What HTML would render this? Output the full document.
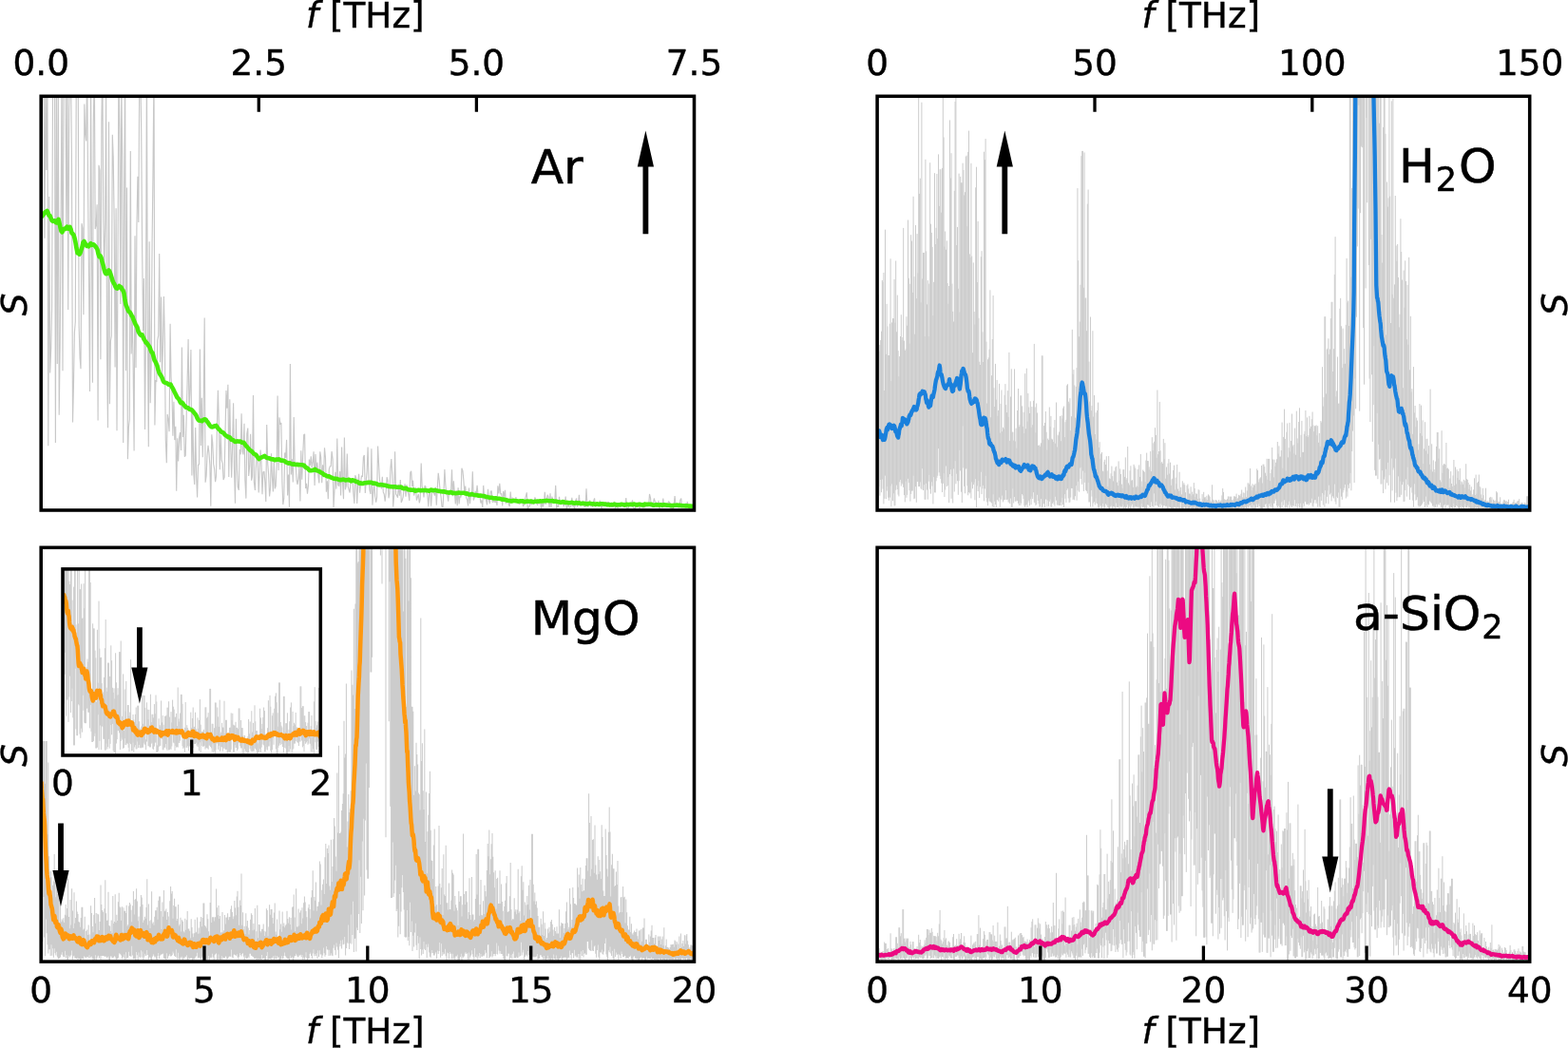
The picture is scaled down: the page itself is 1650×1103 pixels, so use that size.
<!DOCTYPE html>
<html lang="en">
<head>
<meta charset="utf-8">
<title>Spectra: Ar, H2O, MgO, a-SiO2</title>
<style>
html,body{margin:0;padding:0;background:#fff;}
body{width:1650px;height:1103px;overflow:hidden;}
svg{display:block;}
</style>
</head>
<body>
<svg width="1650" height="1103" viewBox="0 0 1650 1103">
<defs><clipPath id="c_ar"><rect x="43.2" y="101.3" width="687.3" height="435.7"/></clipPath><clipPath id="c_h2o"><rect x="923.1" y="101.3" width="686.6" height="435.7"/></clipPath><clipPath id="c_mgo"><rect x="43.2" y="576.3" width="687.3" height="435.8"/></clipPath><clipPath id="c_sio2"><rect x="923.1" y="576.3" width="686.6" height="435.8"/></clipPath><clipPath id="c_ins"><rect x="66" y="598.9" width="271.3" height="196.1"/></clipPath></defs>
<g id="ar">
<path d="M43.2,71.3 44.2,125.6 45.1,71.3 46.1,96.4 47,250.7 48,71.3 48.9,179.1 49.9,90.4 50.8,469.2 51.8,206.9 52.7,392.5 53.7,366.8 54.6,322.9 55.6,71.3 56.5,71.3 57.5,71.3 58.4,465.9 59.4,71.3 60.3,383.1 61.3,84.3 62.2,436.7 63.2,361.4 64.1,233.4 65.1,71.3 66,390.3 67,71.3 67.9,71.3 68.9,71.3 69.8,242.1 70.8,71.3 71.7,326.1 72.7,117.2 73.6,71.3 74.6,81.8 75.5,173.4 76.5,444.6 77.4,407.3 78.4,350 79.3,338.5 80.3,71.3 81.2,79.4 82.2,71.3 83.1,343 84.1,376.4 85,388.2 86,235.2 86.9,240 87.9,331.3 88.8,109.6 89.8,141.3 90.7,148.4 91.7,71.3 92.6,200.8 93.6,301.2 94.5,412.1 95.5,71.3 96.4,249.7 97.4,402.8 98.3,128.7 99.3,71.3 100.2,241 101.2,236.6 102.1,215.3 103.1,442.6 104,173.8 105,179.4 105.9,378.3 106.9,128.6 107.8,71.3 108.8,232.2 109.7,286.2 110.7,233.5 111.6,98.3 112.6,378.7 113.5,450.3 114.5,128.2 115.4,425.2 116.4,359 117.3,353.7 118.3,141.8 119.2,165.7 120.2,235 121.1,386.4 122.1,219.3 123,453.3 124,274.8 124.9,73.2 125.9,135.6 126.8,320.1 127.8,90.8 128.7,164.6 129.7,465.9 130.6,217 131.6,71.3 132.5,390.2 133.5,197.5 134.4,483.3 135.4,449.5 136.3,441.5 137.3,159.1 138.2,372.4 139.2,332.8 140.1,380.9 141.1,474.5 142,248.3 143,387.1 143.9,239.7 144.9,185.7 145.8,233.9 146.8,71.3 147.7,71.3 148.7,138.1 149.6,259.8 150.6,348.2 151.5,292.9 152.5,452 153.4,354.9 154.4,71.3 155.3,340.4 156.3,470.3 157.2,254.2 158.2,424.3 159.1,384.5 160.1,253.4 161,182.6 162,71.3 162.9,447.4 163.9,399.9 164.8,402 165.8,357.8 166.7,352.8 167.7,266.9 168.6,381.3 169.6,312.6 170.5,395.8 171.5,362.6 172.4,311.9 173.4,360.3 174.3,462.5 175.3,487.3 176.2,436 177.2,441.9 178.1,454.3 179.1,340.7 180,396.8 181,414.4 181.9,458.7 182.9,422.7 183.8,463.1 184.8,448.7 185.7,516.8 186.7,461.3 187.6,485.4 188.6,460.5 189.5,455.1 190.5,474 191.4,365.5 192.4,459.9 193.3,436.8 194.3,480.7 195.2,479.5 196.2,438.1 197.1,402.7 198.1,356.9 199,432.5 200,409.3 200.9,368 201.9,500.4 202.8,432.1 203.8,497.7 204.7,509.9 205.7,449.9 206.6,499.8 207.6,523.6 208.5,489.1 209.5,488.9 210.4,367.5 211.4,469 212.3,418.8 213.3,481.3 214.2,425.5 215.2,334.4 216.1,507.7 217.1,500.7 218,479.7 219,468.7 219.9,476.1 220.9,489.7 221.8,532.7 222.8,457.3 223.7,465.9 224.7,488.4 225.6,493.4 226.6,507.1 227.5,501.5 228.5,444.8 229.4,410.7 230.4,448.1 231.3,494.3 232.3,457.7 233.2,484.2 234.2,487.6 235.1,505 236.1,502.4 237,455.1 238,411.1 238.9,429.7 239.9,404.8 240.8,501.9 241.8,420.2 242.7,468.5 243.7,502.7 244.6,469.7 245.6,424.2 246.5,492.8 247.5,529.7 248.4,440.8 249.4,493.6 250.3,512.7 251.3,515.9 252.2,473 253.2,478.3 254.1,435.3 255.1,475 256,478.4 257,445.7 257.9,505.8 258.9,524.6 259.8,456.7 260.8,450.6 261.7,500.9 262.7,490.1 263.6,456.7 264.6,505.7 265.5,501.5 266.5,416 267.4,507.6 268.4,515.9 269.3,492.8 270.3,476.7 271.2,483.1 272.2,518.6 273.1,497.7 274.1,473.6 275,485.5 276,520.2 276.9,497 277.9,496.1 278.8,506.8 279.8,528 280.7,447 281.7,487.5 282.6,498.7 283.6,522.4 284.5,514.4 285.5,477.3 286.4,501.8 287.4,517.4 288.3,485.3 289.3,514.4 290.2,511.6 291.2,487.6 292.1,416.5 293.1,495.1 294,439.3 295,446.7 295.9,445 296.9,507.1 297.8,531.1 298.8,524.3 299.7,476.4 300.7,481.9 301.6,462.9 302.6,521.5 303.5,499.6 304.5,533.7 305.4,383 306.4,499.5 307.3,483.3 308.3,507.6 309.2,438.9 310.2,490.3 311.1,486.9 312.1,505.2 313,509.9 314,503.3 314.9,491.2 315.9,527.5 316.8,474.2 317.8,504.8 318.7,479.2 319.7,457.7 320.6,456.8 321.6,514.1 322.5,508.9 323.5,519.6 324.4,511.4 325.4,483.6 326.3,490 327.3,480.2 328.2,492.2 329.2,485.9 330.1,475.2 331.1,511 332,478.1 333,497.1 333.9,486.6 334.9,501.3 335.8,508.4 336.8,475.3 337.7,481.4 338.7,508.3 339.6,489.2 340.6,500.4 341.5,471.2 342.5,482 343.4,517.7 344.4,506.2 345.3,525.3 346.3,494 347.2,490.9 348.2,490.6 349.1,475 350.1,483.3 351,534.2 352,516 352.9,496.8 353.9,514.6 354.8,461.6 355.8,510.4 356.7,511.8 357.7,496 358.6,521.4 359.6,470.6 360.5,506.4 361.5,525.3 362.4,460.5 363.4,515.3 364.3,511.4 365.3,477.4 366.2,511.9 367.2,515.6 368.1,518.5 369.1,506.5 370,505.9 371,504.1 371.9,519.5 372.9,530 373.8,500.2 374.8,503.1 375.7,529.9 376.7,508.3 377.6,498.8 378.6,518.6 379.5,509.4 380.5,500.5 381.4,502 382.4,481.2 383.3,478.9 384.3,519 385.2,506.8 386.2,495.5 387.1,470.6 388.1,505.7 389,515.8 390,520 390.9,472.3 391.9,531.6 392.8,518.5 393.8,508.2 394.7,522.5 395.7,528.7 396.6,523.5 397.6,469.6 398.5,487.1 399.5,505 400.4,510.2 401.4,514.4 402.3,501.9 403.3,517.9 404.2,520 405.2,527.7 406.1,519.2 407.1,502.2 408,505.2 409,524.3 409.9,519.6 410.9,493.1 411.8,483 412.8,501.1 413.7,533.5 414.7,521.2 415.6,475.2 416.6,520 417.5,521.4 418.5,523.8 419.4,509.8 420.4,521.6 421.3,505.1 422.3,528.9 423.2,526.6 424.2,522.8 425.1,514.4 426.1,509.4 427,522.6 428,510.3 428.9,516.7 429.9,520.4 430.8,527 431.8,497.2 432.7,495.7 433.7,512 434.6,505.7 435.6,521.5 436.5,518.2 437.5,512.8 438.4,526.7 439.4,523.2 440.3,520 441.3,529.4 442.2,525.4 443.2,487.5 444.1,511.5 445.1,515.6 446,523.4 447,511.2 447.9,512.2 448.9,518.2 449.8,520.6 450.8,533.2 451.7,519.3 452.7,518.3 453.6,532.6 454.6,517.6 455.5,514.1 456.5,518.8 457.4,521.7 458.4,512.8 459.3,531.8 460.3,513.6 461.2,497.8 462.2,505.9 463.1,516.6 464.1,523.2 465,533.1 466,533.9 466.9,517.5 467.9,494 468.8,510 469.8,520.3 470.7,520.9 471.7,527.7 472.6,516.7 473.6,518.8 474.5,519.3 475.5,494.2 476.4,522.3 477.4,506.4 478.3,518.3 479.3,530.5 480.2,516.3 481.2,532.2 482.1,513.2 483.1,530.4 484,522.2 485,523.4 485.9,492.8 486.9,495.4 487.8,504.5 488.8,518.2 489.7,511.6 490.7,523.9 491.6,525.8 492.6,532.5 493.5,513.6 494.5,530.3 495.4,521.4 496.4,522.9 497.3,496.2 498.3,526.5 499.2,523.8 500.2,516.8 501.1,520.8 502.1,510.7 503,520.5 504,519.6 504.9,521.8 505.9,529.5 506.8,526.5 507.8,534.1 508.7,510.9 509.7,525.7 510.6,520.7 511.6,526.6 512.5,531.4 513.5,514.9 514.4,525.7 515.4,530.2 516.3,517.3 517.3,516.6 518.2,528.5 519.2,528.1 520.1,526.7 521.1,529.1 522,525.3 523,531.9 523.9,511.4 524.9,519.5 525.8,508.8 526.8,520.3 527.7,519.4 528.7,532.4 529.6,517 530.6,522.7 531.5,515.9 532.5,530.3 533.4,524.1 534.4,525.4 535.3,531.3 536.3,532.9 537.2,517.5 538.2,530 539.1,523.6 540.1,528.7 541,527 542,528.6 542.9,523 543.9,527.6 544.8,529.9 545.8,529.2 546.7,530.8 547.7,529.2 548.6,527.9 549.6,527.6 550.5,532.9 551.5,531.3 552.4,525.3 553.4,522.1 554.3,518.4 555.3,536.2 556.2,533.9 557.2,533 558.1,526.3 559.1,531.5 560,525.4 561,529.7 561.9,530.9 562.9,523.4 563.8,525.7 564.8,530.2 565.7,531.6 566.7,525.9 567.6,530.4 568.6,526.4 569.5,535.5 570.5,528.4 571.4,533.4 572.4,529.6 573.3,517.7 574.3,530.9 575.2,526.5 576.2,520.8 577.1,523.3 578.1,533.9 579,519.3 580,534.2 580.9,522.5 581.9,527.2 582.8,528.1 583.8,527.5 584.7,510.9 585.7,534.9 586.6,532 587.6,533.8 588.5,522.8 589.5,529.6 590.4,531.1 591.4,529.1 592.3,530.4 593.3,533 594.2,529.5 595.2,522.5 596.1,535.4 597.1,534 598,527.4 599,534.2 599.9,533.7 600.9,532.9 601.8,523.8 602.8,532.7 603.7,532.9 604.7,535.5 605.6,526.9 606.6,524.6 607.5,533.6 608.5,530.2 609.4,520.7 610.4,532.5 611.3,530.7 612.3,532 613.2,526.8 614.2,530.5 615.1,533.7 616.1,532.9 617,514.4 618,532.6 618.9,533.2 619.9,529.2 620.8,526.5 621.8,533.2 622.7,529.3 623.7,533.8 624.6,527.4 625.6,524.4 626.5,533 627.5,531.9 628.4,529.3 629.4,532.1 630.3,532.8 631.3,526.5 632.2,531.8 633.2,535.6 634.1,530.3 635.1,528.1 636,532.9 637,531.8 637.9,528.1 638.9,532.6 639.8,528.2 640.8,528.9 641.7,531.1 642.7,532.1 643.6,533.5 644.6,533.5 645.5,533.6 646.5,527.8 647.4,535.3 648.4,532.1 649.3,533.5 650.3,534.5 651.2,531.4 652.2,532.8 653.1,533.9 654.1,529.4 655,530.9 656,533.5 656.9,533 657.9,529.8 658.8,524.1 659.8,535.2 660.7,535.7 661.7,533 662.6,531.4 663.6,530.1 664.5,530.3 665.5,526.3 666.4,534 667.4,534.7 668.3,536.1 669.3,530.5 670.2,530.2 671.2,533 672.1,532.5 673.1,535.3 674,532.4 675,530.2 675.9,530.1 676.9,534.9 677.8,528.5 678.8,534.4 679.7,529.8 680.7,532 681.6,531.8 682.6,532.9 683.5,520 684.5,524.1 685.4,533.3 686.4,532.9 687.3,531.4 688.3,524.5 689.2,527.9 690.2,528 691.1,532.9 692.1,532.3 693,526.9 694,535.9 694.9,530.6 695.9,531.9 696.8,534.4 697.8,524.6 698.7,532.7 699.7,532.6 700.6,532.2 701.6,530 702.5,531.8 703.5,527.7 704.4,528.4 705.4,530.4 706.3,533.4 707.3,535.4 708.2,535.5 709.2,531 710.1,522 711.1,532.2 712,530.3 713,533.2 713.9,533.5 714.9,533.8 715.8,526.3 716.8,524.5 717.7,533.9 718.7,532 719.6,533.6 720.6,533.4 721.5,529.9 722.5,531.6 723.4,528 724.4,533.7 725.3,535.4 726.3,533.7 727.2,533 728.2,534.4 729.1,531.2 730.1,533.6 731,534.4" fill="none" stroke="#c8c8c8" stroke-width="1.15" stroke-linejoin="bevel" clip-path="url(#c_ar)"/>
<path d="M43.5,228.4 44.5,227.4 45.5,226.1 46.5,225 47.5,223.1 48.5,222.8 49.5,221.9 50.5,223.6 51.5,226.7 52.5,226.9 53.5,229.5 54.5,232 55.5,232.8 56.5,232.3 57.5,232.2 58.5,234 59.5,234.4 60.5,232.5 61.5,230.8 62.5,234.6 63.5,239.6 64.5,243.3 65.5,244.4 66.5,241.3 67.5,240.9 68.5,241.1 69.5,239.8 70.5,238.6 71.5,240.7 72.5,240.5 73.5,238.8 74.5,241.1 75.5,245.3 76.5,246 77.5,247.2 78.5,250.6 79.5,255.3 80.5,261.3 81.5,266.3 82.5,266.2 83.5,267.6 84.5,266.1 85.5,262.8 86.5,259.7 87.5,255.1 88.5,254 89.5,255.8 90.5,257.7 91.5,259 92.5,258.6 93.5,259.3 94.5,257.4 95.5,256.3 96.5,257.8 97.5,257.4 98.5,257.3 99.5,258.4 100.5,259.4 101.5,260.8 102.5,262.8 103.5,267.3 104.5,270.2 105.5,269.1 106.5,271.3 107.5,275.4 108.5,278.8 109.5,283.1 110.5,286.6 111.5,288.1 112.5,288.1 113.5,285.6 114.5,284.4 115.5,286.2 116.5,288.8 117.5,292.2 118.5,295.6 119.5,297.6 120.5,299.2 121.5,301.9 122.5,303.3 123.5,303.7 124.5,302.7 125.5,301 126.5,302.2 127.5,302.3 128.5,304.7 129.5,305.7 130.5,308.8 131.5,315.8 132.5,320.9 133.5,323.2 134.5,326 135.5,327.8 136.5,328.4 137.5,330 138.5,332.2 139.5,333.4 140.5,336.4 141.5,338.6 142.5,341.2 143.5,342.8 144.5,344.6 145.5,348.6 146.5,350.5 147.5,352.1 148.5,352.9 149.5,352.4 150.5,354.7 151.5,357 152.5,358.5 153.5,360.6 154.5,361 155.5,362.5 156.5,364 157.5,365.3 158.5,368.1 159.5,370.6 160.5,371.4 161.5,375.2 162.5,379 163.5,380.6 164.5,382.8 165.5,385.2 166.5,389.1 167.5,392.2 168.5,394.2 169.5,395.5 170.5,397.5 171.5,400.3 172.5,402 173.5,402.7 174.5,402.9 175.5,403.2 176.5,403.9 177.5,404.8 178.5,404.8 179.5,404.6 180.5,406.6 181.5,408.2 182.5,410.1 183.5,412.3 184.5,414.2 185.5,416.4 186.5,418.4 187.5,419.3 188.5,420.5 189.5,423 190.5,424.2 191.5,423.7 192.5,424.7 193.5,426.4 194.5,427.3 195.5,428.5 196.5,428.9 197.5,429 198.5,429.8 199.5,430.7 200.5,431 201.5,431.3 202.5,432.2 203.5,433.4 204.5,434.7 205.5,435.8 206.5,437.4 207.5,439.8 208.5,441.6 209.5,442.6 210.5,442.8 211.5,442.7 212.5,443.2 213.5,442.3 214.5,441.5 215.5,441.3 216.5,441.6 217.5,443.1 218.5,444.3 219.5,445.8 220.5,447.4 221.5,448.6 222.5,449.2 223.5,449.4 224.5,449 225.5,448.3 226.5,448.5 227.5,448 228.5,449.6 229.5,450.9 230.5,451.7 231.5,452.9 232.5,454.1 233.5,455 234.5,455.1 235.5,456 236.5,457.4 237.5,458.3 238.5,458.8 239.5,459.6 240.5,460.3 241.5,460.1 242.5,461.1 243.5,462.8 244.5,463 245.5,463.2 246.5,464.4 247.5,465 248.5,464.7 249.5,464.4 250.5,464.5 251.5,464.6 252.5,464.5 253.5,464.9 254.5,465.8 255.5,465.7 256.5,465.8 257.5,467.4 258.5,468.7 259.5,469.6 260.5,470.9 261.5,472.1 262.5,473.2 263.5,474.3 264.5,474.7 265.5,475.7 266.5,476.8 267.5,477.8 268.5,478.3 269.5,478.9 270.5,480.4 271.5,481.7 272.5,483 273.5,482.3 274.5,481.8 275.5,481.2 276.5,480.8 277.5,480.3 278.5,479.9 279.5,480.8 280.5,481.7 281.5,482.1 282.5,482.3 283.5,482.4 284.5,482.9 285.5,483.3 286.5,483.4 287.5,483.4 288.5,483.9 289.5,484.3 290.5,483.5 291.5,483.5 292.5,483.8 293.5,483.4 294.5,483.9 295.5,484.6 296.5,484.7 297.5,484.6 298.5,485.1 299.5,485.3 300.5,486.2 301.5,486.7 302.5,487 303.5,487.7 304.5,487.3 305.5,487.5 306.5,488.3 307.5,488.6 308.5,488.8 309.5,488.3 310.5,489 311.5,489 312.5,488.8 313.5,489.3 314.5,489 315.5,489.3 316.5,489.2 317.5,489.3 318.5,489.5 319.5,489.5 320.5,490.5 321.5,491.6 322.5,492.4 323.5,492.7 324.5,493.6 325.5,495 326.5,495.3 327.5,495.2 328.5,495 329.5,494.9 330.5,494.5 331.5,493.9 332.5,494.7 333.5,495.3 334.5,495.6 335.5,495.9 336.5,496.3 337.5,497.3 338.5,497.8 339.5,498.1 340.5,499.3 341.5,500 342.5,500.1 343.5,500.8 344.5,501.4 345.5,501.3 346.5,501.4 347.5,502 348.5,502.7 349.5,502.9 350.5,503.4 351.5,503.8 352.5,503.9 353.5,503.7 354.5,503.9 355.5,504.4 356.5,504.7 357.5,505 358.5,505.3 359.5,505 360.5,504.7 361.5,504.5 362.5,505 363.5,505.4 364.5,505.3 365.5,505.3 366.5,504.9 367.5,504.9 368.5,505.8 369.5,506.4 370.5,505.3 371.5,505.5 372.5,505.9 373.5,506.1 374.5,506.8 375.5,507.1 376.5,507.3 377.5,508.2 378.5,508.7 379.5,508.4 380.5,508.9 381.5,509 382.5,508.6 383.5,508.3 384.5,508.3 385.5,508.3 386.5,508 387.5,507.7 388.5,507.7 389.5,507.9 390.5,507.8 391.5,508.1 392.5,508.7 393.5,508.6 394.5,508.6 395.5,508.9 396.5,509.4 397.5,509.9 398.5,510.3 399.5,510.4 400.5,510.1 401.5,510.3 402.5,510.4 403.5,510.5 404.5,510.8 405.5,510.8 406.5,511.1 407.5,511.5 408.5,511.6 409.5,512 410.5,512.1 411.5,512.3 412.5,512.3 413.5,512.4 414.5,512.2 415.5,512.2 416.5,512.6 417.5,512.8 418.5,512.7 419.5,512.8 420.5,512.7 421.5,512.6 422.5,512.8 423.5,513.8 424.5,514.1 425.5,514.2 426.5,513.9 427.5,513.9 428.5,514.6 429.5,515.2 430.5,515.4 431.5,515.6 432.5,515.6 433.5,515.8 434.5,515.7 435.5,515.6 436.5,516.5 437.5,516.6 438.5,516.2 439.5,516.1 440.5,515.8 441.5,516 442.5,516.3 443.5,516.3 444.5,516 445.5,516 446.5,516.1 447.5,515.9 448.5,516.2 449.5,516.3 450.5,516.5 451.5,516.6 452.5,516.1 453.5,515.6 454.5,515.8 455.5,516.1 456.5,516.1 457.5,515.9 458.5,516.1 459.5,516.4 460.5,516.6 461.5,516.9 462.5,516.9 463.5,517.1 464.5,517.2 465.5,517.4 466.5,517.2 467.5,517.2 468.5,517.8 469.5,518 470.5,518.1 471.5,518.4 472.5,518.6 473.5,518.1 474.5,518 475.5,518.7 476.5,519 477.5,518.8 478.5,519 479.5,519.2 480.5,519 481.5,518.9 482.5,518.6 483.5,518.5 484.5,519 485.5,519 486.5,518.8 487.5,518.7 488.5,518.8 489.5,519.4 490.5,519.6 491.5,519.3 492.5,520 493.5,520.5 494.5,520.5 495.5,520.4 496.5,520 497.5,520.4 498.5,520.7 499.5,520.9 500.5,521.1 501.5,521 502.5,521.2 503.5,521.8 504.5,521.8 505.5,521.5 506.5,521.7 507.5,522 508.5,522.1 509.5,522 510.5,522.5 511.5,523 512.5,523 513.5,523.3 514.5,523.5 515.5,523.7 516.5,523.7 517.5,523.8 518.5,524.1 519.5,524.5 520.5,524.5 521.5,524.2 522.5,524.5 523.5,524.7 524.5,524.7 525.5,524.8 526.5,525.1 527.5,525.4 528.5,525.7 529.5,525.6 530.5,525.6 531.5,526 532.5,526.2 533.5,526.6 534.5,526.7 535.5,526.9 536.5,527.1 537.5,527.4 538.5,527.4 539.5,527.2 540.5,526.9 541.5,527 542.5,527.2 543.5,527.2 544.5,527.5 545.5,527.6 546.5,527.5 547.5,527.4 548.5,527.5 549.5,527.3 550.5,527.3 551.5,528 552.5,528.2 553.5,527.9 554.5,527.5 555.5,527.6 556.5,527.8 557.5,527.7 558.5,527.5 559.5,527.7 560.5,528.2 561.5,528.2 562.5,527.7 563.5,527.7 564.5,527.7 565.5,527.6 566.5,527.7 567.5,527.5 568.5,527.4 569.5,527.5 570.5,527.5 571.5,527.2 572.5,527.3 573.5,527.3 574.5,527 575.5,526.9 576.5,527.1 577.5,527.3 578.5,527.2 579.5,527.2 580.5,527.3 581.5,527.1 582.5,527.6 583.5,527.7 584.5,527.5 585.5,527.7 586.5,528.1 587.5,528.2 588.5,528.2 589.5,528.7 590.5,528.7 591.5,528.2 592.5,528.1 593.5,528.5 594.5,528.9 595.5,529 596.5,528.9 597.5,529 598.5,529.3 599.5,529.3 600.5,529.1 601.5,528.9 602.5,529 603.5,529.6 604.5,529.8 605.5,529.2 606.5,529.1 607.5,529.5 608.5,529.6 609.5,529.3 610.5,529.8 611.5,530.1 612.5,529.9 613.5,529.9 614.5,529.8 615.5,530 616.5,530.4 617.5,530.4 618.5,530.4 619.5,530 620.5,529.9 621.5,530.1 622.5,530.3 623.5,530.4 624.5,530.3 625.5,530.6 626.5,530.9 627.5,530.5 628.5,530.3 629.5,530.8 630.5,530.9 631.5,530.4 632.5,530.3 633.5,530.2 634.5,530.4 635.5,530.6 636.5,530.6 637.5,530.8 638.5,531.1 639.5,531.1 640.5,531 641.5,531.4 642.5,531.2 643.5,531.1 644.5,531.2 645.5,531 646.5,530.7 647.5,531 648.5,531.4 649.5,531.2 650.5,531.2 651.5,531.3 652.5,531.2 653.5,530.8 654.5,530.9 655.5,531.1 656.5,531.3 657.5,531.6 658.5,531.3 659.5,530.9 660.5,531 661.5,531.1 662.5,530.9 663.5,530.7 664.5,530.9 665.5,531.2 666.5,530.8 667.5,530.6 668.5,530.9 669.5,531.4 670.5,531.4 671.5,530.9 672.5,530.7 673.5,530.8 674.5,531.3 675.5,531.4 676.5,531.4 677.5,531.4 678.5,530.6 679.5,530.7 680.5,530.9 681.5,530.9 682.5,530.8 683.5,530.8 684.5,530.9 685.5,530.8 686.5,531.4 687.5,531.7 688.5,531.6 689.5,531.4 690.5,531.4 691.5,531.3 692.5,531.4 693.5,531.6 694.5,531.4 695.5,531.3 696.5,531.6 697.5,531.6 698.5,531.3 699.5,531.4 700.5,531.5 701.5,531.6 702.5,531.7 703.5,531.7 704.5,531.7 705.5,532.1 706.5,532 707.5,532 708.5,532.1 709.5,531.8 710.5,531.8 711.5,531.7 712.5,531.6 713.5,531.7 714.5,532 715.5,531.8 716.5,532 717.5,532.3 718.5,532.2 719.5,532.2 720.5,532.2 721.5,532.4 722.5,532.3 723.5,532.4 724.5,532.6 725.5,532.6 726.5,532.5 727.5,532.7 728.5,532.9 729.5,532.8 730.5,532.6" fill="none" stroke="#48ec0a" stroke-width="4.6" stroke-linejoin="round" stroke-linecap="butt" clip-path="url(#c_ar)"/>
<path d="M272.3,101.3v16.5M501.4,101.3v16.5" stroke="#000" stroke-width="3.3" fill="none"/>
<rect x="43.2" y="101.3" width="687.3" height="435.7" fill="none" stroke="#000" stroke-width="3.55"/>
<polygon points="676.5,246.2 682.3,246.2 682.3,175.6 688,175.6 679.4,137.5 670.8,175.6 676.5,175.6" fill="#000"/>
</g>
<g id="h2o">
<path d="M923.5,529.5V305.1M924.3,529.5V310.1M925.1,512.2V369.7M925.9,521.7V363M926.7,505V358M927.5,518.2V348.7M928.3,504.5V294.9M929.1,514.6V296.9M929.9,530.4V287M930.7,524.9V411M931.5,500.6V241.7M932.3,525.1V372.8M933.1,516.6V319.8M933.9,512V343.5M934.7,523.7V374M935.5,526.8V374M936.3,523.6V340.7M937.1,511.6V272.3M937.9,533.1V401.1M938.7,509.4V339.4M939.5,527.2V335.1M940.3,519.3V335.1M941.1,532.3V293.9M941.9,532.2V339.7M942.7,515.8V274.5M943.5,510.6V349.3M944.3,515V310.6M945.1,520.6V369.1M945.9,522.4V396.1M946.7,507.3V375.1M947.5,504.9V354M948.3,511.6V331.2M949.1,508.5V357.8M949.9,509.6V355M950.7,512.9V239.9M951.5,521.1V358.6M952.3,528.4V369M953.1,506.7V367.4M953.9,523.8V333.2M954.7,520.9V342.7M955.5,503.8V231.5M956.3,508.2V292.7M957.1,516.1V361.6M957.9,527.6V298.8M958.7,519.9V247.2M959.5,516.6V253.6M960.3,516.6V307.9M961.1,500.8V206.8M961.9,525.2V291.1M962.7,524.5V351.7M963.5,512.2V237M964.3,528.8V314.1M965.1,507V246.1M965.9,507V287.4M966.7,512.1V99.3M967.5,512.1V203.9M968.3,507.4V187.7M969.1,514.1V318.3M969.9,515.2V107.7M970.7,493.2V293.4M971.5,516V265.9M972.3,510.2V265.9M973.1,525.8V354M973.9,525.8V167.8M974.7,508.9V264.4M975.5,515.6V320.4M976.3,525.7V295.1M977.1,506.7V354.1M977.9,499.9V298.6M978.7,514.8V171.2M979.5,519.7V235.7M980.3,507.3V244.9M981.1,511.6V259.9M981.9,530.4V332.1M982.7,502.1V296.8M983.5,518.3V182.2M984.3,518.5V257M985.1,506.3V239.8M985.9,502.9V183M986.7,500.8V251.1M987.5,472.1V162.4M988.3,497.3V216.9M989.1,500.9V178.2M989.9,504.1V178.2M990.7,508.6V223.7M991.5,518.1V176.9M992.3,508.9V99.3M993.1,498.2V144.4M993.9,523V259.6M994.7,515.5V243.5M995.5,490.5V262.7M996.3,512V253.4M997.1,511.2V298M997.9,502.1V319.7M998.7,529.2V301M999.5,499.1V126.4M1000.3,494.2V187.5M1001.1,524.9V161.2M1001.9,501V298.6M1002.7,529.5V327.9M1003.5,493.4V338.5M1004.3,517.5V200.8M1005.1,485.2V106.9M1005.9,509.3V99.3M1006.7,498.7V258M1007.5,506.2V238.9M1008.3,520.8V303.8M1009.1,506.3V182.6M1009.9,473.8V328.5M1010.7,495.4V185.8M1011.5,517.7V192.3M1012.3,529V192.3M1013.1,448.5V171.7M1013.9,492.4V179M1014.7,511.9V205.4M1015.5,519.3V202.2M1016.3,493.5V164.7M1017.1,493.1V163.6M1017.9,511.4V238.1M1018.7,521.3V159.9M1019.5,518V137.6M1020.3,519.4V267.4M1021.1,518V271M1021.9,524.5V171.8M1022.7,507.4V269.6M1023.5,514.3V371.2M1024.3,510.1V276.4M1025.1,507.7V328.1M1025.9,526.3V341.5M1026.7,504.2V197.3M1027.5,534.3V175.7M1028.3,511.4V297M1029.1,517.1V232.9M1029.9,505.9V334.8M1030.7,524.1V380.7M1031.5,512.4V384M1032.3,496.7V270.2M1033.1,520.1V264.2M1033.9,514.3V349.4M1034.7,510.9V381M1035.5,527.3V159.7M1036.3,514.4V168.1M1037.1,500.9V146.1M1037.9,524V359.6M1038.7,528.5V424.5M1039.5,532.2V378.3M1040.3,524.4V376.3M1041.1,527.7V367.6M1041.9,527.7V305.3M1042.7,528.6V439.2M1043.5,529.4V395.2M1044.3,533.1V357M1045.1,520.3V311M1045.9,534.2V408.3M1046.7,527.7V428M1047.5,531V382.9M1048.3,534V420.6M1049.1,526V399.9M1049.9,526.3V437.8M1050.7,527.7V431.9M1051.5,523.6V403.8M1052.3,533.7V455.5M1053.1,525V425M1053.9,526.3V410.5M1054.7,521.6V454.2M1055.5,528.4V449.8M1056.3,526.4V451.4M1057.1,526V415.7M1057.9,526V404.1M1058.7,516V426.1M1059.5,526V434.1M1060.3,525.6V411.1M1061.1,528.6V438.8M1061.9,528.6V370.9M1062.7,530.1V464M1063.5,524.6V417.5M1064.3,533.8V388.3M1065.1,533.8V454.7M1065.9,514.3V454.7M1066.7,529.5V463.6M1067.5,523V388.4M1068.3,527.7V464.5M1069.1,527.7V450.6M1069.9,526.6V471.6M1070.7,527.2V432M1071.5,529.9V409M1072.3,532V449.1M1073.1,528.5V447.1M1073.9,532V416.3M1074.7,529.8V416.3M1075.5,520V427.4M1076.3,521.4V448.9M1077.1,525.1V433.6M1077.9,532.2V456M1078.7,533.8V393.2M1079.5,531.7V451.3M1080.3,531V387.7M1081.1,533.8V443.6M1081.9,528.8V413.9M1082.7,526.8V428.5M1083.5,532.3V434.9M1084.3,525.3V422.3M1085.1,531.2V449.9M1085.9,522.5V428.1M1086.7,525.1V447.2M1087.5,518.2V421.8M1088.3,528.8V361.9M1089.1,529.5V428.5M1089.9,532.1V455.3M1090.7,531V424.5M1091.5,520.8V434.5M1092.3,527V469M1093.1,530.3V468.6M1093.9,533.6V468.4M1094.7,533.1V470.1M1095.5,525.1V466.3M1096.3,534.8V374.3M1097.1,533.5V374.3M1097.9,530.5V462.7M1098.7,530V448.1M1099.5,534.3V445M1100.3,525.3V433M1101.1,525.9V454.7M1101.9,532.9V473.5M1102.7,526.7V461.6M1103.5,532.8V463.1M1104.3,527.8V428.5M1105.1,525.6V448.9M1105.9,533.3V437.9M1106.7,533.6V461.7M1107.5,529.8V462.5M1108.3,528.5V465.1M1109.1,530.9V450.2M1109.9,532.6V441.9M1110.7,522.8V466.7M1111.5,526.7V423.5M1112.3,531.5V470.5M1113.1,531.5V457.5M1113.9,531.8V458.6M1114.7,532V454.5M1115.5,532V438M1116.3,528.6V464.2M1117.1,532.1V437.3M1117.9,523.9V440.5M1118.7,531V429.5M1119.5,533.9V427.6M1120.3,520.2V460.1M1121.1,524.8V444.2M1121.9,528.9V441.7M1122.7,515.9V405.5M1123.5,514.3V404.3M1124.3,524.5V422.7M1125.1,529V424.4M1125.9,528.5V419.1M1126.7,523.6V453.2M1127.5,513.9V438.2M1128.3,514V346.8M1129.1,526V393.8M1129.9,524.9V389.1M1130.7,526.3V405.5M1131.5,522.2V439.6M1132.3,511.2V406.9M1133.1,526.7V387.1M1133.9,516.4V198.1M1134.7,506.8V274.1M1135.5,517.7V354.3M1136.3,492.6V338.6M1137.1,504V299.7M1137.9,491.9V164.1M1138.7,509.8V158.9M1139.5,495.6V158.9M1140.3,517V302.7M1141.1,507.9V160.4M1141.9,497.6V313.6M1142.7,515.9V313.6M1143.5,516.9V348.2M1144.3,519.4V214.6M1145.1,508V199.5M1145.9,528.5V380.6M1146.7,528.3V422.6M1147.5,533.4V333.5M1148.3,516.1V432.1M1149.1,522.6V427.1M1149.9,533.3V348.2M1150.7,529.5V438.6M1151.5,528.1V416M1152.3,531.5V457M1153.1,524.5V434.2M1153.9,529.6V462.4M1154.7,530.2V431.9M1155.5,533.7V423.6M1156.3,535.2V470.9M1157.1,531.4V465.2M1157.9,533.3V482.7M1158.7,532.3V477.6M1159.5,535V476M1160.3,529.9V495.7M1161.1,532.9V496.3M1161.9,535.5V486.1M1162.7,533.8V483.8M1163.5,530.2V489M1164.3,531.4V480.2M1165.1,532.4V495.4M1165.9,534V511.9M1166.7,534.8V480M1167.5,535.9V503.5M1168.3,533.3V503.9M1169.1,533.3V498.3M1169.9,531.8V490.6M1170.7,535.3V501.1M1171.5,533.1V506.4M1172.3,533V495.5M1173.1,534.6V496.4M1173.9,534.8V491.7M1174.7,529.6V490.7M1175.5,533.8V507.6M1176.3,534.1V511.1M1177.1,532.7V485.4M1177.9,535V505.9M1178.7,532.6V493.4M1179.5,533.4V499M1180.3,533.4V509.6M1181.1,533.4V513.7M1181.9,531V494.2M1182.7,535.1V494.2M1183.5,533.4V501.9M1184.3,535.1V481.4M1185.1,534.2V505M1185.9,533.2V503.2M1186.7,531V470M1187.5,535V508.4M1188.3,532.7V510.4M1189.1,534.8V495.3M1189.9,536.8V490.3M1190.7,532.5V505.7M1191.5,530.6V505.3M1192.3,534.7V512.8M1193.1,533.5V488.8M1193.9,534.8V490.6M1194.7,532.7V492.8M1195.5,533.5V512.7M1196.3,533V511.5M1197.1,534V493.8M1197.9,534.9V512.3M1198.7,533.3V489.4M1199.5,535.1V501.9M1200.3,536.2V477.9M1201.1,530.1V506.5M1201.9,533.3V512.3M1202.7,534.2V494.5M1203.5,533.4V495.8M1204.3,535.3V496.7M1205.1,533.8V507.1M1205.9,535.7V484.5M1206.7,535V476.6M1207.5,531.2V485.1M1208.3,531.5V485.1M1209.1,532.1V491.4M1209.9,533.5V494.3M1210.7,534V475M1211.5,528.3V496.1M1212.3,532.8V460.2M1213.1,532.8V474M1213.9,533.7V466.4M1214.7,519.4V464.7M1215.5,532.2V450.2M1216.3,527.9V457.9M1217.1,532V481.7M1217.9,531.8V410.5M1218.7,533.2V478.1M1219.5,533.7V475M1220.3,530.5V422.9M1221.1,533.9V474.3M1221.9,530V487.2M1222.7,531.7V486.2M1223.5,534.7V487.9M1224.3,532.2V461.9M1225.1,532.3V483.1M1225.9,532.1V466.2M1226.7,533.1V503.7M1227.5,532.6V491.5M1228.3,535.5V499.7M1229.1,532.7V487.6M1229.9,535.3V483.1M1230.7,533.3V498.6M1231.5,533.8V486.7M1232.3,535.1V510.8M1233.1,535.4V504.4M1233.9,534.6V503.6M1234.7,535.9V494.9M1235.5,533.5V489.7M1236.3,534.1V515.5M1237.1,535.2V502.5M1237.9,533.3V509.1M1238.7,535.4V488.9M1239.5,533.6V514.6M1240.3,535.2V516.8M1241.1,534.5V496.7M1241.9,536.3V516.4M1242.7,528.9V512.8M1243.5,535.3V520.4M1244.3,536.1V506.3M1245.1,536.1V509.9M1245.9,533.9V508.2M1246.7,533.4V510.3M1247.5,535.4V518.2M1248.3,535.5V525.2M1249.1,532.9V511M1249.9,536.1V509.5M1250.7,536.7V514.4M1251.5,535.6V519.6M1252.3,534.2V519.6M1253.1,534.7V512.3M1253.9,536.3V521.6M1254.7,534.8V517.6M1255.5,535.8V520.3M1256.3,534V508.1M1257.1,535.5V514M1257.9,535V523.1M1258.7,536.1V519.3M1259.5,535.6V519.8M1260.3,536.2V525.2M1261.1,535.8V515.2M1261.9,533.7V515.8M1262.7,535.2V524.6M1263.5,536.3V529.2M1264.3,535.4V528.7M1265.1,536.5V520.1M1265.9,536.1V524.9M1266.7,535.3V517.8M1267.5,535.2V523.5M1268.3,536.2V523.2M1269.1,536.2V525.5M1269.9,536.6V521.7M1270.7,536.5V526.2M1271.5,536.5V520.4M1272.3,535.8V521.5M1273.1,536.5V522.7M1273.9,535.9V526.8M1274.7,535.5V528.6M1275.5,536.4V510.3M1276.3,536.9V525.7M1277.1,535V527.4M1277.9,535.3V526.2M1278.7,535.4V530.5M1279.5,536V526.1M1280.3,535.4V526.7M1281.1,535.2V527.6M1281.9,535.8V529.8M1282.7,535.5V526M1283.5,535.6V528.2M1284.3,535.4V527.1M1285.1,535.4V526.3M1285.9,535.9V521.4M1286.7,535.4V514M1287.5,535.9V517.9M1288.3,535.4V525.3M1289.1,535.2V525.9M1289.9,535.9V525.9M1290.7,535.1V526.4M1291.5,535.2V525.2M1292.3,534.8V522.5M1293.1,535.5V522.5M1293.9,536.3V526.2M1294.7,536.7V522.6M1295.5,535.8V522.7M1296.3,535.8V526.2M1297.1,535.4V527.3M1297.9,536.3V525.4M1298.7,533.9V522.2M1299.5,536.1V522.5M1300.3,536V522.9M1301.1,536.6V519.6M1301.9,535.8V525.3M1302.7,535.9V524.3M1303.5,535.5V520.8M1304.3,534.9V521.5M1305.1,534.5V521.8M1305.9,535.1V519.7M1306.7,535V515.5M1307.5,534.4V523.5M1308.3,536.3V518.4M1309.1,535V523.6M1309.9,534.9V518.8M1310.7,533.5V512.5M1311.5,535.1V523.1M1312.3,532.7V516.5M1313.1,535.8V508.4M1313.9,533.9V508.4M1314.7,532.7V509.8M1315.5,531.9V493M1316.3,534.6V511.5M1317.1,534.7V516.1M1317.9,530.2V509.3M1318.7,536.5V513.1M1319.5,531.7V510.4M1320.3,536.1V510.6M1321.1,534.6V508.9M1321.9,534.1V516.6M1322.7,530.5V493.4M1323.5,533.9V495M1324.3,530.5V507.4M1325.1,533V504.5M1325.9,532.9V503.3M1326.7,535.3V502.3M1327.5,535.3V490M1328.3,535.6V508.5M1329.1,534.2V488.7M1329.9,533.4V488.7M1330.7,534.2V491.1M1331.5,530.7V497.7M1332.3,530.4V500.8M1333.1,533.2V482.8M1333.9,535.1V504.8M1334.7,536.4V482.9M1335.5,530.3V482.9M1336.3,532.9V506.1M1337.1,529.6V498M1337.9,534.1V494.2M1338.7,532.6V471M1339.5,535.6V483.5M1340.3,529.8V502.4M1341.1,529.8V483.7M1341.9,527V490.8M1342.7,525.3V486.8M1343.5,532.2V483.3M1344.3,534.5V465M1345.1,532.8V477.6M1345.9,532V469.4M1346.7,534.5V480.6M1347.5,534.9V480.6M1348.3,528.5V473.9M1349.1,534.4V444.5M1349.9,527.7V492.8M1350.7,531.7V459.9M1351.5,526.3V430.6M1352.3,534.7V461.9M1353.1,533.9V495.3M1353.9,529.6V454.7M1354.7,534.7V445.5M1355.5,531.5V481.4M1356.3,527.7V471.2M1357.1,535.6V444.9M1357.9,530.5V475.4M1358.7,532.4V464M1359.5,534.2V435.5M1360.3,532.2V469.4M1361.1,532.2V468.1M1361.9,532.9V477.4M1362.7,526.2V450.6M1363.5,532.9V478.7M1364.3,529.9V432.6M1365.1,535.1V461.4M1365.9,532.9V466.4M1366.7,530V444M1367.5,534.5V429.3M1368.3,529.7V481.2M1369.1,535.6V457.8M1369.9,535V442.9M1370.7,535.4V475.9M1371.5,529.8V475.9M1372.3,532.7V456.7M1373.1,527.8V453.8M1373.9,528.2V432M1374.7,530.6V459.2M1375.5,531V439.4M1376.3,530V459.9M1377.1,531.7V458.1M1377.9,530.8V437.8M1378.7,529.2V451M1379.5,529.2V448.8M1380.3,524.7V441.2M1381.1,532.6V433.5M1381.9,533.4V447.5M1382.7,529.5V454.2M1383.5,526.3V448.3M1384.3,526V448.3M1385.1,530V447.4M1385.9,528.1V458.2M1386.7,533.6V448.2M1387.5,522.7V465.8M1388.3,532.7V455.9M1389.1,533.9V469.8M1389.9,522.7V443M1390.7,527V444.6M1391.5,518.9V386.2M1392.3,531.6V427.6M1393.1,520.8V418.2M1393.9,533.5V333.2M1394.7,516.2V333.2M1395.5,529.8V414.4M1396.3,522.8V367.7M1397.1,516.4V366.6M1397.9,530.4V356.3M1398.7,510.7V372.9M1399.5,520.4V367.5M1400.3,518.8V335.1M1401.1,527.4V317.8M1401.9,523.4V317.8M1402.7,522V391M1403.5,524.5V367.2M1404.3,509.6V288.9M1405.1,527.9V249.1M1405.9,530.7V417.3M1406.7,522.8V411.4M1407.5,524.2V375.5M1408.3,518.5V424.8M1409.1,533.6V424.5M1409.9,533.6V324.8M1410.7,514.4V313.8M1411.5,522.7V343.3M1412.3,525.9V387.1M1413.1,518.5V345.6M1413.9,516V383M1414.7,513.5V367.1M1415.5,509.9V382.8M1416.3,524.5V341.9M1417.1,517.5V271.9M1417.9,522.7V318.4M1418.7,510.3V316.6M1419.5,513.9V343M1420.3,508.6V100M1421.1,497.9V99.3M1421.9,516.3V291.6M1422.7,475V197.9M1423.5,453.6V99.3M1424.3,437.5V99.3M1425.1,508V99.3M1425.9,398.4V99.3M1426.7,430.3V99.3M1427.5,333.7V99.3M1428.3,259.4V99.3M1429.1,219.6V99.3M1429.9,110.8V99.3M1430.7,432.7V99.3M1431.5,224.2V99.3M1432.3,153.8V99.3M1433.1,155.2V99.3M1433.9,155.2V99.3M1434.7,345.1V99.3M1435.5,404.7V99.3M1437.1,303.5V99.3M1437.9,124V99.3M1438.7,213.3V99.3M1440.3,279V99.3M1441.1,398.6V99.3M1441.9,444.1V99.3M1442.7,251.8V99.3M1443.5,394.3V99.3M1444.3,464.9V99.3M1445.1,426.1V99.3M1445.9,364.2V99.3M1446.7,494.9V99.3M1447.5,500.6V99.3M1448.3,500.6V99.3M1449.1,434.9V99.3M1449.9,504.2V99.3M1450.7,467.8V99.3M1451.5,483.6V129.7M1452.3,482.9V99.3M1453.1,509.5V99.3M1453.9,509.5V247M1454.7,495.2V276.5M1455.5,519.1V133.9M1456.3,504.5V99.3M1457.1,501.7V99.3M1457.9,514.8V140.8M1458.7,493.8V352.4M1459.5,508.3V191.5M1460.3,486.9V217.6M1461.1,510.9V208.4M1461.9,500.2V99.3M1462.7,463.6V206.6M1463.5,528.6V340M1464.3,482.5V106.3M1465.1,516.4V309.9M1465.9,494.5V104M1466.7,492.4V313.7M1467.5,528.8V299.4M1468.3,482.6V206M1469.1,518.7V258.5M1469.9,527.2V274.8M1470.7,523.4V257M1471.5,501.4V291.9M1472.3,523.2V344.4M1473.1,523.2V330.7M1473.9,506.7V230.2M1474.7,520.8V265M1475.5,510.2V294.5M1476.3,507.3V408.2M1477.1,528.1V284.5M1477.9,527.7V323.7M1478.7,516V274.3M1479.5,504.4V295.9M1480.3,522.6V357.2M1481.1,491.7V299.8M1481.9,510V362.7M1482.7,511.8V270.8M1483.5,526V389.3M1484.3,513.3V332.8M1485.1,512.5V412.5M1485.9,518.7V409.2M1486.7,526.7V456.8M1487.5,533.6V386.1M1488.3,509.3V434.4M1489.1,520.4V427M1489.9,526.7V449.4M1490.7,526V439.6M1491.5,523.3V442.6M1492.3,532V473.5M1493.1,533.4V467.4M1493.9,532V425.1M1494.7,533V456M1495.5,531.9V426.6M1496.3,530.7V458.7M1497.1,529.3V442.3M1497.9,526.2V488M1498.7,528V472.4M1499.5,534.3V444.2M1500.3,522.6V474.4M1501.1,532.1V461.8M1501.9,534.4V461.8M1502.7,530.6V477.7M1503.5,531.4V469.1M1504.3,526.9V488.7M1505.1,528V409.6M1505.9,528.9V494.3M1506.7,529.8V467.3M1507.5,532.5V496.4M1508.3,532.5V484.4M1509.1,534.7V494.1M1509.9,532.5V497.1M1510.7,534.1V485.6M1511.5,530.7V469.9M1512.3,533.6V455M1513.1,531.4V455M1513.9,530.1V482.5M1514.7,531.5V472.3M1515.5,529V505.4M1516.3,533.6V507.4M1517.1,534.7V453.2M1517.9,536.4V497.8M1518.7,536.2V489.5M1519.5,531.7V488.1M1520.3,530.9V488.5M1521.1,534.8V489.2M1521.9,531.2V466M1522.7,531.8V492.9M1523.5,531.5V492.6M1524.3,531.4V493.7M1525.1,535.6V513.1M1525.9,535V503.5M1526.7,533.4V496.1M1527.5,534V508.9M1528.3,534.9V512M1529.1,533.2V500.4M1529.9,529.9V484M1530.7,534.5V510.9M1531.5,534.2V491.5M1532.3,532V509.4M1533.1,532.5V494.2M1533.9,533V502.9M1534.7,534.5V496M1535.5,535.8V505.2M1536.3,534.2V492.9M1537.1,532.3V510.1M1537.9,534.9V506.5M1538.7,533.1V507.6M1539.5,534.1V509.8M1540.3,535.5V504.8M1541.1,533.4V513.5M1541.9,530.2V505.8M1542.7,534.3V488.2M1543.5,534.1V504.2M1544.3,532.2V504.9M1545.1,533.5V508M1545.9,534.9V514.8M1546.7,533.8V510.1M1547.5,536V516.4M1548.3,536.2V512.3M1549.1,536.2V521.4M1549.9,536.2V520.2M1550.7,536V515.3M1551.5,535.2V503.3M1552.3,534.2V521M1553.1,535.7V499.6M1553.9,535.2V519.6M1554.7,534.1V508.2M1555.5,536.5V506.8M1556.3,536.1V499.5M1557.1,535.8V512M1557.9,534.5V513.2M1558.7,535.1V520.4M1559.5,534.7V524.3M1560.3,536.5V513.8M1561.1,535.6V521.2M1561.9,535.1V526.7M1562.7,535.2V526.1M1563.5,536.3V513.7M1564.3,535.6V527.5M1565.1,534.9V527.4M1565.9,535.6V527M1566.7,535.8V528.5M1567.5,536.1V523.8M1568.3,536.1V522.9M1569.1,534.5V526.1M1569.9,535.7V523.4M1570.7,535.4V529.1M1571.5,535.5V525.8M1572.3,536.7V526.8M1573.1,535.7V529.1M1573.9,536.7V526.6M1574.7,536.1V517.1M1575.5,536.4V518.4M1576.3,536.1V527.7M1577.1,536.1V528.4M1577.9,536.2V527.9M1578.7,536.8V523.3M1579.5,536.4V531.4M1580.3,536.6V530.9M1581.1,536.2V530.1M1581.9,536V527.7M1582.7,536.3V525.9M1583.5,536.5V526.5M1584.3,536.4V527.9M1585.1,536.3V527M1585.9,536.6V528.6M1586.7,536.3V528M1587.5,536.4V525.7M1588.3,536.3V532.2M1589.1,536.3V532M1589.9,535.6V530.3M1590.7,536.5V530M1591.5,536.3V529.5M1592.3,536.6V528M1593.1,536.7V525.8M1593.9,536.2V529.6M1594.7,536.6V528.9M1595.5,536.5V529.4M1596.3,536.2V528.1M1597.1,536.4V527M1597.9,536.4V527M1598.7,536.6V525.1M1599.5,536.8V531.1M1600.3,536.8V530M1601.1,536.5V528.9M1601.9,535.9V528.9M1602.7,535.3V530.8M1603.5,536.4V531.6M1604.3,534.8V529M1605.1,536.5V531.4M1605.9,535.2V529.6M1606.7,535.7V522.3M1607.5,536.4V522.3M1608.3,536.4V531M1609.1,536.4V531.5" fill="none" stroke="#cccccc" stroke-width="1.0" clip-path="url(#c_h2o)"/>
<path d="M923.1,454.3 923.5,454.9 923.9,456.4 924.3,456 924.7,454.9 925.1,453.4 925.5,454.6 925.9,457.4 926.3,460.1 926.7,460.1 927.1,458.6 927.5,457.7 927.9,457.7 928.3,460.3 928.7,461.7 929.1,463 929.5,461.6 929.9,461.7 930.3,462.8 930.7,462.9 931.1,461.7 931.5,459.9 931.9,457.4 932.3,455.5 932.7,452.2 933.1,451 933.5,450 933.9,452.4 934.3,451.7 934.7,450.9 935.1,448 935.5,446.7 935.9,446.4 936.3,447 936.7,447.7 937.1,448.6 937.5,447.5 937.9,448 938.3,448 938.7,451 939.1,449.9 939.5,449.8 939.9,449 940.3,448.3 940.7,447.9 941.1,448.3 941.5,449.8 941.9,451.3 942.3,454.3 942.7,454.3 943.1,454.6 943.5,455.4 943.9,457.8 944.3,459.3 944.7,459 945.1,460.6 945.5,457.8 945.9,456.5 946.3,452.1 946.7,451.7 947.1,449.7 947.5,448.9 947.9,446.8 948.3,447.3 948.7,448.4 949.1,446.2 949.5,444.1 949.9,439.9 950.3,442.4 950.7,442.5 951.1,443.7 951.5,441.3 951.9,441.1 952.3,441.4 952.7,443.2 953.1,444 953.5,444.5 953.9,445.1 954.3,446.4 954.7,445.7 955.1,444.5 955.5,444.4 955.9,442.1 956.3,441 956.7,438 957.1,437.3 957.5,436.5 957.9,437.3 958.3,436.8 958.7,436 959.1,433.6 959.5,433.6 959.9,432.1 960.3,432 960.7,431.3 961.1,430 961.5,429.5 961.9,428 962.3,429.8 962.7,431.3 963.1,431.1 963.5,430.3 963.9,430.8 964.3,431.5 964.7,430.6 965.1,427.6 965.5,427.4 965.9,425.6 966.3,423.8 966.7,420.4 967.1,418.6 967.5,415.2 967.9,416 968.3,414.1 968.7,415.5 969.1,413.6 969.5,414.2 969.9,413.8 970.3,412.7 970.7,411.7 971.1,412.5 971.5,413.9 971.9,413.3 972.3,413 972.7,412.3 973.1,414.1 973.5,414.5 973.9,416.1 974.3,420.1 974.7,421.5 975.1,424 975.5,421.1 975.9,423.1 976.3,422.9 976.7,426.3 977.1,427.9 977.5,428.6 977.9,426.9 978.3,427.2 978.7,427.1 979.1,427 979.5,423.5 979.9,420.9 980.3,418.7 980.7,416.3 981.1,416.9 981.5,417.6 981.9,417.9 982.3,415.5 982.7,413.7 983.1,412.1 983.5,410.1 983.9,406.7 984.3,404 984.7,401.7 985.1,399.5 985.5,398.8 985.9,397.4 986.3,396.3 986.7,393 987.1,391.4 987.5,390.7 987.9,389.8 988.3,387 988.7,384.5 989.1,387 989.5,391.8 989.9,393.9 990.3,394.6 990.7,394.1 991.1,396 991.5,398 991.9,400.8 992.3,402.4 992.7,404.4 993.1,405.1 993.5,406.9 993.9,407.1 994.3,408.3 994.7,407.2 995.1,409.1 995.5,407.3 995.9,406.7 996.3,405.5 996.7,405.4 997.1,404.8 997.5,405.2 997.9,404.4 998.3,403.2 998.7,401.4 999.1,399.1 999.5,401.7 999.9,403.6 1000.3,404.8 1000.7,404.4 1001.1,406.4 1001.5,409 1001.9,410.9 1002.3,412 1002.7,410.1 1003.1,411.2 1003.5,406.6 1003.9,406.1 1004.3,405.2 1004.7,405.6 1005.1,405.7 1005.5,402.6 1005.9,403.7 1006.3,400.2 1006.7,400.8 1007.1,397.8 1007.5,398.7 1007.9,398.7 1008.3,399 1008.7,401.6 1009.1,403.9 1009.5,407.9 1009.9,409.5 1010.3,406.8 1010.7,404.1 1011.1,400.6 1011.5,395 1011.9,393.1 1012.3,390.1 1012.7,391.9 1013.1,390.4 1013.5,387.8 1013.9,388.6 1014.3,390.5 1014.7,391.6 1015.1,393.5 1015.5,393.6 1015.9,394.2 1016.3,395.6 1016.7,397.5 1017.1,400.5 1017.5,403.9 1017.9,408.5 1018.3,410 1018.7,411.9 1019.1,411.2 1019.5,412 1019.9,414.2 1020.3,417.8 1020.7,420.4 1021.1,421.5 1021.5,423.2 1021.9,424.1 1022.3,424.9 1022.7,423.7 1023.1,424.2 1023.5,424 1023.9,422.6 1024.3,422.7 1024.7,421.8 1025.1,422.9 1025.5,421.7 1025.9,419.5 1026.3,420.5 1026.7,419.7 1027.1,421.2 1027.5,420.6 1027.9,421.6 1028.3,423.8 1028.7,424.3 1029.1,427.3 1029.5,429.2 1029.9,431.5 1030.3,434.7 1030.7,437.3 1031.1,440 1031.5,441.4 1031.9,444.8 1032.3,446.8 1032.7,447.1 1033.1,445.7 1033.5,443.7 1033.9,446.9 1034.3,444.1 1034.7,444.4 1035.1,439.7 1035.5,441.4 1035.9,439.8 1036.3,440.3 1036.7,440.2 1037.1,441.3 1037.5,444.2 1037.9,446.3 1038.3,449.7 1038.7,451 1039.1,455.8 1039.5,458.8 1039.9,461.3 1040.3,461.8 1040.7,463 1041.1,466.8 1041.5,467.3 1041.9,467.9 1042.3,466.6 1042.7,468 1043.1,468.3 1043.5,469.2 1043.9,469.3 1044.3,469.3 1044.7,470.9 1045.1,471.5 1045.5,473.8 1045.9,474.3 1046.3,476 1046.7,476.3 1047.1,478.1 1047.5,479.9 1047.9,482.9 1048.3,483.2 1048.7,484.9 1049.1,485.9 1049.5,487.2 1049.9,485.4 1050.3,486.7 1050.7,487.3 1051.1,489.1 1051.5,486.1 1051.9,485.7 1052.3,486 1052.7,487.1 1053.1,487.2 1053.5,486.9 1053.9,485.8 1054.3,484.6 1054.7,483.6 1055.1,484.5 1055.5,485 1055.9,484.9 1056.3,484.3 1056.7,484.5 1057.1,484.4 1057.5,483.9 1057.9,483.9 1058.3,483.1 1058.7,484.2 1059.1,484.8 1059.5,486.5 1059.9,486.4 1060.3,485.2 1060.7,484.6 1061.1,484.2 1061.5,485.3 1061.9,485 1062.3,484.8 1062.7,485.9 1063.1,487 1063.5,488.4 1063.9,488.1 1064.3,488.9 1064.7,488.3 1065.1,488.7 1065.5,489.1 1065.9,490.5 1066.3,490.8 1066.7,490.6 1067.1,490 1067.5,489.7 1067.9,490.2 1068.3,492.1 1068.7,492.5 1069.1,491.2 1069.5,490.7 1069.9,490.8 1070.3,490.8 1070.7,491.7 1071.1,491.8 1071.5,492.5 1071.9,490.9 1072.3,491.6 1072.7,492.9 1073.1,494.9 1073.5,495.2 1073.9,495 1074.3,495.8 1074.7,494.3 1075.1,494.3 1075.5,493 1075.9,492.8 1076.3,492.2 1076.7,492 1077.1,490.4 1077.5,490.1 1077.9,489 1078.3,491.4 1078.7,491.2 1079.1,490.6 1079.5,489.9 1079.9,490.4 1080.3,491.5 1080.7,490.9 1081.1,490 1081.5,489.5 1081.9,491.1 1082.3,492.2 1082.7,494.6 1083.1,493.8 1083.5,494.6 1083.9,494.7 1084.3,495.2 1084.7,494 1085.1,492.7 1085.5,491.6 1085.9,491.1 1086.3,490.4 1086.7,491 1087.1,491.4 1087.5,491 1087.9,491 1088.3,491.4 1088.7,492.6 1089.1,493.6 1089.5,492.7 1089.9,494.1 1090.3,495 1090.7,497.4 1091.1,498.8 1091.5,500 1091.9,501.6 1092.3,502 1092.7,502.6 1093.1,503 1093.5,503 1093.9,503.3 1094.3,501.7 1094.7,502.3 1095.1,501.6 1095.5,502.5 1095.9,503.8 1096.3,504.1 1096.7,503.7 1097.1,502.5 1097.5,501.9 1097.9,502.2 1098.3,501.4 1098.7,501.5 1099.1,501.2 1099.5,500.3 1099.9,500.4 1100.3,499.4 1100.7,500.3 1101.1,499.1 1101.5,499.1 1101.9,497.8 1102.3,497.3 1102.7,496.9 1103.1,498.7 1103.5,499.6 1103.9,500.1 1104.3,500.7 1104.7,500.7 1105.1,501.4 1105.5,500.7 1105.9,499.9 1106.3,499.7 1106.7,499.2 1107.1,500.5 1107.5,500.2 1107.9,501.8 1108.3,500.9 1108.7,500.9 1109.1,500.9 1109.5,501.5 1109.9,502 1110.3,502.5 1110.7,502.9 1111.1,503.6 1111.5,502.7 1111.9,502.7 1112.3,502 1112.7,502.9 1113.1,504.3 1113.5,503.6 1113.9,503.1 1114.3,501.4 1114.7,501.9 1115.1,501.8 1115.5,502.1 1115.9,503.7 1116.3,503 1116.7,504.1 1117.1,503.1 1117.5,502.4 1117.9,501.3 1118.3,500.3 1118.7,501.1 1119.1,500.2 1119.5,499.9 1119.9,496.8 1120.3,495.8 1120.7,494.9 1121.1,496.2 1121.5,494.8 1121.9,494.1 1122.3,491.9 1122.7,491.2 1123.1,490.7 1123.5,490.7 1123.9,491.7 1124.3,491.7 1124.7,491.1 1125.1,489.9 1125.5,489.4 1125.9,488.6 1126.3,488.2 1126.7,488.5 1127.1,488.9 1127.5,489 1127.9,486.8 1128.3,484.3 1128.7,481.7 1129.1,481.1 1129.5,480.6 1129.9,479 1130.3,477.2 1130.7,475.1 1131.1,473.8 1131.5,470.2 1131.9,466.5 1132.3,462.4 1132.7,460.5 1133.1,457.9 1133.5,455.5 1133.9,450.9 1134.3,449.1 1134.7,443.6 1135.1,439.6 1135.5,434.7 1135.9,429.6 1136.3,423.2 1136.7,418 1137.1,414.9 1137.5,411.7 1137.9,407.7 1138.3,404.3 1138.7,402.5 1139.1,403.7 1139.5,406.1 1139.9,407.5 1140.3,410.7 1140.7,413 1141.1,414.3 1141.5,414.5 1141.9,414.5 1142.3,417.8 1142.7,421.5 1143.1,426.9 1143.5,434.1 1143.9,438.8 1144.3,442.2 1144.7,444.8 1145.1,449.2 1145.5,452.8 1145.9,456.7 1146.3,458.9 1146.7,461.4 1147.1,463.6 1147.5,467.8 1147.9,472.1 1148.3,478.4 1148.7,479.6 1149.1,482.3 1149.5,482.6 1149.9,486.4 1150.3,489.5 1150.7,492.4 1151.1,494.2 1151.5,495 1151.9,497.2 1152.3,498.3 1152.7,501.2 1153.1,500.9 1153.5,502.3 1153.9,502 1154.3,503.9 1154.7,504.7 1155.1,506.2 1155.5,506.8 1155.9,508.8 1156.3,509.7 1156.7,511.4 1157.1,511.7 1157.5,512.9 1157.9,513 1158.3,514.1 1158.7,513.5 1159.1,513.9 1159.5,513.8 1159.9,514.5 1160.3,515.5 1160.7,516.2 1161.1,516.3 1161.5,516.3 1161.9,516.8 1162.3,516.9 1162.7,517.1 1163.1,516.8 1163.5,516.9 1163.9,517.5 1164.3,517.5 1164.7,518.3 1165.1,517.7 1165.5,519.6 1165.9,520.3 1166.3,520.7 1166.7,520.4 1167.1,519.6 1167.5,519.7 1167.9,519.2 1168.3,519.7 1168.7,519.7 1169.1,518.8 1169.5,518.7 1169.9,518.9 1170.3,519.2 1170.7,519.9 1171.1,519.6 1171.5,520.7 1171.9,520.1 1172.3,521.2 1172.7,521.6 1173.1,521.7 1173.5,521.2 1173.9,521.2 1174.3,521.9 1174.7,521.5 1175.1,520.9 1175.5,521.2 1175.9,521.3 1176.3,521.3 1176.7,520.8 1177.1,521.7 1177.5,521.9 1177.9,521.7 1178.3,521.2 1178.7,521.2 1179.1,521.9 1179.5,521.7 1179.9,522.3 1180.3,522.1 1180.7,521.6 1181.1,521.3 1181.5,521.5 1181.9,522.4 1182.3,522.4 1182.7,522.2 1183.1,522.6 1183.5,523.3 1183.9,523.6 1184.3,522.9 1184.7,522.2 1185.1,521.9 1185.5,522.3 1185.9,523.2 1186.3,524 1186.7,523.6 1187.1,523.7 1187.5,524 1187.9,524.4 1188.3,524 1188.7,524 1189.1,523.3 1189.5,523.6 1189.9,523.3 1190.3,524.4 1190.7,524.7 1191.1,524.5 1191.5,524 1191.9,523.8 1192.3,523.5 1192.7,523.5 1193.1,523.6 1193.5,524.4 1193.9,524.8 1194.3,524 1194.7,523.6 1195.1,522.7 1195.5,523.1 1195.9,522.7 1196.3,523.5 1196.7,523.7 1197.1,524.2 1197.5,524.2 1197.9,523.8 1198.3,523.5 1198.7,523.3 1199.1,523.2 1199.5,523.1 1199.9,522.5 1200.3,522.5 1200.7,522.6 1201.1,523 1201.5,522.3 1201.9,522 1202.3,520.8 1202.7,520.9 1203.1,520.6 1203.5,520.9 1203.9,521.4 1204.3,521.5 1204.7,521.9 1205.1,521.4 1205.5,519.9 1205.9,519.2 1206.3,518.2 1206.7,517.3 1207.1,515.7 1207.5,515.3 1207.9,515.1 1208.3,513.8 1208.7,512.1 1209.1,510.7 1209.5,510.5 1209.9,511 1210.3,510.1 1210.7,509.7 1211.1,508.3 1211.5,508.3 1211.9,507.4 1212.3,506.7 1212.7,505.4 1213.1,505 1213.5,504.4 1213.9,504.1 1214.3,503.2 1214.7,503.6 1215.1,505 1215.5,505.8 1215.9,507.4 1216.3,507.5 1216.7,506.9 1217.1,506 1217.5,505.7 1217.9,507.2 1218.3,507.8 1218.7,508.2 1219.1,507.8 1219.5,508.2 1219.9,510.4 1220.3,511 1220.7,511.4 1221.1,510.9 1221.5,511.1 1221.9,511 1222.3,510.6 1222.7,511.4 1223.1,511.7 1223.5,512.4 1223.9,513.2 1224.3,514.7 1224.7,515.4 1225.1,516.1 1225.5,516.7 1225.9,518.1 1226.3,518.1 1226.7,518.7 1227.1,519.4 1227.5,520.5 1227.9,520.8 1228.3,521.5 1228.7,522.2 1229.1,522.5 1229.5,521.7 1229.9,521.4 1230.3,522 1230.7,522.3 1231.1,522.2 1231.5,521.7 1231.9,521.6 1232.3,521.7 1232.7,522.9 1233.1,523.4 1233.5,523.8 1233.9,523.3 1234.3,523.2 1234.7,523.4 1235.1,523.6 1235.5,523.6 1235.9,523.7 1236.3,523.7 1236.7,524.1 1237.1,524 1237.5,523.9 1237.9,524.6 1238.3,524.7 1238.7,525 1239.1,524.8 1239.5,525.5 1239.9,525.5 1240.3,525.5 1240.7,525.9 1241.1,525.8 1241.5,526 1241.9,525 1242.3,525.6 1242.7,526.1 1243.1,526.1 1243.5,525.9 1243.9,525.9 1244.3,526.4 1244.7,526.7 1245.1,526.4 1245.5,526.3 1245.9,526.2 1246.3,526.2 1246.7,526.3 1247.1,527.2 1247.5,527.7 1247.9,528.4 1248.3,527.9 1248.7,527.9 1249.1,527.9 1249.5,527.8 1249.9,528.2 1250.3,528.2 1250.7,528.7 1251.1,528.6 1251.5,528.8 1251.9,528.6 1252.3,529 1252.7,529 1253.1,529.5 1253.5,529.2 1253.9,529.7 1254.3,529.6 1254.7,529.6 1255.1,529.2 1255.5,528.6 1255.9,528.6 1256.3,529.1 1256.7,529.5 1257.1,529.4 1257.5,528.9 1257.9,529.3 1258.3,529.3 1258.7,529.4 1259.1,529.7 1259.5,530.1 1259.9,530.5 1260.3,530.5 1260.7,530.3 1261.1,530.7 1261.5,530.7 1261.9,531.2 1262.3,530.9 1262.7,530.8 1263.1,530.3 1263.5,530.5 1263.9,531.2 1264.3,531.7 1264.7,531.9 1265.1,531.4 1265.5,531.3 1265.9,531 1266.3,530.8 1266.7,531.1 1267.1,531.2 1267.5,531.5 1267.9,531.5 1268.3,531.1 1268.7,531.1 1269.1,530.8 1269.5,530.9 1269.9,531.1 1270.3,531.4 1270.7,531.6 1271.1,531.6 1271.5,531.2 1271.9,531.5 1272.3,531.6 1272.7,532.2 1273.1,532.3 1273.5,532.1 1273.9,531.9 1274.3,531.7 1274.7,532.2 1275.1,532.4 1275.5,532.6 1275.9,532.4 1276.3,532.2 1276.7,532.2 1277.1,532 1277.5,532.5 1277.9,532.5 1278.3,532.4 1278.7,532.1 1279.1,532.6 1279.5,532.8 1279.9,532.8 1280.3,532.3 1280.7,532.3 1281.1,531.8 1281.5,531.9 1281.9,531.7 1282.3,532 1282.7,532.1 1283.1,532.2 1283.5,532.1 1283.9,531.8 1284.3,531.5 1284.7,531.7 1285.1,532 1285.5,532.3 1285.9,532.6 1286.3,532.7 1286.7,532.5 1287.1,531.9 1287.5,531.7 1287.9,532 1288.3,532 1288.7,531.7 1289.1,532 1289.5,531.9 1289.9,532.3 1290.3,531.8 1290.7,531.6 1291.1,531.3 1291.5,531.2 1291.9,531.6 1292.3,531.8 1292.7,531.9 1293.1,532.1 1293.5,531.8 1293.9,531.9 1294.3,531.5 1294.7,531.5 1295.1,531 1295.5,531.1 1295.9,531.6 1296.3,531.7 1296.7,531.4 1297.1,530.9 1297.5,531.2 1297.9,531.1 1298.3,531.5 1298.7,531.6 1299.1,531.9 1299.5,531.9 1299.9,531.7 1300.3,530.8 1300.7,530.4 1301.1,530.6 1301.5,530.4 1301.9,529.9 1302.3,530.2 1302.7,530.5 1303.1,530.9 1303.5,530.9 1303.9,531.1 1304.3,530.5 1304.7,529.9 1305.1,529.5 1305.5,529.2 1305.9,529.1 1306.3,529.1 1306.7,529.5 1307.1,529.3 1307.5,528.8 1307.9,528.6 1308.3,528 1308.7,527.8 1309.1,527.6 1309.5,527.7 1309.9,528.1 1310.3,527.9 1310.7,528.2 1311.1,527.7 1311.5,528.3 1311.9,527.8 1312.3,527.8 1312.7,527.2 1313.1,526.9 1313.5,526.7 1313.9,526.4 1314.3,526.5 1314.7,526.5 1315.1,526.4 1315.5,525.8 1315.9,525.6 1316.3,525 1316.7,525.2 1317.1,524.8 1317.5,525.7 1317.9,526.2 1318.3,526.1 1318.7,525.9 1319.1,524.8 1319.5,524.7 1319.9,524.5 1320.3,524.3 1320.7,524 1321.1,524 1321.5,524 1321.9,523.7 1322.3,522.7 1322.7,522.7 1323.1,523.1 1323.5,523.5 1323.9,523.4 1324.3,522.6 1324.7,522.4 1325.1,521.8 1325.5,522 1325.9,522 1326.3,521.7 1326.7,521.4 1327.1,521.2 1327.5,521.3 1327.9,521.2 1328.3,520.8 1328.7,521.8 1329.1,521.4 1329.5,521.7 1329.9,520.7 1330.3,520.6 1330.7,520.2 1331.1,519.9 1331.5,520.5 1331.9,520.3 1332.3,520.9 1332.7,520.5 1333.1,520.4 1333.5,519.4 1333.9,518.8 1334.3,518.8 1334.7,519.3 1335.1,520.2 1335.5,519.9 1335.9,519 1336.3,518.7 1336.7,518.3 1337.1,519.2 1337.5,517.9 1337.9,517.5 1338.3,517 1338.7,517.3 1339.1,517.4 1339.5,517.6 1339.9,517.6 1340.3,517.6 1340.7,516.6 1341.1,516.5 1341.5,515.5 1341.9,515.4 1342.3,515.3 1342.7,515.6 1343.1,516 1343.5,515.9 1343.9,515.7 1344.3,515 1344.7,514.7 1345.1,514.2 1345.5,513.8 1345.9,513.6 1346.3,512.8 1346.7,511.9 1347.1,509.8 1347.5,509.6 1347.9,509.4 1348.3,509.3 1348.7,509 1349.1,509.2 1349.5,508.3 1349.9,506.5 1350.3,505.5 1350.7,505.5 1351.1,506.9 1351.5,506.6 1351.9,507.1 1352.3,506.2 1352.7,506.6 1353.1,506 1353.5,506.1 1353.9,505.4 1354.3,505.2 1354.7,503.6 1355.1,503.9 1355.5,504.2 1355.9,505.1 1356.3,505.6 1356.7,505.6 1357.1,505.8 1357.5,503.9 1357.9,504.2 1358.3,503.9 1358.7,505.2 1359.1,504.5 1359.5,504.1 1359.9,503.7 1360.3,502.5 1360.7,501.9 1361.1,501.8 1361.5,503.5 1361.9,504.6 1362.3,503.4 1362.7,501.8 1363.1,501.4 1363.5,501.3 1363.9,501.3 1364.3,501.2 1364.7,501.6 1365.1,502.2 1365.5,501.7 1365.9,502.7 1366.3,503.8 1366.7,504.5 1367.1,504.1 1367.5,504 1367.9,502.8 1368.3,501.9 1368.7,501.4 1369.1,501.5 1369.5,501.5 1369.9,501.6 1370.3,501.7 1370.7,502.3 1371.1,503.7 1371.5,503.6 1371.9,504.1 1372.3,502.9 1372.7,503.3 1373.1,502.4 1373.5,502.6 1373.9,503.1 1374.3,505.2 1374.7,504.9 1375.1,504.8 1375.5,503.4 1375.9,502.9 1376.3,500.7 1376.7,500.3 1377.1,500.8 1377.5,501.9 1377.9,502.3 1378.3,502.4 1378.7,501.7 1379.1,500.6 1379.5,500 1379.9,500.6 1380.3,501.6 1380.7,502.7 1381.1,502.8 1381.5,501.3 1381.9,501.2 1382.3,501.4 1382.7,501.3 1383.1,501 1383.5,501.1 1383.9,502.7 1384.3,501.5 1384.7,498.8 1385.1,497.3 1385.5,498.2 1385.9,498.6 1386.3,498.6 1386.7,497.7 1387.1,497.5 1387.5,496.9 1387.9,495.3 1388.3,494.1 1388.7,492 1389.1,491.7 1389.5,490.6 1389.9,490.3 1390.3,486.4 1390.7,486.4 1391.1,485.7 1391.5,487.4 1391.9,485.9 1392.3,483.1 1392.7,480.8 1393.1,480.1 1393.5,480.3 1393.9,479.5 1394.3,476.3 1394.7,475.5 1395.1,472.1 1395.5,472.4 1395.9,469.9 1396.3,468.9 1396.7,465.9 1397.1,465 1397.5,466.6 1397.9,466.5 1398.3,467 1398.7,465.8 1399.1,466.5 1399.5,466.2 1399.9,466.7 1400.3,464.7 1400.7,463.3 1401.1,463.8 1401.5,464.5 1401.9,468.1 1402.3,465.8 1402.7,466.9 1403.1,467.3 1403.5,469.1 1403.9,470.1 1404.3,469.4 1404.7,471.2 1405.1,472.4 1405.5,473.6 1405.9,473.8 1406.3,474.1 1406.7,473 1407.1,472.3 1407.5,471.7 1407.9,472.4 1408.3,472.1 1408.7,470.8 1409.1,470.6 1409.5,469.9 1409.9,469.9 1410.3,469.4 1410.7,469 1411.1,467.2 1411.5,466.2 1411.9,465.6 1412.3,466.5 1412.7,465.2 1413.1,466.1 1413.5,465.9 1413.9,464.9 1414.3,462.8 1414.7,460.9 1415.1,459.7 1415.5,459.2 1415.9,457.8 1416.3,458.4 1416.7,455.1 1417.1,452.7 1417.5,448.8 1417.9,447.9 1418.3,444.9 1418.7,443.3 1419.1,435.1 1419.5,429.8 1419.9,423 1420.3,420.7 1420.7,415.7 1421.1,407.6 1421.5,399.8 1421.9,389.4 1422.3,380 1422.7,369.4 1423.1,361.4 1423.5,351.4 1423.9,341.3 1424.3,326.5 1424.7,307 1425.1,243.7 1425.5,196.9 1425.9,160.6 1426.3,100.2 1426.7,61.3 1427.1,61.3 1427.5,61.3 1427.9,61.3 1428.3,61.3 1428.7,61.3 1429.1,61.3 1429.5,61.3 1429.9,61.3 1430.3,61.3 1430.7,61.3 1431.1,61.3 1431.5,61.3 1431.9,61.3 1432.3,61.3 1432.7,61.3 1433.1,61.3 1433.5,61.3 1433.9,61.3 1434.3,61.3 1434.7,61.3 1435.1,61.3 1435.5,61.3 1435.9,61.3 1436.3,61.3 1436.7,61.3 1437.1,61.3 1437.5,61.3 1437.9,61.3 1438.3,61.3 1438.7,61.3 1439.1,61.3 1439.5,61.3 1439.9,61.3 1440.3,61.3 1440.7,61.3 1441.1,61.3 1441.5,61.3 1441.9,61.3 1442.3,61.3 1442.7,61.3 1443.1,61.3 1443.5,61.3 1443.9,61.3 1444.3,61.3 1444.7,61.3 1445.1,61.3 1445.5,103.3 1445.9,123.4 1446.3,142.5 1446.7,163.2 1447.1,192.6 1447.5,219.8 1447.9,260.7 1448.3,300.3 1448.7,307 1449.1,313.6 1449.5,313.6 1449.9,316.8 1450.3,318 1450.7,323.2 1451.1,328.3 1451.5,332.2 1451.9,335.4 1452.3,338.4 1452.7,340.5 1453.1,346.4 1453.5,350.3 1453.9,354.6 1454.3,356.5 1454.7,359.5 1455.1,361.3 1455.5,363.8 1455.9,362.9 1456.3,364 1456.7,366.1 1457.1,371.6 1457.5,374.7 1457.9,377.2 1458.3,379.2 1458.7,385 1459.1,390.5 1459.5,391.8 1459.9,392.8 1460.3,393.9 1460.7,397.6 1461.1,401.4 1461.5,404.8 1461.9,405.1 1462.3,406.9 1462.7,401.6 1463.1,399.6 1463.5,396.7 1463.9,395.9 1464.3,395.4 1464.7,395.9 1465.1,397.6 1465.5,397.1 1465.9,396.4 1466.3,398.3 1466.7,400.7 1467.1,405 1467.5,405.8 1467.9,408.9 1468.3,412.1 1468.7,414 1469.1,416.4 1469.5,417.7 1469.9,419.4 1470.3,419.7 1470.7,423 1471.1,427.7 1471.5,429.1 1471.9,433.1 1472.3,431.7 1472.7,433.7 1473.1,431.9 1473.5,432.4 1473.9,431.6 1474.3,431.1 1474.7,429.9 1475.1,431.8 1475.5,432 1475.9,435.1 1476.3,434.9 1476.7,436.8 1477.1,438.1 1477.5,440.8 1477.9,444.2 1478.3,446.3 1478.7,447.9 1479.1,446.2 1479.5,447.8 1479.9,450.2 1480.3,453.5 1480.7,456 1481.1,456.3 1481.5,458.6 1481.9,460.9 1482.3,462.2 1482.7,463.5 1483.1,463.7 1483.5,468.2 1483.9,470.5 1484.3,471.7 1484.7,471.3 1485.1,471.4 1485.5,474.2 1485.9,475.6 1486.3,478.7 1486.7,479 1487.1,482 1487.5,482.3 1487.9,484.5 1488.3,484.9 1488.7,488.1 1489.1,489.7 1489.5,490.4 1489.9,490.3 1490.3,491 1490.7,492.2 1491.1,492.4 1491.5,492.3 1491.9,494 1492.3,495.5 1492.7,496.4 1493.1,496.6 1493.5,496.7 1493.9,496.3 1494.3,496.5 1494.7,497 1495.1,499 1495.5,499.3 1495.9,500 1496.3,499.9 1496.7,501.3 1497.1,502.3 1497.5,502.6 1497.9,503.3 1498.3,503 1498.7,502.9 1499.1,502.8 1499.5,504 1499.9,504.7 1500.3,505.1 1500.7,504.4 1501.1,506.1 1501.5,507.2 1501.9,508.3 1502.3,508.1 1502.7,507.1 1503.1,508.1 1503.5,507.9 1503.9,510 1504.3,510.4 1504.7,511.5 1505.1,511 1505.5,510.7 1505.9,510.7 1506.3,510.6 1506.7,511.5 1507.1,512.4 1507.5,513.9 1507.9,513.9 1508.3,513.7 1508.7,513.1 1509.1,512.6 1509.5,513 1509.9,513.6 1510.3,515.4 1510.7,515.5 1511.1,516.4 1511.5,515.8 1511.9,516 1512.3,516 1512.7,516.3 1513.1,516.8 1513.5,516.9 1513.9,517.3 1514.3,517 1514.7,516.2 1515.1,515.8 1515.5,516.8 1515.9,517.9 1516.3,517.9 1516.7,517 1517.1,516.2 1517.5,515.4 1517.9,516.4 1518.3,516.9 1518.7,518.1 1519.1,517.9 1519.5,517.5 1519.9,516.9 1520.3,516.6 1520.7,516.5 1521.1,516.8 1521.5,517.1 1521.9,518 1522.3,518.5 1522.7,518.7 1523.1,519 1523.5,518.5 1523.9,518.4 1524.3,518.3 1524.7,518.3 1525.1,518.6 1525.5,518 1525.9,519.1 1526.3,520 1526.7,520.4 1527.1,520.2 1527.5,519.7 1527.9,520.8 1528.3,520.6 1528.7,521 1529.1,520.7 1529.5,521.2 1529.9,521.1 1530.3,521.2 1530.7,521.8 1531.1,521.9 1531.5,522 1531.9,521.9 1532.3,522.3 1532.7,522.6 1533.1,522.6 1533.5,522.6 1533.9,523 1534.3,523.5 1534.7,523.3 1535.1,522.7 1535.5,522 1535.9,522.3 1536.3,522.8 1536.7,523.3 1537.1,523.8 1537.5,523 1537.9,522.6 1538.3,522.2 1538.7,523.3 1539.1,523.4 1539.5,523.4 1539.9,523 1540.3,523 1540.7,523.4 1541.1,522.9 1541.5,522.5 1541.9,522.2 1542.3,522.9 1542.7,523.6 1543.1,523.7 1543.5,523.8 1543.9,524.5 1544.3,525 1544.7,525.1 1545.1,524.7 1545.5,524.6 1545.9,525 1546.3,525.1 1546.7,525.1 1547.1,525.2 1547.5,525.4 1547.9,525.9 1548.3,525.1 1548.7,525.1 1549.1,525.3 1549.5,525.8 1549.9,526.2 1550.3,526.2 1550.7,526.5 1551.1,526.5 1551.5,527.1 1551.9,527.3 1552.3,527.1 1552.7,527 1553.1,527 1553.5,528.1 1553.9,528.6 1554.3,528.6 1554.7,528 1555.1,528.1 1555.5,527.9 1555.9,528.1 1556.3,528.5 1556.7,529.2 1557.1,529.3 1557.5,528.8 1557.9,528.9 1558.3,529.5 1558.7,529.7 1559.1,530.1 1559.5,530.3 1559.9,530.7 1560.3,530 1560.7,530.1 1561.1,530.2 1561.5,531.1 1561.9,531.1 1562.3,530.8 1562.7,530.9 1563.1,531 1563.5,531.8 1563.9,531.9 1564.3,531.9 1564.7,532.1 1565.1,532 1565.5,532 1565.9,531.2 1566.3,531.3 1566.7,531.3 1567.1,531.8 1567.5,531.7 1567.9,532.1 1568.3,532.3 1568.7,532.6 1569.1,532.5 1569.5,532.3 1569.9,532.6 1570.3,533.1 1570.7,533.2 1571.1,532.8 1571.5,532.4 1571.9,532.3 1572.3,532.3 1572.7,532.5 1573.1,532.7 1573.5,533.3 1573.9,532.9 1574.3,532.9 1574.7,532.9 1575.1,532.7 1575.5,532.6 1575.9,532 1576.3,532.7 1576.7,533 1577.1,533.7 1577.5,533.1 1577.9,533.1 1578.3,532.9 1578.7,532.8 1579.1,532.6 1579.5,533 1579.9,533.1 1580.3,532.8 1580.7,532.9 1581.1,532.9 1581.5,533.3 1581.9,532.6 1582.3,532.7 1582.7,532.5 1583.1,532.7 1583.5,532.8 1583.9,532.8 1584.3,533.1 1584.7,533 1585.1,533.3 1585.5,533 1585.9,533.7 1586.3,533.8 1586.7,533.7 1587.1,533.3 1587.5,533.3 1587.9,533.8 1588.3,533.9 1588.7,534 1589.1,533.4 1589.5,533 1589.9,533 1590.3,533.2 1590.7,533.4 1591.1,533.1 1591.5,533.4 1591.9,533.6 1592.3,533.7 1592.7,533.9 1593.1,534.1 1593.5,534.3 1593.9,534.2 1594.3,533.5 1594.7,532.9 1595.1,532.7 1595.5,532.7 1595.9,533.3 1596.3,533.5 1596.7,533.9 1597.1,533.7 1597.5,533.8 1597.9,534 1598.3,534.1 1598.7,534.1 1599.1,533.9 1599.5,534.1 1599.9,533.8 1600.3,533.5 1600.7,533.1 1601.1,532.9 1601.5,533.1 1601.9,533 1602.3,533.3 1602.7,533 1603.1,533.2 1603.5,533.1 1603.9,533.2 1604.3,533.5 1604.7,533.4 1605.1,533.6 1605.5,533.7 1605.9,533.9 1606.3,534.2 1606.7,534 1607.1,533.9 1607.5,533.7 1607.9,533.4 1608.3,533.3 1608.7,533.1 1609.1,533.6" fill="none" stroke="#1a80dc" stroke-width="4.3" stroke-linejoin="round" stroke-linecap="butt" clip-path="url(#c_h2o)"/>
<path d="M1152,101.3v16.5M1380.8,101.3v16.5" stroke="#000" stroke-width="3.3" fill="none"/>
<rect x="923.1" y="101.3" width="686.6" height="435.7" fill="none" stroke="#000" stroke-width="3.55"/>
<polygon points="1054.4,246.2 1060.2,246.2 1060.2,175.6 1065.9,175.6 1057.3,137.5 1048.7,175.6 1054.4,175.6" fill="#000"/>
</g>
<g id="mgo">
<path d="M43.6,975V780.1M44.4,952.7V780.1M45.2,990.9V780.1M46,944V780.1M46.8,986.6V780.1M47.6,1006.3V824.7M48.4,967.5V780.1M49.2,982.2V780.1M50,994.2V878.3M50.8,1003.6V802.6M51.6,999.3V901.2M52.4,999.2V927.2M53.2,1006.1V917M54,994.2V923.3M54.8,1005.7V945.1M55.6,998.2V931.7M56.4,1007.8V927.5M57.2,998.3V899M58,1003.3V928.2M58.8,1005.6V944.3M59.6,1001.8V921.9M60.4,1007.1V941M61.2,1009.3V935.4M62,1009.1V945.2M62.8,1008.2V983.9M63.6,1007.3V946.4M64.4,1004.7V970.3M65.2,1002.2V967.4M66,1005.4V969.4M66.8,1007.2V966.2M67.6,1007.1V971.1M68.4,1000.8V962.8M69.2,1008.1V952.1M70,1005V963.5M70.8,1009.9V955.9M71.6,1010.1V924.7M72.4,1005.7V965M73.2,1007.4V977.2M74,1006.5V947.1M74.8,1005.3V973.5M75.6,1000.5V935.2M76.4,1009.8V958.4M77.2,1006.6V976.9M78,1005.8V939.3M78.8,1008.3V971.7M79.6,1008.5V966M80.4,1009.1V948.6M81.2,1007.7V959.6M82,1010.2V962M82.8,1008.5V969.9M83.6,1009.1V970.7M84.4,1011.6V975.7M85.2,1010.3V966M86,1008.8V954.7M86.8,1008.7V954.7M87.6,1009.6V978.4M88.4,1006.3V977.6M89.2,1007.6V964.7M90,1007.5V990.6M90.8,1008.4V980M91.6,1007V978.6M92.4,1006.9V984.1M93.2,1008.6V973.4M94,1005.3V983.4M94.8,1008.3V989.7M95.6,1007.3V953.3M96.4,1006.5V960.9M97.2,1008.5V974.9M98,1010.9V981.3M98.8,1009.2V962.7M99.6,1010.2V945.1M100.4,1005.3V971.8M101.2,1010.6V961.1M102,1008.3V988.3M102.8,1006.5V961.7M103.6,1005.7V962.4M104.4,1008.4V979.1M105.2,1006.2V969.9M106,1010.1V931.6M106.8,1006.1V952M107.6,1006V958.1M108.4,1006V959.8M109.2,1006.1V986.2M110,1006.8V956.2M110.8,1006.8V926.2M111.6,1006.5V961.2M112.4,1008.1V968.9M113.2,1007.4V968.5M114,1006.6V938.7M114.8,1009.9V974.1M115.6,1010.4V974.7M116.4,1006.5V980M117.2,1006.5V968.6M118,1008V982M118.8,1008.2V943.1M119.6,1007.4V971.9M120.4,1006.1V969.9M121.2,1007V941.3M122,1009.3V971.1M122.8,1010V962.8M123.6,1009.1V969M124.4,1008.1V949.2M125.2,1003.1V939.8M126,1004.4V954.2M126.8,1003.8V955.2M127.6,1005.6V968.8M128.4,1009.2V954.3M129.2,1006.9V981.3M130,1007.8V955.2M130.8,1004.6V958.7M131.6,1010V958.7M132.4,1002.3V961M133.2,1009.5V952.8M134,1008.3V974.8M134.8,1007.7V973.3M135.6,1001.7V953.5M136.4,1006.1V950.1M137.2,1006.4V951.7M138,1006.7V957.7M138.8,995.7V970.2M139.6,1005.5V953.3M140.4,1009.3V938M141.2,1009.3V962.5M142,1008.6V947M142.8,1010.9V945.9M143.6,1002V935.2M144.4,1005.3V948.4M145.2,1010.9V969.2M146,1002.6V964.6M146.8,1007.3V977.3M147.6,1007.7V954.2M148.4,1000.2V942M149.2,1007.6V944.4M150,1001.6V951.9M150.8,1010V971.1M151.6,1007.4V968.4M152.4,1003.8V964.7M153.2,1006V966.8M154,1005.6V955M154.8,1000.1V925.2M155.6,1005V973.6M156.4,1009.7V951.4M157.2,1007.6V969.3M158,1007.6V977M158.8,1010.1V968.3M159.6,1010.7V938.3M160.4,1006.7V972.2M161.2,1004.2V970.4M162,1005.7V973.8M162.8,1007.4V964.8M163.6,1006.8V958.2M164.4,1009.4V958.2M165.2,1010.1V954.7M166,1006.1V967.8M166.8,1003.1V947.8M167.6,1009.1V943.4M168.4,1005.8V943.4M169.2,1004.6V959.1M170,1004.8V978M170.8,1003.9V949.6M171.6,1003.6V964.7M172.4,1008.2V937.1M173.2,1009.1V959.2M174,1009.1V958.6M174.8,1009.9V956.6M175.6,1003.3V968M176.4,1008.9V960M177.2,1006.4V964.4M178,1005.7V975M178.8,1004V948.2M179.6,1006.5V933M180.4,1006.3V940.5M181.2,1005.3V938.1M182,1001.4V966.8M182.8,1003.6V953M183.6,1006V945.8M184.4,1007.1V954.2M185.2,999.2V954.2M186,1007.6V969.1M186.8,1009.7V967M187.6,1002.7V952M188.4,1009.5V974.5M189.2,1009.8V972.8M190,1007.1V965.7M190.8,1008.5V980.4M191.6,1006.7V968.2M192.4,1010.3V969.7M193.2,1007.7V980.3M194,1009.2V981.6M194.8,1007.3V966.7M195.6,1006.8V978.7M196.4,1005.3V968.2M197.2,1010.2V958.9M198,1010.2V977.6M198.8,1007.8V977.6M199.6,1009.3V979.8M200.4,1008.5V987.2M201.2,1008V967.2M202,1008.7V976M202.8,1011.1V982.4M203.6,1009.2V986.2M204.4,1009.4V982.2M205.2,1008.2V967.8M206,1006.8V981.7M206.8,1006.2V980.7M207.6,1002.7V965.6M208.4,1008.3V982.7M209.2,1008.2V976.6M210,1007.6V982.5M210.8,1008.9V969.9M211.6,1009.8V964.9M212.4,1006.7V975.3M213.2,1008.3V966M214,1005.4V950.5M214.8,1007.5V950.5M215.6,1009V973.9M216.4,1009.7V975.2M217.2,1010.9V976.8M218,1009.8V962.3M218.8,1010.2V967.2M219.6,1006.1V980.3M220.4,1010.6V986.9M221.2,1007.5V950.1M222,1008.6V923M222.8,1007.5V971M223.6,1003.8V965.2M224.4,1007.5V965.2M225.2,1010.5V969.5M226,1005.3V965.2M226.8,1004V965.2M227.6,1003.2V935.5M228.4,1009.9V955.3M229.2,1010.1V963.3M230,1004.5V953.1M230.8,1009.8V966.9M231.6,1010.1V964M232.4,1010.2V981.5M233.2,1006.3V981.2M234,1009.8V960.1M234.8,1007.6V981.2M235.6,1008.2V979.2M236.4,1008.5V963M237.2,1006.5V972.6M238,1006.7V965.6M238.8,1009.5V965.6M239.6,1008.9V961.2M240.4,1007.4V968.3M241.2,1006.4V965.3M242,1006.7V964.9M242.8,1006.7V956.8M243.6,999.5V953.2M244.4,1007.6V959.9M245.2,1008.5V967.3M246,1004.8V964.4M246.8,1004.5V948M247.6,1005.2V955.6M248.4,1005.7V963.3M249.2,1004.3V943.6M250,1007.2V937.7M250.8,1009.4V954.8M251.6,1006.9V973.8M252.4,1002.9V947.5M253.2,1005V953M254,1006.4V919.5M254.8,1004V973.7M255.6,1002.9V960.2M256.4,1006.8V978.3M257.2,1010.2V974.7M258,1005.5V983.1M258.8,1008.1V961.3M259.6,1009V974.8M260.4,1008.5V968.9M261.2,1006.8V976.5M262,1007.9V983.5M262.8,1003.7V979M263.6,1003.7V967.7M264.4,1005.8V961.3M265.2,1005.9V963.1M266,1007.1V979.2M266.8,1007.2V972M267.6,1008.7V978.4M268.4,1009.1V955.9M269.2,1007.9V990.5M270,1009.8V980.2M270.8,1010.2V952.7M271.6,1008.6V987.3M272.4,1010.3V972.9M273.2,1009.1V973.2M274,1009.8V979.9M274.8,1010.3V981.6M275.6,1004.9V977.8M276.4,1009.1V977.8M277.2,1008.6V972.4M278,1008.4V979.7M278.8,1010.7V985M279.6,1010.7V980.5M280.4,1006.1V956.3M281.2,1001.9V958M282,1010.5V985.3M282.8,1009.3V975.6M283.6,1009.1V952.3M284.4,1009.1V962.8M285.2,1009.8V957.1M286,1007.7V957.1M286.8,1008.3V966M287.6,1006.3V971.9M288.4,1009.8V960.5M289.2,1005.7V950.6M290,1009V980.4M290.8,1009.2V983.7M291.6,1006V967.5M292.4,1007.8V990.3M293.2,1007.1V987.7M294,1011V958.4M294.8,1010.9V978.3M295.6,1009.4V972.4M296.4,1006.3V980.7M297.2,1009.3V959.6M298,1008.8V975.1M298.8,1005.9V971.5M299.6,1002.4V976.2M300.4,1006.3V974.3M301.2,1007.6V972.8M302,1008.5V958.8M302.8,1008.9V967.1M303.6,1008.9V971.6M304.4,1011.1V965.3M305.2,1005.8V972.9M306,1008.5V966M306.8,1008.4V978.4M307.6,1007.1V954.8M308.4,1011.9V954.3M309.2,1008V941.6M310,1006.2V965.5M310.8,1005.9V980M311.6,1003.7V935.2M312.4,1005.5V975.6M313.2,1007.2V975.4M314,1007.2V956.4M314.8,1005.6V974.6M315.6,1005.6V960.5M316.4,1004.7V958.3M317.2,1007.2V972.3M318,1004.9V955.3M318.8,1009.9V966.4M319.6,1007.4V950.3M320.4,1009.8V943.4M321.2,1007.6V949.4M322,1002.3V958.9M322.8,1008.6V965.2M323.6,1010.5V983.8M324.4,1008.8V955.6M325.2,1008.8V951.7M326,1003.9V956.9M326.8,1002.4V966.6M327.6,1006V944.5M328.4,1008.9V937M329.2,1003.5V916.2M330,999.2V958.4M330.8,1006.2V944M331.6,1003.9V947.7M332.4,1006V928.4M333.2,1003.2V958.8M334,1009V953.8M334.8,1000.2V953.8M335.6,1006.9V949.3M336.4,1000.3V906.6M337.2,1004.4V909.6M338,1004.5V952.5M338.8,1008.4V936.8M339.6,1005.4V930.7M340.4,997.4V925.4M341.2,1003.2V941.1M342,1006.7V902.2M342.8,1004.9V888M343.6,995.9V930.1M344.4,999.3V893.1M345.2,999.8V898.1M346,1006V889.5M346.8,999.7V932.4M347.6,1005.7V936.7M348.4,1003.2V883.7M349.2,1005.6V927.9M350,1006.2V912M350.8,997.8V883.3M351.6,994.5V861M352.4,1000V869.4M353.2,1005.3V901.6M354,992.6V916.7M354.8,996.5V813.6M355.6,999.7V876.4M356.4,1008.5V784.8M357.2,993.4V876.9M358,996.3V876.9M358.8,989.8V875.5M359.6,998.6V852.9M360.4,989.3V846M361.2,994.2V835.2M362,993.6V758.7M362.8,986V797.6M363.6,1005.5V793.6M364.4,997.9V719.5M365.2,991.7V891.5M366,993V864.6M366.8,973.4V836M367.6,999.1V855M368.4,992.7V851.2M369.2,962.6V832.2M370,993.5V705.5M370.8,984V720.8M371.6,948.8V731.6M372.4,1001.9V640.7M373.2,987.9V746M374,987.4V635.6M374.8,1001.5V574.3M375.6,976.4V574.3M376.4,979.1V592.5M377.2,962.1V590.9M378,905.2V574.3M378.8,981.9V574.3M379.6,922.7V574.3M380.4,972V574.3M381.2,885.5V574.3M382,958.2V574.3M382.8,861.7V574.3M383.6,942.4V574.3M384.4,863.6V574.3M385.2,803.5V574.3M386,915.5V574.3M386.8,924.7V574.3M387.6,924.7V574.3M388.4,828.9V574.3M390,707.5V574.3M390.8,707.5V574.3M391.6,691.7V574.3M400.4,584.4V574.3M402,614.5V574.3M406,881.2V574.3M409.2,759.3V574.3M410,612.3V574.3M410.8,848.8V574.3M411.6,945.1V574.3M412.4,945.1V574.3M413.2,886.4V574.3M414,944V574.3M414.8,940.2V574.3M415.6,926.4V574.3M416.4,910.7V574.3M417.2,958.9V574.3M418,956.8V574.3M418.8,986.5V574.3M419.6,974.8V574.3M420.4,941.1V574.3M421.2,983.3V574.3M422,959.4V574.3M422.8,934.2V574.3M423.6,920.9V574.3M424.4,939.1V643.6M425.2,957.5V574.3M426,986V577.9M426.8,986.8V587.8M427.6,986.2V744M428.4,957.9V574.3M429.2,990.1V574.3M430,985.9V632.6M430.8,995.2V576.6M431.6,949.7V574.3M432.4,980.9V608.3M433.2,969.5V743.8M434,1001.1V743.8M434.8,984.7V748.7M435.6,996.4V836.8M436.4,981.6V806.2M437.2,971.8V832.5M438,994.7V781.7M438.8,999.9V794M439.6,985V804.5M440.4,992.8V834.4M441.2,1009.2V835.9M442,986.5V852.4M442.8,998.9V650.5M443.6,1005.6V800.9M444.4,999.4V782.3M445.2,1004V832.3M446,991V851.9M446.8,998.7V767.5M447.6,1000.1V886M448.4,993.7V833.6M449.2,1007.9V919.2M450,996.8V875.2M450.8,993.6V857.8M451.6,1002.5V835.1M452.4,1006.8V811.7M453.2,1007.8V873.8M454,1003.3V905.6M454.8,1000.1V906.1M455.6,1002.9V925M456.4,1005.4V889.6M457.2,1005.4V872.5M458,1003.4V953.7M458.8,1002.1V932.9M459.6,1009.1V952.2M460.4,1000.5V960M461.2,1004V932.6M462,1001.1V869M462.8,992V930.1M463.6,1007.8V951.9M464.4,993.2V934.3M465.2,1006V914.1M466,1002.1V963.1M466.8,1004.5V899.3M467.6,1003.7V941.5M468.4,998.7V943.1M469.2,1006.2V889.7M470,1010.6V950.2M470.8,1002.6V950.2M471.6,1003.2V957.6M472.4,1009.6V929.5M473.2,1002.1V956.9M474,1003.9V957.2M474.8,1003.5V947.4M475.6,1009.5V915.6M476.4,1003.7V918.7M477.2,1009.4V920.6M478,1007.6V958.8M478.8,1010.1V943M479.6,1006.5V952.2M480.4,1006.5V955.6M481.2,1004.8V958.3M482,1010.8V973.9M482.8,1010.5V938.1M483.6,1010.5V949.1M484.4,1006.9V943.2M485.2,1003.7V943.2M486,1011.2V964.5M486.8,1006.4V952.2M487.6,1007.8V877.6M488.4,1006.4V941M489.2,1003.5V952.1M490,1002.1V938M490.8,1004.1V938M491.6,1003.3V949.5M492.4,1009.9V967M493.2,1002.5V960.1M494,1010.1V924.2M494.8,1007.2V963M495.6,1005.4V967.9M496.4,1000.3V922.9M497.2,1004.3V962.5M498,1006.9V962.5M498.8,1009.9V969.5M499.6,998.1V967.9M500.4,1006.9V946.1M501.2,1007.7V899.1M502,1004.5V941.4M502.8,1009.7V893.8M503.6,1006.6V893.8M504.4,1003.1V963.8M505.2,1008.5V952M506,1004V926.1M506.8,1006.7V963M507.6,1006.7V963.4M508.4,1005.6V948.2M509.2,1006.3V962M510,1004.6V931.7M510.8,999.9V938.1M511.6,1002.7V943.5M512.4,1008.4V916M513.2,994.5V888.1M514,994.1V901.2M514.8,1008.7V873.6M515.6,1007.2V920.2M516.4,1006.4V904.2M517.2,1001.2V888.2M518,1007.4V877.1M518.8,1006.2V901.7M519.6,1004.1V918.2M520.4,1004.1V934.2M521.2,1006.2V916.2M522,1004.1V956.7M522.8,992.6V925.1M523.6,1004.5V923.8M524.4,995.5V950.9M525.2,1000.4V950.9M526,1003.8V916.3M526.8,1001V951M527.6,1003.9V930.5M528.4,1003.9V948.9M529.2,1006V958.8M530,1009.1V975.4M530.8,1010.5V954.1M531.6,1010.5V947.8M532.4,995.5V929.6M533.2,1006.3V921.9M534,1006.5V959.6M534.8,1003.5V960.1M535.6,1003.7V959.1M536.4,1010.2V943.3M537.2,1007.9V908.1M538,1004.7V957.3M538.8,1009.4V968.5M539.6,1003.8V967.2M540.4,1001.5V967.6M541.2,1008.3V945.3M542,1008.3V959.5M542.8,1008.2V957.2M543.6,1006.8V962.2M544.4,1008.1V957.5M545.2,1007.7V914.8M546,1002.6V961M546.8,1006.7V959.2M547.6,1006.1V968.9M548.4,991.8V922.3M549.2,1005.4V911.2M550,1002.5V936.7M550.8,999.8V928.2M551.6,1010.1V963.4M552.4,1007.1V949.4M553.2,1005.4V971.6M554,1004.5V952.4M554.8,1006.4V942.9M555.6,1000.9V951.9M556.4,1005.1V931.8M557.2,1006.6V957.5M558,1003.8V925.7M558.8,1000.8V975.4M559.6,1010.5V877.7M560.4,1006.7V877.7M561.2,1006.7V930.7M562,1007.6V948.4M562.8,1007.2V939.4M563.6,1007.2V951.9M564.4,1006.6V948.6M565.2,1004V955.5M566,1009.8V963.9M566.8,1008.9V975.7M567.6,1008.8V975.8M568.4,1005.3V985M569.2,1004.9V966.7M570,1006.8V972.8M570.8,1007.3V983.9M571.6,1009.8V959.2M572.4,1006V985.1M573.2,1009.9V971.3M574,1009.3V977.6M574.8,1010.9V988.7M575.6,1008.9V986.9M576.4,1005.8V977.5M577.2,1010V982.2M578,1008.6V975.7M578.8,1010.7V980.5M579.6,1010.5V969.9M580.4,1008.5V968.1M581.2,1010.8V972.7M582,1009.4V978.5M582.8,1004.5V985M583.6,1009.1V976M584.4,1009.8V979.9M585.2,1005.6V982.5M586,1009.9V975.3M586.8,1008.8V982.6M587.6,1011.1V982.6M588.4,1009.3V957.3M589.2,1008.1V987.1M590,1009V974.6M590.8,1006.4V971.1M591.6,1011.1V972M592.4,1008.3V972M593.2,1007.9V982.1M594,1007V977M594.8,1008.1V972.1M595.6,1007.6V959.3M596.4,1010V949.4M597.2,1008.7V971.3M598,1007.2V978.2M598.8,1008.3V975.8M599.6,1000.4V935.1M600.4,1004.9V951.4M601.2,1009.8V975.7M602,1002.9V967.9M602.8,1003.3V934.1M603.6,1008.6V945M604.4,999.8V951M605.2,1006.5V951.1M606,1005.2V951.9M606.8,1007.4V953M607.6,1007.4V913.6M608.4,1003.9V933.7M609.2,1009.8V920.6M610,1003.9V945.8M610.8,1010.5V913M611.6,1001.3V931.1M612.4,1006V938.2M613.2,1000V924.8M614,1007.5V938M614.8,1004V936.9M615.6,1002.9V925.2M616.4,1004.7V911.1M617.2,1004.7V903.2M618,990.9V903.2M618.8,990.9V916.6M619.6,998.5V835.2M620.4,1000.1V866.1M621.2,1000.5V922.3M622,1001V858.9M622.8,989.5V914.8M623.6,1000.6V883.9M624.4,1001.1V883.2M625.2,996.2V918.7M626,995.1V868.6M626.8,1003.7V910.5M627.6,1007.7V920.4M628.4,1000V925.8M629.2,994.6V901.3M630,1007.3V920M630.8,1009.7V904.9M631.6,1002.2V917.2M632.4,1002.4V924.9M633.2,999.6V868.3M634,1003.9V880.9M634.8,1004.8V937.5M635.6,1001.5V942.9M636.4,993.1V942.9M637.2,987.6V872.6M638,1004.4V900.1M638.8,1007.2V914.6M639.6,1010.5V922.6M640.4,1000.2V875.8M641.2,1002.2V849.6M642,996.4V875.5M642.8,1003.5V943.4M643.6,1006.1V910.3M644.4,1000.7V898.8M645.2,1008.6V914.2M646,1010.6V914.2M646.8,998.7V933M647.6,1007.1V931.9M648.4,1002.4V917.4M649.2,1005V931M650,1004V906.1M650.8,1010V953.5M651.6,1004.5V961.3M652.4,1005.5V960.1M653.2,1008.8V944.5M654,1001.6V943.9M654.8,1004.1V959.9M655.6,1007.3V933M656.4,1007.1V944.6M657.2,1005.8V943.7M658,1006.2V971.4M658.8,1009.2V946.4M659.6,1008.2V960.2M660.4,1008.2V974.3M661.2,1009.1V978.4M662,1006.7V978.6M662.8,1007V964.8M663.6,1005.8V981.1M664.4,1009.6V972.3M665.2,1010.8V982.6M666,1010.9V984M666.8,1007V981.5M667.6,1006.1V979.6M668.4,1008.4V980.9M669.2,1008.7V980.9M670,1009.8V977.5M670.8,1008.7V985.2M671.6,1010.5V988.5M672.4,1010.8V979.5M673.2,1009.5V979.3M674,1007.9V993.8M674.8,1007.3V977.9M675.6,1010.4V990.8M676.4,1008.3V976.5M677.2,1008V976.5M678,1009V966.6M678.8,1011.4V996.2M679.6,1011.4V988.7M680.4,1006.8V988.7M681.2,1009.6V994M682,1009.1V997.3M682.8,1008.5V983.6M683.6,1008.9V991.6M684.4,1009.2V985.4M685.2,1007.3V979.5M686,1010.4V973.7M686.8,1009.1V987M687.6,1009.1V987M688.4,1010.1V993.3M689.2,1009.8V986.7M690,1010.2V984M690.8,1010.2V995.6M691.6,1009.4V996.3M692.4,1010.9V985.5M693.2,1008.7V989.9M694,1009.4V985.6M694.8,1009.9V985.6M695.6,1010.5V993.9M696.4,1008.6V988.4M697.2,1010.4V985.5M698,1009.7V995.3M698.8,1010V976.2M699.6,1010.8V998.5M700.4,1008.8V995.2M701.2,1011.7V988.4M702,1010.6V997.1M702.8,1009.6V996.8M703.6,1009.5V997.7M704.4,1010.6V999.1M705.2,1010.4V997M706,1009.7V994M706.8,1010.5V994.6M707.6,1010.6V993.9M708.4,1010.6V993.8M709.2,1008.1V996.7M710,1011.4V989.6M710.8,1009.7V990.6M711.6,1011.3V994.2M712.4,1008.3V991.2M713.2,1011V1000M714,1011.6V993.4M714.8,1009.6V985.5M715.6,1011.6V1000.5M716.4,1010.5V982.4M717.2,1008.7V996.9M718,1008.6V993M718.8,1009.1V990.1M719.6,1009.8V995.9M720.4,1008.9V984.2M721.2,1010.9V993.5M722,1009.2V984.5M722.8,1007.9V982.9M723.6,1011.3V990.2M724.4,1010.5V994.2M725.2,1011.5V998.6M726,1011V997.1M726.8,1008.5V994.6M727.6,1010.6V994.6M728.4,1011.1V995.2M729.2,1010.8V995.2M730,1011.3V1001.8" fill="none" stroke="#cccccc" stroke-width="1.05" clip-path="url(#c_mgo)"/>
<path d="M43.5,822.6 43.9,830.7 44.3,835.2 44.7,840.7 45.1,841.2 45.5,849.1 45.9,855.9 46.3,860.1 46.7,862.4 47.1,869 47.5,882.1 47.9,891.3 48.3,900.3 48.7,907.4 49.1,915.5 49.5,920.7 49.9,924.2 50.3,924.6 50.7,931.8 51.1,936.8 51.5,940.7 51.9,940 52.3,938.3 52.7,942.6 53.1,945.7 53.5,952.2 53.9,952.8 54.3,954.8 54.7,955.6 55.1,958.2 55.5,962.5 55.9,965.1 56.3,968.3 56.7,965.7 57.1,963.6 57.5,964.6 57.9,969 58.3,971 58.7,970.3 59.1,969.5 59.5,971.3 59.9,975.2 60.3,975.9 60.7,976.4 61.1,973.9 61.5,973.2 61.9,974.6 62.3,975.8 62.7,979.3 63.1,980.7 63.5,981.9 63.9,980.6 64.3,977.7 64.7,978.9 65.1,980.5 65.5,984.6 65.9,987 66.3,987 66.7,988.4 67.1,986.3 67.5,987.6 67.9,985.1 68.3,984.9 68.7,982.5 69.1,983 69.5,983.1 69.9,985.3 70.3,985.6 70.7,985.3 71.1,985.3 71.5,984.4 71.9,985.7 72.3,986.6 72.7,988.1 73.1,988.2 73.5,986.1 73.9,986.3 74.3,985.4 74.7,986.7 75.1,986 75.5,986.3 75.9,986.7 76.3,987.8 76.7,986 77.1,984.8 77.5,984.4 77.9,985.8 78.3,987.5 78.7,987.6 79.1,987.2 79.5,987.2 79.9,987.3 80.3,989.1 80.7,988.7 81.1,990.2 81.5,991.2 81.9,990.8 82.3,991.4 82.7,989.4 83.1,987.9 83.5,987 83.9,987.3 84.3,990.4 84.7,991.4 85.1,993.4 85.5,991.5 85.9,991.4 86.3,992.1 86.7,994.1 87.1,991.7 87.5,989.2 87.9,989.4 88.3,989.6 88.7,991.7 89.1,992.2 89.5,993.6 89.9,994.3 90.3,995.6 90.7,995.4 91.1,995.5 91.5,996.9 91.9,997.2 92.3,996 92.7,995.8 93.1,994.6 93.5,994.4 93.9,993 94.3,991.8 94.7,992.9 95.1,993.2 95.5,994 95.9,993.4 96.3,992.2 96.7,990.2 97.1,990.6 97.5,990.7 97.9,991.9 98.3,990.6 98.7,991.5 99.1,992.1 99.5,989.8 99.9,988.4 100.3,988.5 100.7,989.3 101.1,989.3 101.5,986.6 101.9,985.7 102.3,986.4 102.7,985.5 103.1,986.7 103.5,985.8 103.9,988.1 104.3,990.3 104.7,989.5 105.1,990 105.5,989 105.9,989.2 106.3,990 106.7,988.7 107.1,988.5 107.5,986.1 107.9,986.9 108.3,986.5 108.7,988.3 109.1,988.3 109.5,990.3 109.9,990 110.3,987.7 110.7,986.8 111.1,986.5 111.5,987.5 111.9,986.7 112.3,986.4 112.7,987.7 113.1,988.4 113.5,987.1 113.9,986.1 114.3,984.7 114.7,986.7 115.1,987 115.5,987.2 115.9,985.3 116.3,985.3 116.7,987.8 117.1,988.6 117.5,988.9 117.9,988.3 118.3,989.5 118.7,990.6 119.1,989.7 119.5,990.7 119.9,990.2 120.3,992 120.7,990.7 121.1,990.8 121.5,987.2 121.9,984.6 122.3,983.8 122.7,985 123.1,987.3 123.5,987.5 123.9,987.9 124.3,987.1 124.7,987.8 125.1,987.5 125.5,987.1 125.9,987.4 126.3,988.8 126.7,989.4 127.1,989.2 127.5,986.3 127.9,984 128.3,984.6 128.7,986.8 129.1,988.5 129.5,986.5 129.9,985.3 130.3,984.6 130.7,987.6 131.1,986.7 131.5,985.4 131.9,984.1 132.3,985.8 132.7,984.9 133.1,984.9 133.5,984.1 133.9,983.9 134.3,985.8 134.7,988 135.1,988.2 135.5,987 135.9,984.1 136.3,982.1 136.7,980.3 137.1,979.7 137.5,981 137.9,981.7 138.3,978.4 138.7,976.6 139.1,977.2 139.5,980.7 139.9,980.4 140.3,979.2 140.7,979.2 141.1,978.4 141.5,979.3 141.9,981.1 142.3,984.5 142.7,984.8 143.1,983.3 143.5,982.6 143.9,985.6 144.3,984 144.7,982.3 145.1,979.2 145.5,980.9 145.9,985.8 146.3,986.9 146.7,986.6 147.1,981.8 147.5,979.5 147.9,979.1 148.3,982.4 148.7,983.1 149.1,984.5 149.5,982.7 149.9,983.7 150.3,982.8 150.7,982.1 151.1,982.3 151.5,983 151.9,985.7 152.3,985.8 152.7,985.8 153.1,984.6 153.5,984 153.9,982.9 154.3,981.1 154.7,982.3 155.1,985 155.5,989.3 155.9,987.9 156.3,989 156.7,985.7 157.1,986 157.5,984.2 157.9,986.2 158.3,988.5 158.7,990.6 159.1,990.6 159.5,992 159.9,991.7 160.3,991.5 160.7,990.6 161.1,991 161.5,992.2 161.9,989.8 162.3,988.4 162.7,988.6 163.1,991.3 163.5,990.6 163.9,989.5 164.3,987 164.7,987.1 165.1,987 165.5,988.8 165.9,987.8 166.3,986 166.7,984.9 167.1,983.8 167.5,985.1 167.9,985.1 168.3,987 168.7,987.2 169.1,988.4 169.5,987.6 169.9,987.5 170.3,987.1 170.7,987.4 171.1,988.3 171.5,985.6 171.9,984.2 172.3,983.3 172.7,983.7 173.1,983.9 173.5,981.7 173.9,979.9 174.3,981.2 174.7,982 175.1,985.5 175.5,985 175.9,985.5 176.3,985 176.7,981.7 177.1,979 177.5,976.2 177.9,978.6 178.3,979 178.7,979.8 179.1,980.9 179.5,980.2 179.9,980.7 180.3,980.3 180.7,979 181.1,980.1 181.5,982.3 181.9,985.9 182.3,986.4 182.7,985.6 183.1,985 183.5,984.9 183.9,983.8 184.3,986 184.7,984.4 185.1,986.1 185.5,986.3 185.9,987.4 186.3,988.7 186.7,988.8 187.1,990 187.5,987.2 187.9,986.9 188.3,987.8 188.7,991.1 189.1,990.5 189.5,990.6 189.9,990.3 190.3,991.8 190.7,991 191.1,991.3 191.5,991.2 191.9,992.9 192.3,993.1 192.7,993.4 193.1,991.7 193.5,989.3 193.9,988.6 194.3,988.9 194.7,990.4 195.1,992.1 195.5,991.9 195.9,993.3 196.3,992.9 196.7,993.7 197.1,994.5 197.5,995.1 197.9,995.1 198.3,994 198.7,993.6 199.1,992 199.5,991.8 199.9,992.6 200.3,993.9 200.7,993.1 201.1,992.1 201.5,992.7 201.9,993.5 202.3,995.5 202.7,995.4 203.1,997 203.5,994.7 203.9,994.7 204.3,993.2 204.7,995.4 205.1,995.8 205.5,995.7 205.9,996.7 206.3,996.2 206.7,996.7 207.1,993.7 207.5,994 207.9,993.3 208.3,994.5 208.7,993.7 209.1,994.8 209.5,992.8 209.9,993.4 210.3,994.4 210.7,995.6 211.1,994.2 211.5,993.1 211.9,992.9 212.3,991.6 212.7,990.5 213.1,989.4 213.5,990.5 213.9,989 214.3,989.7 214.7,990.6 215.1,992 215.5,989.6 215.9,989.4 216.3,989.7 216.7,992 217.1,990.4 217.5,990 217.9,989.5 218.3,990.6 218.7,991.3 219.1,991.7 219.5,992.5 219.9,991.7 220.3,991.2 220.7,988.6 221.1,988.1 221.5,986.7 221.9,988.9 222.3,988.5 222.7,989.1 223.1,988 223.5,988.4 223.9,989 224.3,988 224.7,990 225.1,990.9 225.5,990.7 225.9,987.9 226.3,986.4 226.7,988.7 227.1,988.5 227.5,989 227.9,985.6 228.3,985.6 228.7,985.5 229.1,986.8 229.5,988.3 229.9,992.1 230.3,992.5 230.7,990.6 231.1,989.5 231.5,988.9 231.9,988.1 232.3,986.6 232.7,987.6 233.1,989.2 233.5,988.6 233.9,987.4 234.3,985.9 234.7,985.7 235.1,986.1 235.5,984.8 235.9,984.7 236.3,984.7 236.7,986.2 237.1,988.6 237.5,987 237.9,986.8 238.3,983.6 238.7,984.3 239.1,984 239.5,982.8 239.9,984 240.3,984.4 240.7,986 241.1,985.4 241.5,984.9 241.9,987.8 242.3,986.2 242.7,986.2 243.1,982.5 243.5,982.9 243.9,983.5 244.3,983.4 244.7,985.6 245.1,984.4 245.5,983.2 245.9,980.8 246.3,979.2 246.7,982.5 247.1,983.2 247.5,985.8 247.9,981.7 248.3,982.1 248.7,982.2 249.1,982.7 249.5,982.7 249.9,982.9 250.3,985 250.7,983.6 251.1,981.5 251.5,982.2 251.9,983.4 252.3,984.9 252.7,984.8 253.1,981.5 253.5,981.8 253.9,980.4 254.3,982.3 254.7,983.5 255.1,985.7 255.5,986.2 255.9,986.7 256.3,988.1 256.7,989.1 257.1,988.4 257.5,987.9 257.9,988.5 258.3,988.6 258.7,987.9 259.1,988.6 259.5,988.2 259.9,989.9 260.3,990.6 260.7,993 261.1,991.8 261.5,991.5 261.9,990.4 262.3,990.3 262.7,992.1 263.1,992.9 263.5,995.2 263.9,994.8 264.3,994.8 264.7,993.2 265.1,991.2 265.5,990.3 265.9,990.5 266.3,992.4 266.7,995.5 267.1,996.9 267.5,997.2 267.9,994.6 268.3,997.6 268.7,996.7 269.1,997.8 269.5,993 269.9,993.5 270.3,993.4 270.7,993.2 271.1,993.7 271.5,993.7 271.9,994.5 272.3,994.9 272.7,994.8 273.1,994.8 273.5,992.3 273.9,993.1 274.3,991.7 274.7,994.9 275.1,994.3 275.5,997.2 275.9,996.1 276.3,996 276.7,995.4 277.1,993.1 277.5,992.4 277.9,992.3 278.3,993.3 278.7,993 279.1,992.3 279.5,991.4 279.9,989.5 280.3,989.3 280.7,989.3 281.1,992.6 281.5,994.2 281.9,993.1 282.3,991.5 282.7,990.8 283.1,991.3 283.5,992.1 283.9,990.1 284.3,990.5 284.7,990.2 285.1,992.6 285.5,993.6 285.9,992.4 286.3,991.4 286.7,989.9 287.1,992 287.5,991.1 287.9,990.4 288.3,988 288.7,988.9 289.1,989.5 289.5,989 289.9,989 290.3,989.3 290.7,990.8 291.1,988.5 291.5,988.6 291.9,988.4 292.3,991.5 292.7,989.9 293.1,992.7 293.5,989.4 293.9,989.4 294.3,987.1 294.7,991.3 295.1,992.6 295.5,994.2 295.9,992.4 296.3,992.6 296.7,992.8 297.1,992.9 297.5,993.6 297.9,991.9 298.3,992.7 298.7,993.1 299.1,993.1 299.5,990.5 299.9,988.7 300.3,988.9 300.7,989.4 301.1,991.2 301.5,992.3 301.9,990.5 302.3,990.5 302.7,991.2 303.1,991.9 303.5,990.8 303.9,988.3 304.3,988.3 304.7,986.2 305.1,987.5 305.5,986.1 305.9,986.3 306.3,987.3 306.7,989.9 307.1,989.8 307.5,988.9 307.9,987 308.3,987.6 308.7,986.5 309.1,985.9 309.5,983.8 309.9,985.2 310.3,987.3 310.7,989.9 311.1,987.3 311.5,985.2 311.9,986.6 312.3,987.7 312.7,988.4 313.1,986.6 313.5,985.3 313.9,985.8 314.3,984.5 314.7,986.9 315.1,987.7 315.5,987.1 315.9,984.3 316.3,983.4 316.7,983.8 317.1,987.2 317.5,985.7 317.9,987.5 318.3,986.6 318.7,987.1 319.1,986.9 319.5,986.7 319.9,986.1 320.3,986.2 320.7,984.3 321.1,983.8 321.5,984.6 321.9,985.8 322.3,987.3 322.7,983.8 323.1,981.8 323.5,982 323.9,983.6 324.3,986.8 324.7,985.9 325.1,986 325.5,987 325.9,987.9 326.3,987.3 326.7,985 327.1,983.7 327.5,983.5 327.9,982.5 328.3,981.5 328.7,980 329.1,981.5 329.5,980.6 329.9,980.1 330.3,978.9 330.7,980.4 331.1,980.7 331.5,978.9 331.9,977.5 332.3,978.7 332.7,978.8 333.1,980.5 333.5,980.1 333.9,979.7 334.3,977.8 334.7,975 335.1,975.5 335.5,974 335.9,975.6 336.3,970.7 336.7,971.9 337.1,970.5 337.5,972.1 337.9,971.8 338.3,966.6 338.7,966.2 339.1,964.3 339.5,963.8 339.9,963.2 340.3,965.6 340.7,968.8 341.1,968.5 341.5,967.8 341.9,964 342.3,963 342.7,961.5 343.1,964.1 343.5,967.6 343.9,968.8 344.3,968.3 344.7,967.8 345.1,965.2 345.5,961.6 345.9,956.7 346.3,957.1 346.7,956.7 347.1,960.8 347.5,962.8 347.9,962.2 348.3,959.1 348.7,954.9 349.1,955.5 349.5,951.6 349.9,949.2 350.3,949.7 350.7,954.3 351.1,954.3 351.5,949.8 351.9,943.3 352.3,944.8 352.7,943.4 353.1,944 353.5,939.2 353.9,938.5 354.3,936.3 354.7,934.7 355.1,937.2 355.5,936.7 355.9,932.9 356.3,929.4 356.7,932.3 357.1,936.3 357.5,936.1 357.9,931.7 358.3,930 358.7,926.7 359.1,927.2 359.5,929.8 359.9,936.1 360.3,931.4 360.7,930 361.1,928.7 361.5,931.5 361.9,929.6 362.3,925.4 362.7,923.1 363.1,919.9 363.5,919.5 363.9,923.8 364.3,925.5 364.7,925.1 365.1,920.5 365.5,919.8 365.9,919.2 366.3,912.5 366.7,909.7 367.1,906.7 367.5,913.7 367.9,910.5 368.3,905.9 368.7,892.4 369.1,882.5 369.5,875.2 369.9,871.3 370.3,861.3 370.7,854.7 371.1,847.3 371.5,844.9 371.9,838 372.3,825.3 372.7,819 373.1,811.8 373.5,804.7 373.9,793.9 374.3,784.3 374.7,784.9 375.1,778.4 375.5,776.1 375.9,764.1 376.3,749.9 376.7,732.9 377.1,725.7 377.5,718 377.9,712.7 378.3,701.3 378.7,697 379.1,682.9 379.5,671 379.9,659.9 380.3,648.9 380.7,634.7 381.1,615.9 381.5,604.8 381.9,594.1 382.3,581.4 382.7,545.6 383.1,536.3 383.5,536.3 383.9,536.3 384.3,536.3 384.7,536.3 385.1,536.3 385.5,536.3 385.9,536.3 386.3,536.3 386.7,536.3 387.1,536.3 387.5,536.3 387.9,536.3 388.3,536.3 388.7,536.3 389.1,536.3 389.5,536.3 389.9,536.3 390.3,536.3 390.7,536.3 391.1,536.3 391.5,536.3 391.9,536.3 392.3,536.3 392.7,536.3 393.1,536.3 393.5,536.3 393.9,536.3 394.3,536.3 394.7,536.3 395.1,536.3 395.5,536.3 395.9,536.3 396.3,536.3 396.7,536.3 397.1,536.3 397.5,536.3 397.9,536.3 398.3,536.3 398.7,536.3 399.1,536.3 399.5,536.3 399.9,536.3 400.3,536.3 400.7,536.3 401.1,536.3 401.5,536.3 401.9,536.3 402.3,536.3 402.7,536.3 403.1,536.3 403.5,536.3 403.9,536.3 404.3,536.3 404.7,536.3 405.1,536.3 405.5,536.3 405.9,536.3 406.3,536.3 406.7,536.3 407.1,536.3 407.5,536.3 407.9,536.3 408.3,536.3 408.7,536.3 409.1,536.3 409.5,536.3 409.9,536.3 410.3,536.3 410.7,536.3 411.1,536.3 411.5,536.3 411.9,536.3 412.3,536.3 412.7,536.3 413.1,536.3 413.5,536.3 413.9,536.3 414.3,536.3 414.7,536.3 415.1,536.3 415.5,536.3 415.9,536.3 416.3,569.5 416.7,591.6 417.1,600.4 417.5,610.7 417.9,614.4 418.3,619.5 418.7,629.6 419.1,642.1 419.5,655.7 419.9,670.4 420.3,672.2 420.7,675.6 421.1,676 421.5,688.6 421.9,693.2 422.3,698.9 422.7,703.9 423.1,711.9 423.5,720.7 423.9,725.9 424.3,733.5 424.7,738.6 425.1,744 425.5,751.2 425.9,754.4 426.3,760.6 426.7,758 427.1,765.6 427.5,771 427.9,781.5 428.3,791.6 428.7,790.3 429.1,802.7 429.5,811.9 429.9,823.3 430.3,828.9 430.7,833.7 431.1,843 431.5,847.3 431.9,853.6 432.3,860.8 432.7,866.5 433.1,868.1 433.5,874.6 433.9,879.2 434.3,879 434.7,878.3 435.1,881.1 435.5,884.4 435.9,890.5 436.3,894.5 436.7,896.1 437.1,894.7 437.5,900.8 437.9,904.4 438.3,905.6 438.7,905.8 439.1,905.9 439.5,905.4 439.9,903.1 440.3,904.8 440.7,906.6 441.1,908.3 441.5,911.5 441.9,914.7 442.3,920.6 442.7,920 443.1,918.9 443.5,918.1 443.9,922.6 444.3,926 444.7,925.1 445.1,927.4 445.5,926.4 445.9,924.2 446.3,921.9 446.7,924.8 447.1,926.4 447.5,924 447.9,930.3 448.3,932.2 448.7,938.5 449.1,930.3 449.5,932.6 449.9,928.5 450.3,933.6 450.7,935.5 451.1,941 451.5,941.5 451.9,940.1 452.3,938.3 452.7,941.3 453.1,943 453.5,945.9 453.9,944.2 454.3,949.1 454.7,952.2 455.1,959.9 455.5,963 455.9,966.3 456.3,964.7 456.7,961.9 457.1,963 457.5,965.2 457.9,967 458.3,964.4 458.7,965.4 459.1,965 459.5,968.5 459.9,968.5 460.3,967.8 460.7,964 461.1,961.9 461.5,966.6 461.9,966.5 462.3,964.2 462.7,964 463.1,966.5 463.5,970.5 463.9,970.9 464.3,970.5 464.7,971.5 465.1,968.5 465.5,969.2 465.9,969.7 466.3,970.1 466.7,974.2 467.1,975.4 467.5,977.9 467.9,976.1 468.3,976.3 468.7,976.6 469.1,977.1 469.5,977.6 469.9,978.6 470.3,977.8 470.7,979.1 471.1,975.8 471.5,975.2 471.9,976.3 472.3,978.7 472.7,978.1 473.1,973.1 473.5,972.7 473.9,972.1 474.3,973.4 474.7,973.8 475.1,975.2 475.5,978.2 475.9,978.9 476.3,978.5 476.7,978.1 477.1,977.4 477.5,975.9 477.9,979.1 478.3,980.6 478.7,984.4 479.1,983.4 479.5,983.1 479.9,981.9 480.3,982 480.7,981.6 481.1,983.7 481.5,982.9 481.9,981.5 482.3,980.5 482.7,982.4 483.1,982.9 483.5,983.8 483.9,982.9 484.3,983.9 484.7,980 485.1,979.3 485.5,978.4 485.9,980.5 486.3,979.4 486.7,982.6 487.1,982.2 487.5,982.2 487.9,979.7 488.3,983.6 488.7,982 489.1,984 489.5,982.6 489.9,984.9 490.3,984.7 490.7,983.1 491.1,980.4 491.5,981.9 491.9,981.1 492.3,982.3 492.7,981.9 493.1,984 493.5,985.4 493.9,983.9 494.3,983.2 494.7,985.6 495.1,986.9 495.5,986.1 495.9,983.4 496.3,982.8 496.7,981.8 497.1,980.2 497.5,979.5 497.9,979.4 498.3,980.9 498.7,981.1 499.1,982.5 499.5,981.7 499.9,983.4 500.3,981.9 500.7,980.6 501.1,977.6 501.5,978.2 501.9,980.5 502.3,981.8 502.7,983.3 503.1,981.1 503.5,979.4 503.9,979.5 504.3,979.5 504.7,981.1 505.1,978.5 505.5,977.7 505.9,976.5 506.3,973.7 506.7,976.1 507.1,973.3 507.5,973 507.9,969.7 508.3,972.8 508.7,975.8 509.1,974.4 509.5,971.1 509.9,969.5 510.3,972.8 510.7,972.5 511.1,970.5 511.5,967.3 511.9,967.3 512.3,970 512.7,972.4 513.1,970.9 513.5,968.3 513.9,963 514.3,961.7 514.7,961.1 515.1,960 515.5,957.6 515.9,955 516.3,953.6 516.7,952.7 517.1,954.4 517.5,954.8 517.9,955.3 518.3,955.4 518.7,957.2 519.1,959.7 519.5,960.2 519.9,961.4 520.3,962.9 520.7,963.1 521.1,965.3 521.5,967.5 521.9,966.9 522.3,967.4 522.7,969.3 523.1,970.6 523.5,970.9 523.9,970.5 524.3,973.2 524.7,975.2 525.1,973.5 525.5,973.1 525.9,970.4 526.3,971.9 526.7,973.3 527.1,974.7 527.5,974.2 527.9,974.2 528.3,975.8 528.7,977.6 529.1,977.3 529.5,978.9 529.9,977.3 530.3,980.4 530.7,980 531.1,982.3 531.5,981.7 531.9,980.9 532.3,982.9 532.7,981.4 533.1,981.5 533.5,977.4 533.9,976.6 534.3,976.8 534.7,976.7 535.1,977.6 535.5,978.1 535.9,978.6 536.3,977.6 536.7,976.1 537.1,977.2 537.5,980.9 537.9,981.5 538.3,981.3 538.7,980.5 539.1,982.7 539.5,983 539.9,984.1 540.3,983.3 540.7,985.4 541.1,987.5 541.5,988.3 541.9,988 542.3,987.1 542.7,988.1 543.1,985.9 543.5,986.9 543.9,984.4 544.3,980.7 544.7,978.1 545.1,977.8 545.5,981.5 545.9,980.5 546.3,981.5 546.7,979.3 547.1,979.8 547.5,981.2 547.9,980.8 548.3,979.1 548.7,974.5 549.1,974.1 549.5,977 549.9,980 550.3,977.3 550.7,974.9 551.1,973.2 551.5,975.8 551.9,976.3 552.3,979.9 552.7,979.6 553.1,977.7 553.5,975.1 553.9,974.3 554.3,972.6 554.7,970.9 555.1,971.1 555.5,970.8 555.9,969.2 556.3,969 556.7,972 557.1,974.6 557.5,974.6 557.9,971.9 558.3,969.8 558.7,968.4 559.1,972.9 559.5,974.9 559.9,975.3 560.3,974.9 560.7,974.8 561.1,977.9 561.5,980.1 561.9,981.1 562.3,981.6 562.7,983.1 563.1,987.5 563.5,987.8 563.9,987.5 564.3,985.4 564.7,986.3 565.1,987 565.5,988.6 565.9,990.6 566.3,989.5 566.7,989 567.1,986.4 567.5,986.9 567.9,987.3 568.3,990.1 568.7,989.7 569.1,992.2 569.5,992.4 569.9,993.2 570.3,992.5 570.7,992.2 571.1,992.3 571.5,992.8 571.9,993.5 572.3,994.4 572.7,993.6 573.1,994.3 573.5,993.8 573.9,994.3 574.3,994.5 574.7,997 575.1,997.9 575.5,997 575.9,994.5 576.3,995.8 576.7,995.9 577.1,997.4 577.5,996.9 577.9,996.7 578.3,995.4 578.7,995.1 579.1,996 579.5,996 579.9,995.2 580.3,994.4 580.7,993.9 581.1,992.8 581.5,994.8 581.9,995.1 582.3,996.3 582.7,993.2 583.1,993.8 583.5,992.2 583.9,992.5 584.3,991.4 584.7,993.4 585.1,994.8 585.5,994 585.9,993.6 586.3,992.4 586.7,994.8 587.1,996.2 587.5,996.4 587.9,996.3 588.3,994.1 588.7,994.5 589.1,993.5 589.5,994.6 589.9,994.2 590.3,995.8 590.7,996.9 591.1,996.5 591.5,994.9 591.9,992 592.3,991.7 592.7,991.8 593.1,992.9 593.5,993.4 593.9,993.1 594.3,992.1 594.7,990.5 595.1,989.2 595.5,987 595.9,986 596.3,984.8 596.7,984.1 597.1,983.3 597.5,982.8 597.9,984 598.3,987.5 598.7,985.1 599.1,984.4 599.5,985.1 599.9,987.8 600.3,987.5 600.7,986 601.1,984.8 601.5,983.3 601.9,982.6 602.3,981.6 602.7,979.8 603.1,979 603.5,979.2 603.9,981 604.3,980.9 604.7,980.9 605.1,979.5 605.5,979.6 605.9,977.7 606.3,976.3 606.7,974.7 607.1,973.7 607.5,972.4 607.9,968.6 608.3,967.2 608.7,967.1 609.1,969 609.5,967.6 609.9,964.6 610.3,964.4 610.7,966.6 611.1,968.5 611.5,965.5 611.9,966 612.3,965.7 612.7,967.6 613.1,964.2 613.5,963.9 613.9,963.5 614.3,965.1 614.7,964.3 615.1,961.3 615.5,956 615.9,954.7 616.3,955.6 616.7,959 617.1,958.3 617.5,958.6 617.9,958.1 618.3,952.2 618.7,949.8 619.1,947 619.5,950.5 619.9,950.9 620.3,948.1 620.7,949.2 621.1,949.2 621.5,954.2 621.9,950.6 622.3,951.7 622.7,948.8 623.1,950.1 623.5,946.7 623.9,948.7 624.3,954.6 624.7,958.3 625.1,957.9 625.5,954.5 625.9,953.2 626.3,955.7 626.7,957.5 627.1,958.3 627.5,961.5 627.9,959 628.3,961.2 628.7,957.9 629.1,963.4 629.5,962.6 629.9,964 630.3,959.4 630.7,959.5 631.1,960.3 631.5,962.7 631.9,964 632.3,961.9 632.7,958.4 633.1,956.5 633.5,957.9 633.9,957.5 634.3,955.8 634.7,957.5 635.1,962 635.5,963.3 635.9,960 636.3,958.1 636.7,958.6 637.1,959.4 637.5,957.7 637.9,955.9 638.3,954.6 638.7,957.7 639.1,958 639.5,956 639.9,954.4 640.3,954.9 640.7,954.7 641.1,953.1 641.5,951.4 641.9,954.6 642.3,960.8 642.7,965 643.1,965.5 643.5,964.5 643.9,961.1 644.3,960.8 644.7,961.5 645.1,963.4 645.5,961 645.9,963 646.3,964.3 646.7,968.1 647.1,970.7 647.5,970.2 647.9,973.1 648.3,975.2 648.7,976.1 649.1,974.8 649.5,973.7 649.9,974.2 650.3,974.3 650.7,972.1 651.1,973.4 651.5,975.7 651.9,977 652.3,978.7 652.7,979 653.1,980.1 653.5,979.9 653.9,978.9 654.3,980 654.7,978.9 655.1,981.4 655.5,982.5 655.9,984.7 656.3,985.5 656.7,985.4 657.1,985.2 657.5,983.8 657.9,983.4 658.3,985.7 658.7,986.4 659.1,989.1 659.5,988.5 659.9,985.7 660.3,987 660.7,986.8 661.1,991.2 661.5,989.9 661.9,991 662.3,990 662.7,990.4 663.1,990.3 663.5,993.2 663.9,993.3 664.3,993.7 664.7,992.6 665.1,994.5 665.5,995.3 665.9,994.4 666.3,993.3 666.7,993.9 667.1,995.9 667.5,996.4 667.9,996.5 668.3,996 668.7,995.8 669.1,995 669.5,993.3 669.9,993.6 670.3,993.6 670.7,996 671.1,996.3 671.5,997.2 671.9,998.4 672.3,997.8 672.7,997.6 673.1,996.8 673.5,997.3 673.9,998.2 674.3,997.3 674.7,999.1 675.1,999.2 675.5,1000.1 675.9,1000 676.3,999.8 676.7,999.6 677.1,998.6 677.5,998.5 677.9,998.7 678.3,998.7 678.7,998.1 679.1,997.3 679.5,996.6 679.9,996.4 680.3,995.9 680.7,996.6 681.1,997 681.5,997.6 681.9,997 682.3,997.6 682.7,997.7 683.1,997.8 683.5,998.1 683.9,999.6 684.3,1000.2 684.7,999.8 685.1,998.2 685.5,998.7 685.9,997.3 686.3,998.2 686.7,997.1 687.1,998.4 687.5,999.8 687.9,999 688.3,999 688.7,996.9 689.1,998.2 689.5,999.1 689.9,999.4 690.3,999.3 690.7,997.9 691.1,999.8 691.5,1000.9 691.9,1002.2 692.3,1001.6 692.7,1001.3 693.1,1000.8 693.5,1000 693.9,999.5 694.3,999.6 694.7,1002.3 695.1,1001.6 695.5,1001.9 695.9,999.9 696.3,1001.2 696.7,1001.6 697.1,1001.4 697.5,1001.1 697.9,1001.8 698.3,1002.1 698.7,1002.6 699.1,1002.1 699.5,1001.5 699.9,1001.3 700.3,1001.5 700.7,1001.8 701.1,1001.8 701.5,1001.6 701.9,1001.5 702.3,1002 702.7,1002.3 703.1,1002.4 703.5,1002.2 703.9,1001.8 704.3,1002.9 704.7,1002.7 705.1,1003.3 705.5,1003.2 705.9,1003.4 706.3,1003.4 706.7,1003.2 707.1,1004 707.5,1003.7 707.9,1004.6 708.3,1004.8 708.7,1004.3 709.1,1003.2 709.5,1003 709.9,1003.8 710.3,1004.1 710.7,1003.8 711.1,1003.8 711.5,1003.6 711.9,1002.9 712.3,1003.7 712.7,1002.9 713.1,1003.6 713.5,1002.6 713.9,1003.6 714.3,1002.3 714.7,1001.6 715.1,1001.6 715.5,1001.7 715.9,1001.6 716.3,1000.3 716.7,1001 717.1,1001.7 717.5,1003.2 717.9,1002.1 718.3,1002.4 718.7,1001.6 719.1,1002.2 719.5,1001.5 719.9,1002.2 720.3,1002.9 720.7,1003.7 721.1,1003.8 721.5,1003.5 721.9,1003.2 722.3,1002.3 722.7,1002 723.1,1002.1 723.5,1002.3 723.9,1002.3 724.3,1001.1 724.7,1001.1 725.1,1001.4 725.5,1002.5 725.9,1002.8 726.3,1003.3 726.7,1003.4 727.1,1004 727.5,1003.6 727.9,1003.2 728.3,1003 728.7,1003.8 729.1,1004.4 729.5,1003.8 729.9,1002.7 730.3,1002.8" fill="none" stroke="#ff980e" stroke-width="4.5" stroke-linejoin="round" stroke-linecap="butt" clip-path="url(#c_mgo)"/>
<path d="M215,1012.1v-16.5M386.8,1012.1v-16.5M558.7,1012.1v-16.5" stroke="#000" stroke-width="3.3" fill="none"/>
<rect x="43.2" y="576.3" width="687.3" height="435.8" fill="none" stroke="#000" stroke-width="3.55"/>
<polygon points="61.1,866.6 66.9,866.6 66.9,916 72.6,916 64,954.1 55.4,916 61.1,916" fill="#000"/>
<rect x="66" y="598.9" width="271.3" height="196.1" fill="#fff"/>
<path d="M66.4,747.2V596.9M67.2,740.6V596.9M68,709.8V596.9M68.8,686.8V596.9M69.6,753.6V596.9M70.4,736.5V596.9M71.2,736.5V596.9M72,759.9V596.9M72.8,733.4V611.7M73.6,711.6V615M74.4,750.1V596.9M75.2,738.1V596.9M76,724.8V631.7M76.8,755.4V656.7M77.6,784.4V617.6M78.4,784.4V596.9M79.2,703.8V596.9M80,767.4V657.4M80.8,774.2V691.1M81.6,774.2V596.9M82.4,741.2V656.3M83.2,742.4V596.9M84,772.6V620.2M84.8,776.8V620.2M85.6,766.6V614.5M86.4,770.7V650.9M87.2,731.8V650.4M88,747.8V614.2M88.8,760.7V640.2M89.6,761.2V596.9M90.4,761.2V716.9M91.2,745.6V701.9M92,745.6V693.5M92.8,749.8V696.6M93.6,749.8V596.9M94.4,766.4V596.9M95.2,742V613M96,769.9V728.8M96.8,781V725.8M97.6,781V656.3M98.4,779.9V661.4M99.2,774.8V661.4M100,771.8V684.7M100.8,787.5V692.4M101.6,787.5V738.7M102.4,786.7V662.8M103.2,752.2V718.6M104,789.2V632.6M104.8,779.8V682.6M105.6,763.5V692.2M106.4,789.2V691.8M107.2,764V719.1M108,765.2V731.2M108.8,777.8V728.5M109.6,777.8V712.9M110.4,789.5V682.2M111.2,789.5V652M112,782.7V723.7M112.8,788.5V727.7M113.6,786.1V697.6M114.4,777.9V697.6M115.2,787.7V711.9M116,782.9V711.9M116.8,763V679.3M117.6,773.3V695.1M118.4,761.9V723.8M119.2,790V728.9M120,791.8V724.4M120.8,791.8V735.4M121.6,793.4V687.3M122.4,782.5V718.3M123.2,778.2V731.6M124,769.1V724.2M124.8,769V731.2M125.6,771.4V686.1M126.4,789.1V686.1M127.2,780V674.5M128,776.4V759.8M128.8,778.6V753.8M129.6,787.9V709.4M130.4,787V769.1M131.2,777.2V725.4M132,784.1V748.5M132.8,784.1V716.9M133.6,782.4V764.3M134.4,782.7V742.1M135.2,786.9V742.1M136,790.9V753.5M136.8,781.8V749.6M137.6,783.2V694.1M138.4,790.3V769.3M139.2,790.1V771.5M140,781.7V752M140.8,791.7V757.4M141.6,786.4V759.9M142.4,784.2V751.8M143.2,788.4V744.5M144,788.4V762.1M144.8,780.5V742.7M145.6,787.1V742.7M146.4,783.9V759.2M147.2,787.2V766.7M148,787.2V768.1M148.8,787.3V764.5M149.6,786.7V731.5M150.4,786.7V761.8M151.2,781.7V732M152,783.5V732M152.8,783.7V744.9M153.6,789.2V778.3M154.4,780.5V739.3M155.2,773.3V746.7M156,785.3V757.1M156.8,785.3V746.9M157.6,786.4V763.4M158.4,786.4V730.7M159.2,782.7V760.1M160,781.8V751.8M160.8,788.3V751.8M161.6,788.9V755.4M162.4,785.6V741.1M163.2,781.5V751.2M164,781.5V731.5M164.8,791.9V738.4M165.6,791.9V784.4M166.4,790.5V769.9M167.2,786.2V756.3M168,784.9V763M168.8,784.9V764.3M169.6,775V737.4M170.4,777.8V760.4M171.2,789.3V753M172,789.3V762.8M172.8,787.2V769.2M173.6,786.6V753.7M174.4,783V753.7M175.2,788.4V752.7M176,789.8V744.7M176.8,773V744.7M177.6,789.4V738.2M178.4,789.2V754.6M179.2,787.9V770.7M180,788.9V749.1M180.8,785.5V760.4M181.6,767.5V736.6M182.4,781.5V743.7M183.2,782.3V746.6M184,789.9V754.8M184.8,784.8V754.6M185.6,786.6V750.9M186.4,786.1V764.2M187.2,786.6V723.5M188,781.8V756.5M188.8,782.1V759.5M189.6,779.6V750.5M190.4,768.7V730.9M191.2,775.7V730.9M192,785.3V740.8M192.8,787.9V779.1M193.6,786.7V772.3M194.4,791.9V765.8M195.2,777.9V739M196,786.8V765.8M196.8,786.9V763.2M197.6,785.2V766.1M198.4,790.2V774.5M199.2,785.4V775.3M200,785.4V782.1M200.8,783.5V749.6M201.6,785.6V765.9M202.4,787.2V756M203.2,787.2V744.5M204,783V764.9M204.8,783V764.9M205.6,783V749.7M206.4,781.7V767.4M207.2,784.8V772.8M208,786.1V755.4M208.8,783.6V766.8M209.6,790.2V757.9M210.4,781.3V736M211.2,792.4V762.6M212,785.1V770.2M212.8,780.3V769.8M213.6,785.9V769.8M214.4,785.4V767.8M215.2,784.8V772.5M216,788.7V744.4M216.8,787.2V744.4M217.6,787.2V755.7M218.4,787.6V754.6M219.2,788.8V750.2M220,784.6V775.1M220.8,784.6V724.9M221.6,786V724.9M222.4,787.4V770.2M223.2,791.4V761.8M224,783.2V761.8M224.8,792.4V773.7M225.6,790.3V766.2M226.4,793.1V739.5M227.2,789.4V739.5M228,782.4V764.6M228.8,782.4V744.5M229.6,788.9V754.4M230.4,784.8V764.9M231.2,790.5V736.6M232,790.5V772.3M232.8,785.9V770.6M233.6,786.3V760.8M234.4,790.7V765.6M235.2,787.8V765.6M236,786.7V737.7M236.8,788.2V772.2M237.6,789V757.8M238.4,788.8V757.8M239.2,792.4V779.7M240,792.4V772.4M240.8,790.7V774.1M241.6,791.6V765.9M242.4,791.6V765.6M243.2,788.9V750.4M244,775.3V757.9M244.8,775.2V750.8M245.6,791.7V762.7M246.4,791.7V763.5M247.2,784.2V763.5M248,787V759.8M248.8,787V765.9M249.6,790.2V765.9M250.4,788.6V767.3M251.2,782.1V745.5M252,780.6V745.5M252.8,785.3V777.7M253.6,787.4V758M254.4,787.4V766.1M255.2,793.1V766.1M256,782.7V774.2M256.8,793.2V781.1M257.6,788.2V774M258.4,790.6V779.3M259.2,791.4V777.4M260,792.5V778.4M260.8,792.5V775.2M261.6,792.3V757M262.4,784.5V772.3M263.2,788V759.5M264,790.2V778.7M264.8,790.9V748.2M265.6,790.9V770.5M266.4,790.5V760.9M267.2,790.6V780.5M268,787.5V742.3M268.8,787.8V759.2M269.6,789.3V769.1M270.4,792.9V769.1M271.2,792.9V782.4M272,791.7V773.1M272.8,791.7V778.9M273.6,788.2V745.7M274.4,791.9V755.4M275.2,786.6V767M276,783.5V761.9M276.8,778.6V755.1M277.6,784.4V744.5M278.4,791.2V748.1M279.2,791.2V777.2M280,789.1V772.3M280.8,786.5V775M281.6,789.6V766.2M282.4,785.4V737.2M283.2,785.4V774.1M284,780.5V731.9M284.8,790V743.7M285.6,792.7V769.1M286.4,789.3V753.2M287.2,776.9V750.4M288,783.8V769M288.8,774.7V745.7M289.6,775.1V732.7M290.4,788.4V729.4M291.2,794.2V739.2M292,794.2V750.3M292.8,786.8V764.7M293.6,784.8V718.4M294.4,782.3V718.4M295.2,784.1V760M296,777.5V763.7M296.8,783.2V765.5M297.6,786V776.9M298.4,792.5V732.9M299.2,786.9V732.9M300,781.5V770.3M300.8,787.7V761.2M301.6,794.2V761.2M302.4,794.2V750.3M303.2,791.3V779.9M304,785.2V767.9M304.8,791.3V759.2M305.6,788.4V744.5M306.4,775.1V739.4M307.2,792.7V769.8M308,789.3V748.8M308.8,787.8V764.1M309.6,782.6V760.8M310.4,782.6V762.5M311.2,780V750M312,772.9V765.5M312.8,781.3V765.5M313.6,781.6V769M314.4,785V772.9M315.2,780.5V768.1M316,780.5V722.4M316.8,768.6V722.4M317.6,779.5V745M318.4,786.4V743.2M319.2,785V743.2M320,791V753.3M320.8,780.1V753.3M321.6,782.8V760.1M322.4,781.4V764M323.2,780V769.8M324,783.8V760.7M324.8,782.6V749.1M325.6,777.3V749.1M326.4,782.8V774.8M327.2,791.3V764.2M328,784.8V753M328.8,791.7V774.8M329.6,788.4V770.9M330.4,793V738.4M331.2,773V723.2M332,781.3V758.9M332.8,788.9V766.1M333.6,788.9V763.3M334.4,780.6V759.5M335.2,785.9V723.9M336,779.4V723.9M336.8,785V764.2" fill="none" stroke="#cccccc" stroke-width="1.0" clip-path="url(#c_ins)"/>
<path d="M65.8,633.2 66.2,633.7 66.6,630.4 67,629.5 67.4,626.3 67.8,629.3 68.2,628.5 68.6,631.6 69,633 69.4,632.6 69.8,634.8 70.2,640 70.6,644.3 71,645.4 71.4,643.2 71.8,642.7 72.2,647.2 72.6,648.5 73,654.4 73.4,658.1 73.8,660.2 74.2,661.1 74.6,661.3 75,661.8 75.4,662.5 75.8,659.7 76.2,662 76.6,661.2 77,664.2 77.4,663.1 77.8,666.2 78.2,666.4 78.6,669.6 79,670.6 79.4,672.2 79.8,672.2 80.2,674.9 80.6,677 81,679.1 81.4,679.5 81.8,684.4 82.2,691.6 82.6,697.9 83,700.9 83.4,699 83.8,697.7 84.2,698.2 84.6,699.5 85,701.7 85.4,700.1 85.8,703.9 86.2,704.7 86.6,708 87,706 87.4,704.5 87.8,703.6 88.2,703.9 88.6,707.5 89,707 89.4,711.1 89.8,710.6 90.2,714.4 90.6,709.5 91,707.8 91.4,706.5 91.8,707.9 92.2,710.5 92.6,715.4 93,717.5 93.4,719.9 93.8,724.1 94.2,726.4 94.6,727.6 95,727.2 95.4,727.4 95.8,727 96.2,728.3 96.6,732.1 97,734.6 97.4,736.3 97.8,737.5 98.2,733.5 98.6,731.6 99,730.3 99.4,733.1 99.8,731.5 100.2,733.2 100.6,734.2 101,734.6 101.4,731.9 101.8,728.3 102.2,726.8 102.6,728.4 103,729.8 103.4,731.3 103.8,728.9 104.2,727.9 104.6,727.7 105,726.9 105.4,731.5 105.8,731.3 106.2,735.3 106.6,735.9 107,736.2 107.4,740 107.8,740.8 108.2,743.3 108.6,742.5 109,742.2 109.4,743.3 109.8,742.9 110.2,743.8 110.6,743.6 111,746.1 111.4,747.2 111.8,749.8 112.2,750.4 112.6,751.3 113,750 113.4,750.4 113.8,750.5 114.2,752.4 114.6,751.8 115,753.1 115.4,753.9 115.8,753.8 116.2,754.4 116.6,753 117,752.7 117.4,751.3 117.8,751.3 118.2,750.4 118.6,750.4 119,748.9 119.4,749.3 119.8,748.7 120.2,750 120.6,752.1 121,752.8 121.4,754.2 121.8,753.9 122.2,754.8 122.6,754.3 123,753.8 123.4,755 123.8,756.8 124.2,760.1 124.6,760.8 125,760.9 125.4,760.4 125.8,760 126.2,762.3 126.6,762.7 127,762.5 127.4,761.6 127.8,761.2 128.2,764.4 128.6,766.2 129,766.1 129.4,764.2 129.8,764.6 130.2,762.8 130.6,763.1 131,760 131.4,761.7 131.8,760.7 132.2,762.2 132.6,760.9 133,760.8 133.4,758.8 133.8,760.8 134.2,762.9 134.6,762.3 135,761.1 135.4,758.5 135.8,759.2 136.2,759.9 136.6,761.8 137,762 137.4,762.5 137.8,762.1 138.2,761.6 138.6,760.4 139,760.8 139.4,763.3 139.8,766.3 140.2,768.6 140.6,766.3 141,766.4 141.4,765.8 141.8,769.2 142.2,770 142.6,770.7 143,768.9 143.4,768.4 143.8,769.9 144.2,772.8 144.6,773.3 145,773.7 145.4,772.1 145.8,772.5 146.2,771.7 146.6,771.3 147,770.7 147.4,771 147.8,771.5 148.2,772.4 148.6,774.1 149,774.1 149.4,772.4 149.8,770.1 150.2,770.4 150.6,771.9 151,770.4 151.4,770.1 151.8,767.3 152.2,768.4 152.6,766.8 153,767.6 153.4,767.5 153.8,769.2 154.2,770.2 154.6,769.1 155,768.8 155.4,768.4 155.8,771.1 156.2,769.8 156.6,770.1 157,768.3 157.4,769 157.8,769.8 158.2,767.7 158.6,769.1 159,765.9 159.4,766.7 159.8,765.5 160.2,766.4 160.6,767.9 161,768 161.4,769.1 161.8,769.8 162.2,770.6 162.6,770 163,768 163.4,768.5 163.8,770.1 164.2,770.5 164.6,769.7 165,768.8 165.4,770 165.8,770 166.2,770.5 166.6,770.2 167,770.9 167.4,771.2 167.8,770.8 168.2,770.4 168.6,773.2 169,773.5 169.4,774.4 169.8,771.5 170.2,771.7 170.6,771.1 171,773 171.4,772.1 171.8,772.5 172.2,771.4 172.6,772.3 173,771 173.4,771.6 173.8,771.4 174.2,772.4 174.6,770.4 175,769.4 175.4,769.3 175.8,771.5 176.2,773.2 176.6,773.5 177,771.6 177.4,770.2 177.8,769.3 178.2,769.4 178.6,769.9 179,770.5 179.4,770.8 179.8,770.5 180.2,769.9 180.6,770.4 181,770.7 181.4,770.9 181.8,769.1 182.2,769.7 182.6,770.4 183,770.6 183.4,771 183.8,770.4 184.2,770.2 184.6,770.6 185,770.6 185.4,771.5 185.8,769.1 186.2,769.2 186.6,769.6 187,771.2 187.4,770.8 187.8,770.7 188.2,769.6 188.6,769.4 189,769.8 189.4,770.7 189.8,770.3 190.2,770.5 190.6,771.1 191,769.7 191.4,769.4 191.8,770.4 192.2,771.5 192.6,772.4 193,772.4 193.4,774.6 193.8,775.3 194.2,775.4 194.6,775.2 195,774 195.4,775.1 195.8,775.4 196.2,775.2 196.6,773.4 197,772 197.4,772.5 197.8,771.3 198.2,771 198.6,771.8 199,772.9 199.4,773.7 199.8,772.3 200.2,772.6 200.6,773.9 201,774 201.4,773.3 201.8,771.4 202.2,772 202.6,769.9 203,770.1 203.4,769.8 203.8,774.3 204.2,775 204.6,774.9 205,774.3 205.4,772.7 205.8,772.1 206.2,772 206.6,772.9 207,774.7 207.4,773.4 207.8,772.5 208.2,773.2 208.6,774.3 209,775.9 209.4,775.6 209.8,776.3 210.2,775.8 210.6,775.3 211,775.1 211.4,774.2 211.8,773.9 212.2,774 212.6,775.4 213,775.1 213.4,774.5 213.8,773.7 214.2,774.2 214.6,775.1 215,775.8 215.4,775.4 215.8,775.5 216.2,774.6 216.6,776.6 217,776.3 217.4,777.2 217.8,775 218.2,773.8 218.6,772.9 219,773.1 219.4,774 219.8,774.1 220.2,774.7 220.6,774.9 221,773.3 221.4,773.1 221.8,774 222.2,775.5 222.6,776.7 223,777.1 223.4,778.1 223.8,777.9 224.2,777.2 224.6,777.5 225,777.7 225.4,779.6 225.8,778.7 226.2,778.2 226.6,777.7 227,777.8 227.4,779.1 227.8,778.6 228.2,778 228.6,776.6 229,777.3 229.4,778.3 229.8,778.8 230.2,778.2 230.6,778.5 231,778.7 231.4,778.5 231.8,778.5 232.2,778.7 232.6,778.1 233,777.7 233.4,776.5 233.8,777.5 234.2,777.5 234.6,778.7 235,778.1 235.4,778.8 235.8,778.1 236.2,778.4 236.6,776.2 237,778.1 237.4,777.3 237.8,779.1 238.2,777.3 238.6,777.5 239,776.4 239.4,775.2 239.8,773.7 240.2,773.5 240.6,773.8 241,776.4 241.4,777.6 241.8,777.2 242.2,776.9 242.6,776.7 243,776.5 243.4,774.6 243.8,774.2 244.2,775.2 244.6,775.8 245,776.2 245.4,774.4 245.8,774.9 246.2,775.7 246.6,777.3 247,778.6 247.4,777.1 247.8,777 248.2,775.4 248.6,776.3 249,776.7 249.4,777.5 249.8,776 250.2,776.2 250.6,776.1 251,777.8 251.4,777.6 251.8,778.3 252.2,778.3 252.6,779 253,778.7 253.4,779 253.8,779.5 254.2,778.5 254.6,778.8 255,777.8 255.4,778.5 255.8,778.6 256.2,779.8 256.6,779.3 257,779.5 257.4,779 257.8,779.9 258.2,779.6 258.6,779.4 259,779.5 259.4,779.6 259.8,779.4 260.2,780.4 260.6,781 261,781 261.4,780.9 261.8,779.9 262.2,781.4 262.6,781.1 263,781.9 263.4,780.7 263.8,782.1 264.2,781.9 264.6,782.3 265,779.6 265.4,779.3 265.8,778.6 266.2,779.2 266.6,779.1 267,778.8 267.4,780 267.8,779.4 268.2,778.6 268.6,777.8 269,776.7 269.4,775.8 269.8,775.4 270.2,776.6 270.6,776.1 271,775.8 271.4,775.8 271.8,776.5 272.2,776.7 272.6,776.4 273,776.7 273.4,775.5 273.8,775.2 274.2,774.8 274.6,774.8 275,774.4 275.4,775 275.8,776.2 276.2,775.5 276.6,776 277,775.9 277.4,776.4 277.8,775.8 278.2,776.3 278.6,776.4 279,777 279.4,775.7 279.8,776.3 280.2,775.5 280.6,776.6 281,775.9 281.4,775.7 281.8,774.1 282.2,774.6 282.6,773.5 283,773 283.4,773.5 283.8,774.7 284.2,774.7 284.6,773.6 285,772.2 285.4,773.3 285.8,772.8 286.2,773.2 286.6,773.4 287,773.3 287.4,772.9 287.8,772 288.2,771.1 288.6,771.9 289,771.3 289.4,771.7 289.8,771.3 290.2,771.7 290.6,773 291,773 291.4,773.3 291.8,772.3 292.2,773.5 292.6,773.6 293,773.8 293.4,773.9 293.8,773.9 294.2,774 294.6,773.7 295,773.6 295.4,773.3 295.8,773.1 296.2,773.9 296.6,774.1 297,774 297.4,774 297.8,775 298.2,774.9 298.6,775.3 299,775.4 299.4,776.8 299.8,777.1 300.2,776.1 300.6,775.1 301,774.1 301.4,776.5 301.8,776.8 302.2,777.3 302.6,775.3 303,775.9 303.4,775.4 303.8,775.8 304.2,774.1 304.6,774.8 305,775.4 305.4,777.2 305.8,776.6 306.2,775.6 306.6,773.9 307,774 307.4,773.9 307.8,773.4 308.2,773.7 308.6,772.8 309,772 309.4,772.4 309.8,773.1 310.2,773.5 310.6,771 311,770.9 311.4,772.7 311.8,773.2 312.2,773.6 312.6,772 313,772.2 313.4,772.2 313.8,772 314.2,770.3 314.6,768.3 315,770.4 315.4,772.7 315.8,772.5 316.2,770 316.6,770 317,771.1 317.4,771.4 317.8,770.6 318.2,769.9 318.6,770.3 319,768.9 319.4,769 319.8,769.2 320.2,770.8 320.6,772.2 321,772.1 321.4,772.7 321.8,774.1 322.2,773.7 322.6,772.6 323,770.2 323.4,770.5 323.8,771.5 324.2,771.4 324.6,770.3 325,771.2 325.4,772.2 325.8,772.9 326.2,770.1 326.6,770.1 327,770.1 327.4,771.6 327.8,772.8 328.2,772.1 328.6,772.4 329,772.6 329.4,772.2 329.8,771.8 330.2,770.2 330.6,771.6 331,772 331.4,773.2 331.8,771.8 332.2,772.3 332.6,772.3 333,773.2 333.4,772.2 333.8,772.2 334.2,771.4 334.6,773 335,772.2 335.4,771.5 335.8,770.6 336.2,772.9 336.6,775 337,775.7 337.4,773.9" fill="none" stroke="#ff980e" stroke-width="4.5" stroke-linejoin="round" stroke-linecap="butt" clip-path="url(#c_ins)"/>
<path d="M201.7,795v-16.5" stroke="#000" stroke-width="3.3" fill="none"/>
<rect x="66" y="598.9" width="271.3" height="196.1" fill="none" stroke="#000" stroke-width="3.55"/>
<polygon points="144,660.3 149.8,660.3 149.8,702.5 155.5,702.5 146.9,740.6 138.3,702.5 144,702.5" fill="#000"/>
</g>
<g id="sio2">
<path d="M923.5,1007.9V998.1M924.3,1009.1V1002.3M925.1,1011V998.1M925.9,1007.6V1001.7M926.7,1010V1003.5M927.5,1011.5V1002.5M928.3,1011.7V1001.9M929.1,1010.7V1001M929.9,1009.9V1003.5M930.7,1009.8V991.5M931.5,1011.3V992.9M932.3,1007.9V992.9M933.1,1010.6V999M933.9,1007.1V998.8M934.7,1009.2V998M935.5,1010.5V1001.7M936.3,1007.9V1003.3M937.1,1007.7V982.3M937.9,1011.8V998.1M938.7,1011.8V998.8M939.5,1010.4V1000.9M940.3,1011.4V998.2M941.1,1007.7V1001.1M941.9,1010.5V998.2M942.7,1008.4V986.3M943.5,1009.1V986.3M944.3,1009.1V992.8M945.1,1010.1V998.6M945.9,1011.5V976.2M946.7,1006.9V976.2M947.5,1009.4V985.3M948.3,1008.1V982.2M949.1,1010.6V993.3M949.9,1005.5V957.1M950.7,1008.1V957.1M951.5,1008.8V987.7M952.3,1010.6V991.5M953.1,1010.6V987.5M953.9,1008.3V989.5M954.7,1008V987.7M955.5,1005.3V987.7M956.3,1011.7V996.7M957.1,1005.1V997.7M957.9,1009.6V990.8M958.7,1008.3V994.2M959.5,1010.1V1006.2M960.3,1007.1V991.1M961.1,1008V991.1M961.9,1009.9V998.2M962.7,1007.1V998.2M963.5,1009.3V1001.6M964.3,1008.7V998M965.1,1008.6V996M965.9,1009.3V1001.6M966.7,1009.3V983.8M967.5,1007V992.2M968.3,1008.2V989M969.1,1007.3V995.2M969.9,1008V997.3M970.7,1009.1V996.2M971.5,1009.2V996.3M972.3,1008.5V994.6M973.1,1005.6V989.3M973.9,1006.1V992.4M974.7,1004.5V986.8M975.5,1009.5V977.9M976.3,1008.5V978.1M977.1,1005.9V984.1M977.9,998.8V978.6M978.7,1006.1V981.8M979.5,1009V981.8M980.3,1008V976.9M981.1,1001.5V980.8M981.9,1008.2V994.8M982.7,1008.6V984.9M983.5,1005.4V985.2M984.3,1006.7V985.2M985.1,1009.4V985.8M985.9,1006.4V990.3M986.7,1008.8V981.8M987.5,1009V985.3M988.3,1007.5V972.5M989.1,1007.5V957.9M989.9,1006.4V988.5M990.7,1011.2V989.7M991.5,1007V993.4M992.3,1007V991.2M993.1,1009.5V987.2M993.9,1003.2V979M994.7,1010.3V989.1M995.5,1008.6V987.4M996.3,1008.6V994.7M997.1,1010.4V995.9M997.9,1008V990.6M998.7,1005.7V990.6M999.5,1006.5V992M1000.3,1008.4V996.8M1001.1,1008.4V997.6M1001.9,1008.7V996.4M1002.7,1004.1V986.2M1003.5,1009.6V983M1004.3,1010.4V996.1M1005.1,1007V994.8M1005.9,1006.8V994.8M1006.7,1006.8V988.1M1007.5,1005.4V995M1008.3,1005.7V995M1009.1,1008V982.8M1009.9,1009.8V991.2M1010.7,1009.8V988.3M1011.5,1006.6V982M1012.3,1009.6V997.2M1013.1,1008.9V997.8M1013.9,1006.9V991.7M1014.7,1006.6V985.3M1015.5,1011.2V992.1M1016.3,1009.6V1005.5M1017.1,1010.1V995.6M1017.9,1010.1V996.9M1018.7,1009.3V1002.9M1019.5,1009.3V996.8M1020.3,1010.6V996.8M1021.1,1010V1001M1021.9,1010V984.6M1022.7,1010.7V999.3M1023.5,1007.5V994.5M1024.3,1007.5V993.1M1025.1,1006.5V991.6M1025.9,1010.8V993.6M1026.7,1008.1V990.8M1027.5,1011.5V997.8M1028.3,1007.2V983.1M1029.1,1007.1V983.1M1029.9,1007.1V963.2M1030.7,1010.8V994.4M1031.5,1008.8V976.6M1032.3,1009.7V1002.6M1033.1,1010.2V1000.4M1033.9,1010.2V996.2M1034.7,1008.1V988.1M1035.5,1008.1V980.1M1036.3,1007.2V983.7M1037.1,1010.4V1000.2M1037.9,1007.4V990.5M1038.7,1002.3V988.9M1039.5,1004.3V988.9M1040.3,1005.4V995.6M1041.1,1009.8V981.1M1041.9,1009.5V981.1M1042.7,1007.4V983.2M1043.5,1010.2V983.4M1044.3,1009.6V989.5M1045.1,1006.3V974M1045.9,1007.4V991M1046.7,1007.3V984.7M1047.5,1004.6V990.9M1048.3,1009V990.9M1049.1,1009.7V991.2M1049.9,1010.8V970.7M1050.7,1008.6V1001.6M1051.5,1010.2V995.7M1052.3,1006.7V983.5M1053.1,1007.9V990M1053.9,1011.3V994.5M1054.7,1008.3V994.5M1055.5,1008.3V999.3M1056.3,1010.8V999.3M1057.1,1007.3V975.5M1057.9,1010.2V975.5M1058.7,1010.2V987.5M1059.5,1005.2V987.5M1060.3,1005.2V953.8M1061.1,1008.4V1002.5M1061.9,1007.9V991.6M1062.7,1006.9V991.6M1063.5,1009.3V994.5M1064.3,1009.3V980.7M1065.1,1004.7V989M1065.9,1010.6V990.2M1066.7,1010.6V988.6M1067.5,1010.8V988.1M1068.3,998.6V986.7M1069.1,1004.7V996.5M1069.9,1008.9V996.5M1070.7,1010.8V1001.7M1071.5,1008V984.5M1072.3,1008V994M1073.1,1006.2V982.8M1073.9,1006.2V982M1074.7,1001.7V982M1075.5,1002V984.1M1076.3,1004.8V986.9M1077.1,1006.4V985.9M1077.9,1005.2V990.8M1078.7,1005.9V990.8M1079.5,1010.2V991.1M1080.3,1010.6V991.8M1081.1,1010.2V988.4M1081.9,1009.2V993.3M1082.7,1010.3V991.7M1083.5,1010.3V989.2M1084.3,1006V996.5M1085.1,1007.8V976.2M1085.9,1003.2V969.9M1086.7,1003.2V967.3M1087.5,1007.4V989.5M1088.3,1004.2V996.5M1089.1,1008V973.4M1089.9,1004.2V973.4M1090.7,1007.7V991.9M1091.5,1004.1V976.7M1092.3,1007V966.4M1093.1,1007V971.3M1093.9,1005.7V977.3M1094.7,1005.7V972.4M1095.5,1006.1V983.6M1096.3,1005.5V991.7M1097.1,1006.9V988M1097.9,1010.8V998M1098.7,1010.9V992.8M1099.5,1010.9V986.1M1100.3,1007.8V970M1101.1,998.9V973.4M1101.9,998.4V973.4M1102.7,1002.5V977.2M1103.5,1007.8V973.1M1104.3,1007.8V977.1M1105.1,999.5V987.5M1105.9,1006.9V981.5M1106.7,1006.9V975.1M1107.5,1003.5V981.2M1108.3,1006.4V950M1109.1,1006.4V974.1M1109.9,1005.2V974.1M1110.7,1007.7V992.9M1111.5,1007.3V918.8M1112.3,1004.9V993.2M1113.1,1009.4V989.7M1113.9,1006.1V977.3M1114.7,1011.4V967.4M1115.5,1011.4V986.8M1116.3,1007.3V986.8M1117.1,1003.6V958.7M1117.9,1005.4V972.4M1118.7,1005.4V958.5M1119.5,1003.5V959.9M1120.3,1003.7V995.1M1121.1,1003.7V944.5M1121.9,1007.8V987.9M1122.7,1002.5V992.9M1123.5,1004.7V990.7M1124.3,1007.4V990.7M1125.1,999.7V973.7M1125.9,1007.5V973.7M1126.7,1007.5V992.3M1127.5,1001.3V979.5M1128.3,1003.4V965.7M1129.1,1005.5V973.7M1129.9,1008.3V965.1M1130.7,1008.4V973M1131.5,1010.3V979.7M1132.3,1005.8V975.6M1133.1,1002.8V971.7M1133.9,1009.9V993.8M1134.7,1007.3V966.9M1135.5,1007.3V988.1M1136.3,1007.4V957.4M1137.1,1007.4V970.6M1137.9,1007.6V975.1M1138.7,998.8V965.6M1139.5,1005.9V950M1140.3,994.3V948.7M1141.1,993.1V949.5M1141.9,1003.4V958.2M1142.7,999.7V958.2M1143.5,997.2V878.8M1144.3,981.9V921.4M1145.1,1003.8V921.4M1145.9,1003.8V957.9M1146.7,1007.2V987M1147.5,1008.5V980.6M1148.3,1003.2V958.4M1149.1,1007.6V958.4M1149.9,1007.6V960.7M1150.7,1006V958.7M1151.5,1008.1V981.1M1152.3,1008.1V982.3M1153.1,1003V971.9M1153.9,1003V975.2M1154.7,998.6V930.8M1155.5,1008.6V931.7M1156.3,1008.6V972.2M1157.1,1002.8V920.3M1157.9,993.4V873.2M1158.7,995.1V892.8M1159.5,1008V965.8M1160.3,987.2V955M1161.1,996.5V949.9M1161.9,1009.2V920M1162.7,995.2V920M1163.5,981.7V957.3M1164.3,989.4V957.3M1165.1,1008.3V898.6M1165.9,1005.1V945.6M1166.7,989.9V927.8M1167.5,993V941M1168.3,993V926.2M1169.1,1001.2V906.1M1169.9,1000.7V841.3M1170.7,994.6V907.7M1171.5,978V874.3M1172.3,995.3V953.9M1173.1,986.2V935.5M1173.9,1002V962M1174.7,994.5V950.3M1175.5,999.3V946.7M1176.3,1001.8V891.3M1177.1,997.6V951.3M1177.9,993V799.2M1178.7,969V799.2M1179.5,989.2V918.2M1180.3,993.9V898.5M1181.1,993.9V727.9M1181.9,1008.2V903.4M1182.7,978.1V893.9M1183.5,992.9V885.8M1184.3,999.8V902.4M1185.1,1005.7V889.4M1185.9,1002.3V884.1M1186.7,990.8V884.1M1187.5,971.3V909.3M1188.3,990.6V717.3M1189.1,1004.6V837.3M1189.9,1005.7V894M1190.7,959.2V916.4M1191.5,1008.7V824.6M1192.3,1002.2V848.4M1193.1,1005V815.3M1193.9,1008.9V880.3M1194.7,975V843.2M1195.5,981.9V843.2M1196.3,999.2V859.6M1197.1,960.7V826.6M1197.9,973.4V794.4M1198.7,979.2V794.4M1199.5,985.9V866M1200.3,985.9V775.3M1201.1,939.3V742.6M1201.9,1001.9V812.4M1202.7,990.8V766.1M1203.5,1006.7V791.1M1204.3,1006.7V894M1205.1,1008.4V739.5M1205.9,993.1V739.5M1206.7,993.1V734.4M1207.5,935.5V666.6M1208.3,984.1V761.8M1209.1,978.8V761.8M1209.9,919.5V606.3M1210.7,991.4V675.2M1211.5,963V675.2M1212.3,1000.3V574.3M1213.1,865.1V666.4M1213.9,993.7V680.9M1214.7,993.7V805.7M1215.5,968.2V784.2M1216.3,989.6V876.6M1217.1,969.3V715.3M1217.9,989.3V574.3M1218.7,888.7V574.3M1219.5,935.1V719M1220.3,909.4V574.3M1221.1,909.4V728.1M1221.9,895.8V574.3M1222.7,895.8V574.3M1223.5,911.7V574.3M1224.3,967V742.3M1225.1,963.7V737.9M1225.9,877.2V692.8M1226.7,927.3V588.7M1227.5,979.8V724.8M1228.3,979.8V574.3M1229.1,963.9V574.3M1229.9,856.5V589.7M1230.7,801.4V640.4M1231.5,962.5V731.8M1232.3,962.5V642.4M1233.1,991.5V574.3M1233.9,926.3V574.3M1234.7,951.1V574.3M1235.5,973.5V574.3M1236.3,882.2V574.3M1237.1,896.5V574.3M1237.9,989.7V574.3M1238.7,881.7V574.3M1239.5,880.4V574.3M1240.3,953.6V574.3M1241.1,960.8V574.3M1241.9,898.6V773M1242.7,958.7V574.3M1243.5,943.2V574.3M1244.3,943.2V574.3M1245.1,858.4V574.3M1245.9,882.1V660.8M1246.7,899.2V638.7M1247.5,835V574.3M1248.3,917.9V574.3M1249.1,813.6V574.3M1249.9,747.4V574.3M1250.7,840.8V574.3M1251.5,864.4V574.3M1252.3,853.6V574.3M1253.1,954V574.3M1253.9,883.6V574.3M1254.7,786.1V574.3M1255.5,781.9V574.3M1256.3,910.6V574.3M1257.1,910.6V574.3M1257.9,855V574.3M1258.7,985.3V574.3M1259.5,872.2V574.3M1260.3,930.9V574.3M1261.1,732.5V574.3M1261.9,918.9V574.3M1262.7,918.9V574.3M1263.5,815.8V574.3M1264.3,902.7V574.3M1265.1,937.4V574.3M1265.9,954.7V574.3M1266.7,986.8V574.3M1267.5,986.8V574.3M1268.3,905.9V574.3M1269.1,986.4V574.3M1269.9,994.1V574.3M1270.7,838.6V574.3M1271.5,895V574.3M1272.3,868.3V574.3M1273.1,923.9V672.9M1273.9,921.6V790.6M1274.7,971.7V783.5M1275.5,971.7V574.3M1276.3,985.3V619M1277.1,920.3V619M1277.9,877.4V574.3M1278.7,877.4V692M1279.5,961.7V750.4M1280.3,936.7V683.9M1281.1,941.9V671.5M1281.9,988.5V706.9M1282.7,955V659.7M1283.5,982.7V826.2M1284.3,925V683.6M1285.1,976.8V574.3M1285.9,925V613M1286.7,947.5V628.1M1287.5,944.9V574.3M1288.3,964.3V574.3M1289.1,989.5V574.3M1289.9,915.9V574.3M1290.7,959.1V574.3M1291.5,1000.4V574.3M1292.3,965.8V697.1M1293.1,970V574.3M1293.9,848.8V574.3M1294.7,828.4V574.3M1295.5,905.7V574.3M1296.3,936.2V574.3M1297.1,960.9V574.3M1297.9,946.5V574.3M1298.7,882.2V574.3M1299.5,882.2V574.3M1300.3,835.4V574.3M1301.1,885.7V603.2M1301.9,911V574.3M1302.7,978V647.6M1303.5,967.3V647.6M1304.3,929.9V574.3M1305.1,823.9V574.3M1305.9,987V574.3M1306.7,964.9V575.6M1307.5,973.7V574.3M1308.3,973.7V574.3M1309.1,937.2V738.9M1309.9,931.6V574.3M1310.7,990.7V679.2M1311.5,957.3V664.9M1312.3,834.8V762.8M1313.1,986.2V574.3M1313.9,934V845.9M1314.7,904.7V574.3M1315.5,972.4V574.3M1316.3,965.7V633M1317.1,981.6V574.3M1317.9,978.6V574.3M1318.7,977.1V574.3M1319.5,940.9V574.3M1320.3,967V825.8M1321.1,973.2V773.6M1321.9,963.2V714.2M1322.7,953.5V773.4M1323.5,909.1V834M1324.3,967.3V822.4M1325.1,1002.6V843.8M1325.9,1002.6V821.1M1326.7,970.8V797.6M1327.5,970.8V670.9M1328.3,1001.9V841.6M1329.1,960.8V822.3M1329.9,983.7V678.4M1330.7,986.6V753.5M1331.5,986.6V828.8M1332.3,916.2V790.9M1333.1,1002.8V790.9M1333.9,1002.8V723.1M1334.7,987.6V899.3M1335.5,987.6V783.7M1336.3,910.5V794.3M1337.1,1007.3V815.7M1337.9,958.6V761.8M1338.7,984.7V646.2M1339.5,1001.8V872M1340.3,1001.8V852M1341.1,988.7V848.6M1341.9,973.7V872.2M1342.7,997.9V886.2M1343.5,945.6V874.7M1344.3,997.6V897M1345.1,985.7V857.4M1345.9,988.1V919.8M1346.7,967V915.1M1347.5,993.6V940M1348.3,993.6V888.5M1349.1,995.6V913.2M1349.9,971.8V874.3M1350.7,971.6V875.1M1351.5,973.7V872M1352.3,995.1V872M1353.1,995.1V942.2M1353.9,985.6V855.2M1354.7,1010.6V873.5M1355.5,1010.6V822.9M1356.3,1004.5V924.6M1357.1,961.1V866.4M1357.9,1000.8V866.4M1358.7,984.8V911.3M1359.5,987.1V911.3M1360.3,977.7V897.8M1361.1,1006.4V910.6M1361.9,1006.4V904.4M1362.7,1008.5V937.2M1363.5,1008.5V952M1364.3,1006.8V955.6M1365.1,1007.1V964M1365.9,987.8V846.6M1366.7,992.1V968.7M1367.5,995.2V964.9M1368.3,998.7V932.3M1369.1,986.4V932.3M1369.9,1007.2V945.4M1370.7,1007.2V938.1M1371.5,984.8V915.5M1372.3,1002.4V949.7M1373.1,1000.2V872.8M1373.9,1010.6V927.3M1374.7,1009.1V960.5M1375.5,1001.1V937.3M1376.3,998.4V946.3M1377.1,1008.5V926.2M1377.9,1008.5V958.7M1378.7,1008V964.6M1379.5,1002.4V954.1M1380.3,1004.3V980.8M1381.1,1009V975.1M1381.9,1005.6V989.7M1382.7,1005.6V962.5M1383.5,998.7V961.6M1384.3,1004.3V972.6M1385.1,999.5V974.8M1385.9,1009.6V994.4M1386.7,998V933.9M1387.5,1009.2V964.7M1388.3,1009.2V964M1389.1,1002.9V978.3M1389.9,1002.9V972.1M1390.7,1005.6V948M1391.5,1005.6V970.6M1392.3,1005.5V980.3M1393.1,1007.4V954.2M1393.9,1010V956.5M1394.7,1003.6V982.4M1395.5,1002.4V978.3M1396.3,1005.9V981.3M1397.1,1005V967.5M1397.9,1008.9V967.8M1398.7,1008.9V953.4M1399.5,1008.1V944.1M1400.3,1008.1V974.9M1401.1,1009.7V953.4M1401.9,998.9V953.4M1402.7,1007.4V991.8M1403.5,1007.4V948.4M1404.3,997.8V937.6M1405.1,989.6V928.4M1405.9,1008.5V956.5M1406.7,1009.4V971.1M1407.5,1009.4V953.4M1408.3,1001.7V923.8M1409.1,999.2V951.7M1409.9,988.1V841.5M1410.7,1007.4V841.5M1411.5,1007.4V933.9M1412.3,983.5V924.3M1413.1,1010.1V931.2M1413.9,1001.8V943.3M1414.7,1006.2V924.7M1415.5,1001.4V924.7M1416.3,999.5V906.1M1417.1,1002.5V913.2M1417.9,1007.1V939.7M1418.7,1007.1V929.4M1419.5,998.8V913.5M1420.3,998.8V891.5M1421.1,978.8V839.2M1421.9,986.5V866.9M1422.7,970.2V866.9M1423.5,992V934.9M1424.3,992V837.5M1425.1,997.3V883.6M1425.9,999.5V905M1426.7,998V887.8M1427.5,964.2V887.8M1428.3,1007.3V902.1M1429.1,1007.3V805.4M1429.9,987.6V856.6M1430.7,1006.1V794.7M1431.5,967.4V826.5M1432.3,966V804.8M1433.1,982.2V804.8M1433.9,961.1V847.4M1434.7,938.1V907.8M1435.5,916.8V664.9M1436.3,1002.8V806.9M1437.1,1002.8V574.3M1437.9,951.5V638.8M1438.7,960V733.9M1439.5,939.5V879.6M1440.3,962.2V624M1441.1,1006.5V800.6M1441.9,1006.5V769.2M1442.7,963.1V695.2M1443.5,975.1V765.4M1444.3,932.9V733.8M1445.1,910.4V649.5M1445.9,958.7V574.3M1446.7,978.4V713.5M1447.5,978.4V673.1M1448.3,955.1V655M1449.1,987.1V655M1449.9,974.2V733.5M1450.7,976.8V791.8M1451.5,947.9V791.8M1452.3,958.3V886.8M1453.1,976.5V634.3M1453.9,970.3V834.1M1454.7,964.4V717M1455.5,957.3V756M1456.3,976V574.3M1457.1,957.2V574.3M1457.9,925.4V574.3M1458.7,925.4V694.7M1459.5,984.2V636.9M1460.3,963.5V721.7M1461.1,976.1V646.7M1461.9,976.1V895.7M1462.7,974.7V857.2M1463.5,974.5V807.4M1464.3,958.4V757.6M1465.1,952.9V827.7M1465.9,986.7V859M1466.7,1005.6V603.1M1467.5,968V787.3M1468.3,984.6V628.6M1469.1,995.4V871.1M1469.9,994.5V858.4M1470.7,972.3V792.7M1471.5,1005.3V892M1472.3,988.8V836.5M1473.1,950.8V753.7M1473.9,908.5V815.1M1474.7,943.2V574.3M1475.5,982.3V861M1476.3,961.9V748.5M1477.1,1000.6V745.8M1477.9,984.7V745.8M1478.7,984.7V894.7M1479.5,913.2V675.6M1480.3,971.2V675.6M1481.1,995V841.9M1481.9,985.8V574.3M1482.7,975.5V574.3M1483.5,971.8V723.6M1484.3,997V723.6M1485.1,996.3V919.9M1485.9,996.3V918.4M1486.7,998.2V961.8M1487.5,1004.4V953.9M1488.3,1006.1V929.7M1489.1,999.6V885.3M1489.9,987.8V885.3M1490.7,991V927.9M1491.5,976.7V879.2M1492.3,977.3V857.7M1493.1,987.5V896.1M1493.9,1001.2V896.1M1494.7,1002V920.9M1495.5,998V935.8M1496.3,987.7V945.8M1497.1,987.7V939.7M1497.9,1007.5V887.3M1498.7,986.9V887.3M1499.5,992.9V957.2M1500.3,976.3V909M1501.1,990V886.8M1501.9,1003.7V889.8M1502.7,998.6V950.3M1503.5,976.1V951.1M1504.3,998.9V874.5M1505.1,1001.5V874.5M1505.9,1002.4V937.9M1506.7,993.5V937.9M1507.5,998.5V949.3M1508.3,1003.2V951.9M1509.1,1007.5V981.8M1509.9,998.5V945M1510.7,993.5V971.1M1511.5,1003.5V963.3M1512.3,1003.5V936.5M1513.1,987.5V960.1M1513.9,991.1V913.7M1514.7,1005.4V945.1M1515.5,1005.8V960.1M1516.3,996.4V924.7M1517.1,999.8V924.7M1517.9,997.8V901.2M1518.7,1004V953M1519.5,997.5V928.5M1520.3,1003.6V958.6M1521.1,1007.4V969.2M1521.9,1007.4V959.6M1522.7,1006.7V952.4M1523.5,1006.7V940.2M1524.3,990.1V940.2M1525.1,995.1V951.7M1525.9,998.1V932.6M1526.7,984.9V932.6M1527.5,997.1V924.8M1528.3,999.5V924.8M1529.1,1006.2V979.6M1529.9,994.4V971M1530.7,1007.3V972.4M1531.5,1009.4V960.6M1532.3,1008.5V984.1M1533.1,996.5V946.2M1533.9,1005.9V967.4M1534.7,1005.9V971M1535.5,1001.5V954.8M1536.3,1011.1V981.1M1537.1,1009.5V977.4M1537.9,1009.5V984.5M1538.7,1011.2V991.8M1539.5,1004.1V991.3M1540.3,1008V961.4M1541.1,1008V983M1541.9,1005.1V983M1542.7,1006.9V974M1543.5,1006.6V980.1M1544.3,1010V991.8M1545.1,1006.6V983.6M1545.9,1008.3V971.1M1546.7,1003.5V982.9M1547.5,1008.1V982.9M1548.3,1008V994.7M1549.1,1010.2V994.2M1549.9,1008.7V971.6M1550.7,1009.7V985M1551.5,1007.4V974M1552.3,1005V982.9M1553.1,1007.6V984.1M1553.9,1007.2V984.1M1554.7,1009.3V981.1M1555.5,1006.6V990M1556.3,1007.3V994.5M1557.1,1009.2V979.3M1557.9,1009.2V984.4M1558.7,1010.5V982.3M1559.5,1005.1V982.3M1560.3,1006V998.4M1561.1,1009.9V997.3M1561.9,1005.6V987M1562.7,1007.5V1000.1M1563.5,1008V991M1564.3,1007V996.1M1565.1,1009.1V998.4M1565.9,1007.8V999.5M1566.7,1010.7V996.7M1567.5,1008.5V1002.4M1568.3,1009.6V992M1569.1,1007.4V997.7M1569.9,1011.7V973.3M1570.7,1009.1V999.9M1571.5,1008.9V999.6M1572.3,1011.9V1001.1M1573.1,1009.6V999M1573.9,1010.1V999.3M1574.7,1009.7V999.3M1575.5,1008.5V1000.2M1576.3,1008.8V998.6M1577.1,1011.1V994M1577.9,1011.4V997M1578.7,1009.8V995.5M1579.5,1010.8V1003.4M1580.3,1009.7V997.7M1581.1,1009.2V999.8M1581.9,1010.1V1004.5M1582.7,1010.1V1002.5M1583.5,1009.1V997.1M1584.3,1008.4V997.8M1585.1,1010.1V1000M1585.9,1010.4V1003.6M1586.7,1009.3V1006.3M1587.5,1010.3V1005M1588.3,1010.3V1001.7M1589.1,1010.1V994.9M1589.9,1010.1V999.9M1590.7,1009.3V1005.9M1591.5,1010.5V1002.1M1592.3,1011V1007.6M1593.1,1010.6V999.4M1593.9,1010.5V999.4M1594.7,1009.9V1001M1595.5,1010.7V1003.4M1596.3,1009.2V1007.1M1597.1,1010.4V1001M1597.9,1006.9V998.3M1598.7,1008.5V1005.8M1599.5,1011.7V1001.4M1600.3,1010.4V1002.4M1601.1,1011V1003.6M1601.9,1011.7V996M1602.7,1011.5V996M1603.5,1010.9V1001.5M1604.3,1008.9V1002.2M1605.1,1010.1V1002.3M1605.9,1011.2V1007.5M1606.7,1011V1005.6M1607.5,1011.5V1005.7M1608.3,1011.5V999.7M1609.1,1011.1V1008.4" fill="none" stroke="#cccccc" stroke-width="1.0" clip-path="url(#c_sio2)"/>
<path d="M923.1,1005 923.5,1004.6 923.9,1004.8 924.3,1005 924.7,1005.3 925.1,1005.3 925.5,1005.4 925.9,1005.1 926.3,1005.6 926.7,1005.2 927.1,1005.5 927.5,1005.2 927.9,1004.7 928.3,1005 928.7,1005.3 929.1,1005.6 929.5,1005.4 929.9,1005.3 930.3,1005.6 930.7,1005.5 931.1,1005 931.5,1004.9 931.9,1004.9 932.3,1005.2 932.7,1005.2 933.1,1005.1 933.5,1005.1 933.9,1004.8 934.3,1004.8 934.7,1004.4 935.1,1004.4 935.5,1004.2 935.9,1004.8 936.3,1005 936.7,1005 937.1,1004.6 937.5,1004.3 937.9,1003.9 938.3,1004.1 938.7,1004.7 939.1,1004.5 939.5,1004.3 939.9,1003.3 940.3,1003.7 940.7,1003.2 941.1,1002.8 941.5,1002.3 941.9,1002.7 942.3,1003 942.7,1003.2 943.1,1002.1 943.5,1002 943.9,1001 944.3,1001.1 944.7,1000.9 945.1,1001.2 945.5,1001.2 945.9,1000.7 946.3,1000.1 946.7,999.7 947.1,999.6 947.5,999.3 947.9,999.4 948.3,998.8 948.7,998.9 949.1,998 949.5,998.1 949.9,997.9 950.3,998.9 950.7,999.2 951.1,999 951.5,998.6 951.9,998.2 952.3,998.6 952.7,998.5 953.1,999.2 953.5,999.1 953.9,1000.4 954.3,1000.3 954.7,1000.8 955.1,1000.3 955.5,1001.4 955.9,1002.2 956.3,1002.5 956.7,1002.7 957.1,1001.8 957.5,1001.7 957.9,1001.3 958.3,1001.8 958.7,1002.3 959.1,1003 959.5,1003.3 959.9,1003.3 960.3,1002.8 960.7,1002.9 961.1,1002.6 961.5,1002.3 961.9,1002.2 962.3,1001.4 962.7,1001.5 963.1,1001.1 963.5,1001.6 963.9,1001.4 964.3,1001.1 964.7,1001.1 965.1,1001.3 965.5,1001.9 965.9,1002 966.3,1001.8 966.7,1002.1 967.1,1001.9 967.5,1002.3 967.9,1002 968.3,1002.3 968.7,1002.2 969.1,1002.4 969.5,1002.5 969.9,1001.9 970.3,1001.3 970.7,1001.5 971.1,1001.4 971.5,1000.9 971.9,999.7 972.3,999.6 972.7,999.5 973.1,999 973.5,998.6 973.9,998.8 974.3,999.1 974.7,999 975.1,997.9 975.5,997.9 975.9,998.8 976.3,998.9 976.7,998.7 977.1,997.5 977.5,997.1 977.9,997.7 978.3,996.6 978.7,996.7 979.1,996.1 979.5,996.8 979.9,996.9 980.3,997.3 980.7,997.4 981.1,997.6 981.5,996.6 981.9,996.3 982.3,996 982.7,997.3 983.1,997.6 983.5,997.8 983.9,996.7 984.3,996.7 984.7,996.6 985.1,997.9 985.5,997.9 985.9,997.9 986.3,997.7 986.7,998.3 987.1,998.3 987.5,997.9 987.9,998.3 988.3,999.1 988.7,999.6 989.1,999.9 989.5,1000.2 989.9,1000 990.3,999.7 990.7,999 991.1,1000.1 991.5,999.7 991.9,999.9 992.3,999.3 992.7,999.5 993.1,999.5 993.5,1000.3 993.9,1000.4 994.3,1000.2 994.7,999.7 995.1,999.5 995.5,999.4 995.9,999.3 996.3,999.8 996.7,1000.1 997.1,1000.3 997.5,1000.2 997.9,999.9 998.3,999.6 998.7,999.7 999.1,1000.2 999.5,1000.4 999.9,1000.1 1000.3,1000.2 1000.7,999.5 1001.1,1000.2 1001.5,999.8 1001.9,1000.1 1002.3,999.5 1002.7,999.7 1003.1,1000.2 1003.5,1000.7 1003.9,999.9 1004.3,999.3 1004.7,998.7 1005.1,999.3 1005.5,999.6 1005.9,999.6 1006.3,999.7 1006.7,998.7 1007.1,998.8 1007.5,998.2 1007.9,999 1008.3,998.7 1008.7,998.4 1009.1,998.6 1009.5,998.3 1009.9,998 1010.3,997.3 1010.7,997.3 1011.1,996.9 1011.5,996.3 1011.9,996.3 1012.3,996.9 1012.7,997.4 1013.1,997.5 1013.5,998 1013.9,998.3 1014.3,999 1014.7,998.6 1015.1,998.9 1015.5,998.9 1015.9,999.4 1016.3,1000 1016.7,1000.3 1017.1,1000.7 1017.5,1000 1017.9,999.9 1018.3,999 1018.7,999.6 1019.1,1000.1 1019.5,1001 1019.9,1000.9 1020.3,1000 1020.7,1000.6 1021.1,1000.9 1021.5,1002.2 1021.9,1002.2 1022.3,1002.1 1022.7,1001.7 1023.1,1001.4 1023.5,1001.3 1023.9,1001.1 1024.3,1000.5 1024.7,1000.3 1025.1,1000.2 1025.5,1000.4 1025.9,1000 1026.3,999.8 1026.7,999.8 1027.1,999.4 1027.5,999.7 1027.9,1000.3 1028.3,1000.4 1028.7,1000.2 1029.1,1000.1 1029.5,1000.1 1029.9,999.8 1030.3,999.1 1030.7,999.6 1031.1,1000.2 1031.5,1000.6 1031.9,1000.3 1032.3,999.5 1032.7,999.1 1033.1,998.9 1033.5,999.4 1033.9,999.4 1034.3,1000.1 1034.7,999.8 1035.1,1000 1035.5,999.4 1035.9,999.4 1036.3,999.5 1036.7,999.8 1037.1,999.4 1037.5,999.5 1037.9,998.9 1038.3,998.6 1038.7,997.8 1039.1,998.4 1039.5,998.9 1039.9,999 1040.3,999.1 1040.7,999.3 1041.1,999.4 1041.5,999.1 1041.9,998.6 1042.3,998.7 1042.7,999.5 1043.1,999.7 1043.5,999.8 1043.9,999.3 1044.3,999 1044.7,998.5 1045.1,998.3 1045.5,998.9 1045.9,998.5 1046.3,999.3 1046.7,998.9 1047.1,999.1 1047.5,999.2 1047.9,999.3 1048.3,999.9 1048.7,999.3 1049.1,999.6 1049.5,999.8 1049.9,1000.4 1050.3,1000.8 1050.7,1000.7 1051.1,1001.1 1051.5,1000.9 1051.9,1001 1052.3,1001 1052.7,1001.3 1053.1,1001.9 1053.5,1001.5 1053.9,1002.2 1054.3,1002.2 1054.7,1002.1 1055.1,1000.9 1055.5,1000.5 1055.9,1000.5 1056.3,1000.5 1056.7,1000 1057.1,999.5 1057.5,999.5 1057.9,999.6 1058.3,999.9 1058.7,999.5 1059.1,998.9 1059.5,998.6 1059.9,998 1060.3,997.7 1060.7,997.4 1061.1,997.6 1061.5,998.1 1061.9,998.3 1062.3,997.7 1062.7,997.2 1063.1,997.3 1063.5,998.6 1063.9,999.6 1064.3,999.3 1064.7,999.5 1065.1,999.5 1065.5,1000.6 1065.9,1000.6 1066.3,1001.4 1066.7,1001.6 1067.1,1002 1067.5,1001.6 1067.9,1001.7 1068.3,1002 1068.7,1002.6 1069.1,1002.9 1069.5,1002.7 1069.9,1002.3 1070.3,1001.7 1070.7,1001 1071.1,1001 1071.5,1000.6 1071.9,1000.4 1072.3,999.7 1072.7,999.2 1073.1,999.1 1073.5,999 1073.9,999.3 1074.3,998.7 1074.7,997.6 1075.1,996.1 1075.5,995.9 1075.9,996.3 1076.3,996.7 1076.7,996.6 1077.1,996.1 1077.5,995.5 1077.9,995.1 1078.3,995.9 1078.7,996.7 1079.1,997.3 1079.5,996.2 1079.9,996 1080.3,995.9 1080.7,996.8 1081.1,996.7 1081.5,996.2 1081.9,996.3 1082.3,995.8 1082.7,995.6 1083.1,995.4 1083.5,995.9 1083.9,995.6 1084.3,995.1 1084.7,994 1085.1,993.5 1085.5,992.9 1085.9,992.7 1086.3,992.5 1086.7,993.4 1087.1,993 1087.5,992.7 1087.9,991.9 1088.3,991.5 1088.7,991.2 1089.1,990.2 1089.5,989.8 1089.9,990.1 1090.3,990.6 1090.7,990.8 1091.1,991.5 1091.5,991.8 1091.9,991.8 1092.3,992 1092.7,991.5 1093.1,992.2 1093.5,991.1 1093.9,991.7 1094.3,990.4 1094.7,990.8 1095.1,991.7 1095.5,992.9 1095.9,993.2 1096.3,991.9 1096.7,992.7 1097.1,992.2 1097.5,992.7 1097.9,992.6 1098.3,993.8 1098.7,994.6 1099.1,994.6 1099.5,995.3 1099.9,995.5 1100.3,994.8 1100.7,993.9 1101.1,993.4 1101.5,993.1 1101.9,992.7 1102.3,992.7 1102.7,993.8 1103.1,994 1103.5,993.7 1103.9,992.9 1104.3,993 1104.7,993.2 1105.1,993.5 1105.5,993.5 1105.9,993.6 1106.3,993.7 1106.7,993.4 1107.1,992.9 1107.5,992.3 1107.9,992.1 1108.3,991.9 1108.7,991.5 1109.1,991.9 1109.5,991.2 1109.9,991.9 1110.3,990.8 1110.7,990.8 1111.1,989.7 1111.5,990.2 1111.9,990.1 1112.3,989.4 1112.7,989.8 1113.1,989.4 1113.5,989.9 1113.9,989.2 1114.3,989.6 1114.7,989.1 1115.1,988 1115.5,987.6 1115.9,988.2 1116.3,989.3 1116.7,988.3 1117.1,987.5 1117.5,986 1117.9,987.2 1118.3,986.6 1118.7,986.9 1119.1,986.3 1119.5,987 1119.9,986.6 1120.3,987.7 1120.7,988.4 1121.1,988.7 1121.5,988.7 1121.9,988.6 1122.3,989.9 1122.7,989.1 1123.1,988.7 1123.5,988 1123.9,988.3 1124.3,989.3 1124.7,990.2 1125.1,990.9 1125.5,989.9 1125.9,989.2 1126.3,988.8 1126.7,989.5 1127.1,990 1127.5,989.9 1127.9,989.4 1128.3,989.3 1128.7,989.5 1129.1,989.5 1129.5,989.3 1129.9,988.8 1130.3,987.2 1130.7,986.4 1131.1,985.7 1131.5,985.7 1131.9,984.9 1132.3,985.7 1132.7,985.7 1133.1,985.6 1133.5,985.7 1133.9,985.5 1134.3,986.1 1134.7,985.4 1135.1,985.8 1135.5,985 1135.9,984.9 1136.3,983.4 1136.7,984.1 1137.1,983.9 1137.5,983.3 1137.9,982.1 1138.3,981.1 1138.7,980.9 1139.1,980.7 1139.5,981.1 1139.9,982.1 1140.3,981.6 1140.7,981.4 1141.1,980.3 1141.5,979.7 1141.9,979.2 1142.3,980.1 1142.7,980.8 1143.1,980.9 1143.5,979.5 1143.9,979.9 1144.3,980 1144.7,981 1145.1,981 1145.5,981.3 1145.9,980.8 1146.3,981 1146.7,980.8 1147.1,981.4 1147.5,981.9 1147.9,982.9 1148.3,983.4 1148.7,983.1 1149.1,983.1 1149.5,983.4 1149.9,984.5 1150.3,984.2 1150.7,983.6 1151.1,983 1151.5,983 1151.9,981.7 1152.3,980.9 1152.7,979.8 1153.1,979.7 1153.5,979 1153.9,978 1154.3,978 1154.7,977.5 1155.1,977.9 1155.5,977.1 1155.9,976.4 1156.3,976.4 1156.7,975.5 1157.1,974.5 1157.5,973 1157.9,973.2 1158.3,974.3 1158.7,973.8 1159.1,972.9 1159.5,972.4 1159.9,973.1 1160.3,973.4 1160.7,973.1 1161.1,972.9 1161.5,972.4 1161.9,971.3 1162.3,970.8 1162.7,970.5 1163.1,971.1 1163.5,971.8 1163.9,971.7 1164.3,972.1 1164.7,971.1 1165.1,971.8 1165.5,970.8 1165.9,970.4 1166.3,969.7 1166.7,969.5 1167.1,969.1 1167.5,967.9 1167.9,966.8 1168.3,966.3 1168.7,966.1 1169.1,966.3 1169.5,965.7 1169.9,965.4 1170.3,964.9 1170.7,964.3 1171.1,964.2 1171.5,963.3 1171.9,963.3 1172.3,962.8 1172.7,962.3 1173.1,961.3 1173.5,960.4 1173.9,958.9 1174.3,957.9 1174.7,956.2 1175.1,955.2 1175.5,954.3 1175.9,953.7 1176.3,953.6 1176.7,955.4 1177.1,954 1177.5,954.2 1177.9,953 1178.3,951.4 1178.7,950.5 1179.1,950.1 1179.5,951.1 1179.9,950.9 1180.3,949.4 1180.7,947.6 1181.1,945.1 1181.5,945.1 1181.9,945.4 1182.3,945 1182.7,943.4 1183.1,941.5 1183.5,940.5 1183.9,939.3 1184.3,937.8 1184.7,936.8 1185.1,936.3 1185.5,935.3 1185.9,934.7 1186.3,933.2 1186.7,931.1 1187.1,928.4 1187.5,926.4 1187.9,926.2 1188.3,926.1 1188.7,925.8 1189.1,924.7 1189.5,924.4 1189.9,924.5 1190.3,926.2 1190.7,927.2 1191.1,927.2 1191.5,927.3 1191.9,929.3 1192.3,929.1 1192.7,928.2 1193.1,924 1193.5,923.9 1193.9,924 1194.3,924.6 1194.7,923.2 1195.1,921.7 1195.5,920.9 1195.9,921.3 1196.3,922.8 1196.7,922.9 1197.1,921.5 1197.5,918.7 1197.9,915.5 1198.3,914.8 1198.7,911.9 1199.1,911.3 1199.5,908.2 1199.9,906.4 1200.3,904.3 1200.7,902.5 1201.1,899.7 1201.5,898.1 1201.9,897.5 1202.3,896.6 1202.7,895.2 1203.1,890.6 1203.5,888.4 1203.9,885.5 1204.3,885 1204.7,881.5 1205.1,880.9 1205.5,878.7 1205.9,878.3 1206.3,873.3 1206.7,870.5 1207.1,868.8 1207.5,868.1 1207.9,866.4 1208.3,864 1208.7,861.4 1209.1,860.5 1209.5,857.1 1209.9,857 1210.3,855.3 1210.7,855.7 1211.1,853.1 1211.5,850.2 1211.9,847.3 1212.3,844.9 1212.7,843.1 1213.1,842.3 1213.5,841.9 1213.9,838.4 1214.3,835.4 1214.7,833.3 1215.1,831.6 1215.5,828.9 1215.9,821.8 1216.3,818 1216.7,810.5 1217.1,807.5 1217.5,802.6 1217.9,800 1218.3,796.3 1218.7,793.6 1219.1,787.5 1219.5,782.6 1219.9,773.7 1220.3,768.6 1220.7,760.6 1221.1,751.1 1221.5,741.5 1221.9,741 1222.3,746.9 1222.7,750.5 1223.1,758 1223.5,762.1 1223.9,762.6 1224.3,754 1224.7,745.8 1225.1,737.6 1225.5,729.5 1225.9,733.6 1226.3,738.4 1226.7,742 1227.1,745.6 1227.5,746.9 1227.9,749.7 1228.3,750.3 1228.7,748.3 1229.1,744.4 1229.5,742.1 1229.9,741.2 1230.3,741.5 1230.7,740.5 1231.1,737.9 1231.5,736.9 1231.9,729.6 1232.3,723.3 1232.7,715 1233.1,707 1233.5,698.8 1233.9,690.5 1234.3,684.5 1234.7,678.5 1235.1,674.2 1235.5,668.7 1235.9,663.5 1236.3,659 1236.7,656.6 1237.1,653.9 1237.5,652.4 1237.9,647.6 1238.3,645.1 1238.7,642.9 1239.1,640.5 1239.5,635.8 1239.9,630.8 1240.3,631.2 1240.7,636.6 1241.1,641.6 1241.5,648 1241.9,655 1242.3,660.9 1242.7,655.7 1243.1,650.6 1243.5,643 1243.9,636.4 1244.3,630.6 1244.7,631.6 1245.1,640.1 1245.5,648.1 1245.9,656.3 1246.3,665.2 1246.7,670.9 1247.1,667.5 1247.5,663.8 1247.9,660.7 1248.3,660.2 1248.7,659.4 1249.1,658.5 1249.5,656.4 1249.9,652.2 1250.3,663.3 1250.7,674.5 1251.1,686.5 1251.5,697.2 1251.9,694.2 1252.3,678.7 1252.7,663.4 1253.1,649.1 1253.5,634.1 1253.9,621.3 1254.3,620.6 1254.7,619.1 1255.1,619 1255.5,617.5 1255.9,616.6 1256.3,614.2 1256.7,612.6 1257.1,612.4 1257.5,613.3 1257.9,607.7 1258.3,599.5 1258.7,590.8 1259.1,584.6 1259.5,574.5 1259.9,559.3 1260.3,543.8 1260.7,536.3 1261.1,536.3 1261.5,536.3 1261.9,536.3 1262.3,536.3 1262.7,536.3 1263.1,536.3 1263.5,536.3 1263.9,536.3 1264.3,546.1 1264.7,560.6 1265.1,573.6 1265.5,580.1 1265.9,585.3 1266.3,592.1 1266.7,597.9 1267.1,601.4 1267.5,603.1 1267.9,605.1 1268.3,611.5 1268.7,617.1 1269.1,627.2 1269.5,633.5 1269.9,642.3 1270.3,648.9 1270.7,657.4 1271.1,669.2 1271.5,680.9 1271.9,694.4 1272.3,707.4 1272.7,721.9 1273.1,731.4 1273.5,742.4 1273.9,750.3 1274.3,760.5 1274.7,769.5 1275.1,778.8 1275.5,781.2 1275.9,780.3 1276.3,781.6 1276.7,782 1277.1,786 1277.5,786.6 1277.9,787.7 1278.3,788.1 1278.7,791 1279.1,795.2 1279.5,798.7 1279.9,803 1280.3,805.9 1280.7,807.8 1281.1,809.9 1281.5,813.5 1281.9,819.5 1282.3,822.4 1282.7,824.4 1283.1,827.7 1283.5,825.4 1283.9,822.3 1284.3,814.8 1284.7,813 1285.1,810.4 1285.5,808.3 1285.9,803 1286.3,798.4 1286.7,795.4 1287.1,791.5 1287.5,786.4 1287.9,781.3 1288.3,777.1 1288.7,770.7 1289.1,765.1 1289.5,757 1289.9,751.6 1290.3,745.3 1290.7,739.2 1291.1,732.7 1291.5,725.2 1291.9,721.8 1292.3,715.5 1292.7,709.9 1293.1,701.4 1293.5,697.9 1293.9,691.3 1294.3,686.3 1294.7,678.9 1295.1,676 1295.5,669.9 1295.9,665.2 1296.3,657.8 1296.7,652.7 1297.1,646.4 1297.5,644.2 1297.9,639.5 1298.3,634.2 1298.7,627.4 1299.1,624.7 1299.5,631 1299.9,636.3 1300.3,643.2 1300.7,649.7 1301.1,656.6 1301.5,658.5 1301.9,661.7 1302.3,664.6 1302.7,671.2 1303.1,675.8 1303.5,678.2 1303.9,679.9 1304.3,682.7 1304.7,689.3 1305.1,696.1 1305.5,703.9 1305.9,710.7 1306.3,719.1 1306.7,728.5 1307.1,738.8 1307.5,748.9 1307.9,755.4 1308.3,763.6 1308.7,765.4 1309.1,762.6 1309.5,760.1 1309.9,757.6 1310.3,755.4 1310.7,753 1311.1,748.3 1311.5,750.3 1311.9,755.3 1312.3,762.9 1312.7,767 1313.1,771.1 1313.5,774.7 1313.9,780.9 1314.3,787 1314.7,794.6 1315.1,800.9 1315.5,807 1315.9,812 1316.3,819.2 1316.7,828 1317.1,837.2 1317.5,847.9 1317.9,858.2 1318.3,861.2 1318.7,855.5 1319.1,849.2 1319.5,844.2 1319.9,839.7 1320.3,834.8 1320.7,831.8 1321.1,830.7 1321.5,828.7 1321.9,824.8 1322.3,818.7 1322.7,815.9 1323.1,813.2 1323.5,816.1 1323.9,818.5 1324.3,822.7 1324.7,827.5 1325.1,833.8 1325.5,838.4 1325.9,841.5 1326.3,844.4 1326.7,847.8 1327.1,851.9 1327.5,856.1 1327.9,859.3 1328.3,863.1 1328.7,867 1329.1,872.4 1329.5,874.3 1329.9,870.5 1330.3,867 1330.7,863.4 1331.1,861 1331.5,859.2 1331.9,857.7 1332.3,854 1332.7,851 1333.1,847.8 1333.5,847.6 1333.9,845.5 1334.3,843.7 1334.7,843.3 1335.1,848.2 1335.5,850.9 1335.9,853.3 1336.3,856.6 1336.7,861 1337.1,867.3 1337.5,870.9 1337.9,874.6 1338.3,879.3 1338.7,885.4 1339.1,889.6 1339.5,894.7 1339.9,899.4 1340.3,902.9 1340.7,906.1 1341.1,906.7 1341.5,910.7 1341.9,912.9 1342.3,918.3 1342.7,923.1 1343.1,928.2 1343.5,931.4 1343.9,933 1344.3,931.8 1344.7,933.6 1345.1,934.5 1345.5,936.4 1345.9,937.3 1346.3,938.6 1346.7,939.8 1347.1,939.4 1347.5,939.1 1347.9,939 1348.3,939.6 1348.7,939.3 1349.1,939.1 1349.5,939.8 1349.9,940.2 1350.3,940.6 1350.7,939.9 1351.1,939.1 1351.5,939.8 1351.9,938.2 1352.3,937.9 1352.7,935.7 1353.1,935.2 1353.5,934.3 1353.9,937.1 1354.3,938.7 1354.7,942 1355.1,942.7 1355.5,943.6 1355.9,945.1 1356.3,946.2 1356.7,947.9 1357.1,949.1 1357.5,950.9 1357.9,953.1 1358.3,952.7 1358.7,953.8 1359.1,954 1359.5,956.3 1359.9,957.8 1360.3,960.4 1360.7,961 1361.1,961.9 1361.5,962.6 1361.9,964.1 1362.3,965.9 1362.7,966.2 1363.1,967.4 1363.5,968 1363.9,968.4 1364.3,968.7 1364.7,968.3 1365.1,969.6 1365.5,969.5 1365.9,970.5 1366.3,970.4 1366.7,970.9 1367.1,971 1367.5,970.7 1367.9,971.3 1368.3,973 1368.7,974 1369.1,975.3 1369.5,974.1 1369.9,974.8 1370.3,974.4 1370.7,975.8 1371.1,975.1 1371.5,976.4 1371.9,975.9 1372.3,976 1372.7,974.6 1373.1,975.2 1373.5,976.6 1373.9,976.6 1374.3,976.6 1374.7,975.7 1375.1,976.3 1375.5,976.5 1375.9,976.8 1376.3,977.6 1376.7,977.7 1377.1,978.7 1377.5,979.7 1377.9,980.3 1378.3,980.5 1378.7,979.6 1379.1,979.2 1379.5,979.3 1379.9,980.1 1380.3,981 1380.7,980.3 1381.1,980.9 1381.5,980.3 1381.9,981.7 1382.3,980.6 1382.7,980.9 1383.1,980 1383.5,980.3 1383.9,980.2 1384.3,980.6 1384.7,980.3 1385.1,980.8 1385.5,981.5 1385.9,982.8 1386.3,983.1 1386.7,983.2 1387.1,983.1 1387.5,982.5 1387.9,981.7 1388.3,980.9 1388.7,981.2 1389.1,980.4 1389.5,980.3 1389.9,980.6 1390.3,981 1390.7,980.3 1391.1,980.6 1391.5,980.1 1391.9,980.9 1392.3,980.1 1392.7,980.4 1393.1,980.5 1393.5,980.8 1393.9,980.3 1394.3,981.3 1394.7,980.9 1395.1,981.7 1395.5,981 1395.9,981.8 1396.3,981.6 1396.7,981.5 1397.1,981.4 1397.5,981.5 1397.9,983.3 1398.3,983.9 1398.7,984.2 1399.1,984.1 1399.5,982.6 1399.9,982.5 1400.3,983 1400.7,985.1 1401.1,985.4 1401.5,985.9 1401.9,985.7 1402.3,985.9 1402.7,985.3 1403.1,984.3 1403.5,983.2 1403.9,982.3 1404.3,981 1404.7,980.3 1405.1,980.1 1405.5,979.6 1405.9,980.2 1406.3,979.2 1406.7,978 1407.1,976 1407.5,975 1407.9,974.8 1408.3,974.5 1408.7,972.8 1409.1,972.7 1409.5,971.2 1409.9,971 1410.3,969.3 1410.7,968.7 1411.1,968.8 1411.5,967.6 1411.9,967.7 1412.3,967.3 1412.7,968.1 1413.1,967.7 1413.5,967.7 1413.9,966.8 1414.3,965.6 1414.7,964 1415.1,963.7 1415.5,962.4 1415.9,962.8 1416.3,961.7 1416.7,961.4 1417.1,960.7 1417.5,961.6 1417.9,959.9 1418.3,958.4 1418.7,956.2 1419.1,957.7 1419.5,957.4 1419.9,955.8 1420.3,954.5 1420.7,954.1 1421.1,955.4 1421.5,955 1421.9,953.7 1422.3,950.7 1422.7,949.3 1423.1,948.3 1423.5,948.9 1423.9,948 1424.3,946.2 1424.7,944.6 1425.1,942.2 1425.5,942.4 1425.9,941.2 1426.3,939.6 1426.7,937.3 1427.1,935.5 1427.5,934.6 1427.9,933 1428.3,933.2 1428.7,931.1 1429.1,928 1429.5,925 1429.9,921.9 1430.3,918.2 1430.7,913.8 1431.1,910.2 1431.5,906.5 1431.9,904.2 1432.3,899.2 1432.7,894.9 1433.1,890.6 1433.5,888 1433.9,885.3 1434.3,881.7 1434.7,878.1 1435.1,872.7 1435.5,867.4 1435.9,860.8 1436.3,856.3 1436.7,852.2 1437.1,850.4 1437.5,847.7 1437.9,843.9 1438.3,839.1 1438.7,834 1439.1,831.5 1439.5,826.6 1439.9,823.4 1440.3,819.2 1440.7,817.2 1441.1,816.8 1441.5,820.9 1441.9,821.5 1442.3,823.3 1442.7,822.1 1443.1,824.1 1443.5,826.4 1443.9,829 1444.3,832.5 1444.7,836.7 1445.1,840.1 1445.5,845.9 1445.9,850.1 1446.3,853.9 1446.7,858.1 1447.1,862.1 1447.5,865.3 1447.9,863.1 1448.3,864.3 1448.7,862.9 1449.1,859.4 1449.5,856.9 1449.9,855.6 1450.3,855.5 1450.7,853.6 1451.1,851.8 1451.5,847.9 1451.9,845.6 1452.3,840.5 1452.7,837.3 1453.1,838.8 1453.5,840.7 1453.9,842.8 1454.3,841.1 1454.7,842.8 1455.1,843.7 1455.5,845.4 1455.9,846 1456.3,846.6 1456.7,846.7 1457.1,847.9 1457.5,847.9 1457.9,848.9 1458.3,848.2 1458.7,850.4 1459.1,852.8 1459.5,852.5 1459.9,847.2 1460.3,842.6 1460.7,839.2 1461.1,835.3 1461.5,831.2 1461.9,830.5 1462.3,831.4 1462.7,832.4 1463.1,835 1463.5,838.1 1463.9,838.4 1464.3,838 1464.7,837.5 1465.1,839.2 1465.5,840.5 1465.9,843.1 1466.3,847.5 1466.7,853.3 1467.1,856 1467.5,860.2 1467.9,861.8 1468.3,869.5 1468.7,873.3 1469.1,880.8 1469.5,879.3 1469.9,879.4 1470.3,875.1 1470.7,871.5 1471.1,867.9 1471.5,866.7 1471.9,866.9 1472.3,867 1472.7,864.6 1473.1,859.7 1473.5,856.7 1473.9,856.6 1474.3,857.5 1474.7,855.6 1475.1,853.9 1475.5,851.8 1475.9,852.5 1476.3,856.4 1476.7,862.5 1477.1,867.6 1477.5,873.4 1477.9,877 1478.3,881.1 1478.7,882.4 1479.1,884.5 1479.5,887.2 1479.9,891.3 1480.3,894.9 1480.7,894.1 1481.1,895.3 1481.5,897 1481.9,900.2 1482.3,901.3 1482.7,902.4 1483.1,904.4 1483.5,905.5 1483.9,906.9 1484.3,908.7 1484.7,911.7 1485.1,914.1 1485.5,917.5 1485.9,921.4 1486.3,923.4 1486.7,925.1 1487.1,926.4 1487.5,931.1 1487.9,933.8 1488.3,936 1488.7,937.7 1489.1,939.3 1489.5,940.8 1489.9,942.7 1490.3,944.4 1490.7,946.6 1491.1,947.4 1491.5,950.3 1491.9,952.6 1492.3,954.8 1492.7,954.4 1493.1,954.4 1493.5,954.5 1493.9,955 1494.3,954.1 1494.7,954.3 1495.1,954 1495.5,955.4 1495.9,955.2 1496.3,955.9 1496.7,954 1497.1,953.9 1497.5,954.6 1497.9,957.6 1498.3,958.6 1498.7,957.7 1499.1,957.4 1499.5,957.7 1499.9,959.9 1500.3,960.2 1500.7,961 1501.1,960.5 1501.5,961.5 1501.9,960.8 1502.3,961.3 1502.7,962.2 1503.1,964.1 1503.5,966.1 1503.9,966.2 1504.3,967 1504.7,967.9 1505.1,970.4 1505.5,971.5 1505.9,971.9 1506.3,972.2 1506.7,971.9 1507.1,970.9 1507.5,970.2 1507.9,971.1 1508.3,972.4 1508.7,971.3 1509.1,971.5 1509.5,970.8 1509.9,971.6 1510.3,970.4 1510.7,970 1511.1,971.1 1511.5,970.8 1511.9,971.7 1512.3,970.4 1512.7,971.7 1513.1,971.5 1513.5,973 1513.9,972.8 1514.3,973.8 1514.7,974.2 1515.1,974.7 1515.5,975.1 1515.9,974.9 1516.3,974.5 1516.7,973.7 1517.1,974.2 1517.5,973.6 1517.9,973.3 1518.3,973.6 1518.7,975.4 1519.1,976.6 1519.5,977.2 1519.9,977.1 1520.3,977.8 1520.7,978 1521.1,977.5 1521.5,977.8 1521.9,978.1 1522.3,978.9 1522.7,978.9 1523.1,978.9 1523.5,980.3 1523.9,980.8 1524.3,981 1524.7,980.2 1525.1,980.2 1525.5,980.9 1525.9,980.9 1526.3,981.6 1526.7,981.6 1527.1,982.4 1527.5,982.3 1527.9,983.1 1528.3,983.1 1528.7,983.8 1529.1,985 1529.5,986 1529.9,985.7 1530.3,985 1530.7,984.8 1531.1,985.6 1531.5,986.4 1531.9,987.2 1532.3,988.5 1532.7,989 1533.1,990.3 1533.5,989.8 1533.9,990.4 1534.3,990.5 1534.7,992.1 1535.1,992.5 1535.5,991.8 1535.9,992.4 1536.3,992.9 1536.7,994.5 1537.1,993 1537.5,992.6 1537.9,992.8 1538.3,993.9 1538.7,994.7 1539.1,994 1539.5,993.1 1539.9,991.9 1540.3,992 1540.7,992.1 1541.1,991.9 1541.5,991.4 1541.9,991.5 1542.3,992.2 1542.7,992.6 1543.1,992.4 1543.5,992 1543.9,991.9 1544.3,991.5 1544.7,991.1 1545.1,990.6 1545.5,990.8 1545.9,991.5 1546.3,992.1 1546.7,991.9 1547.1,992 1547.5,992.3 1547.9,992.4 1548.3,992.5 1548.7,992.8 1549.1,993.6 1549.5,994.1 1549.9,994.3 1550.3,994.9 1550.7,994.7 1551.1,995.2 1551.5,994.9 1551.9,996 1552.3,995.9 1552.7,995.7 1553.1,994.9 1553.5,995.6 1553.9,996 1554.3,997.3 1554.7,996.6 1555.1,996.8 1555.5,996.4 1555.9,996.6 1556.3,996.9 1556.7,997.1 1557.1,998.3 1557.5,998.7 1557.9,999.3 1558.3,999.4 1558.7,1000.1 1559.1,1000.1 1559.5,1000 1559.9,999.7 1560.3,999.6 1560.7,999.5 1561.1,999.9 1561.5,1001 1561.9,1001.2 1562.3,1001.1 1562.7,1000.8 1563.1,1001.2 1563.5,1001.7 1563.9,1001.9 1564.3,1001.8 1564.7,1002.1 1565.1,1002.6 1565.5,1003.1 1565.9,1002.8 1566.3,1002.4 1566.7,1002.5 1567.1,1002.7 1567.5,1003.4 1567.9,1003.2 1568.3,1004 1568.7,1004.1 1569.1,1004.8 1569.5,1004.5 1569.9,1004.7 1570.3,1004.3 1570.7,1004.2 1571.1,1004.2 1571.5,1004.4 1571.9,1004.4 1572.3,1004.5 1572.7,1004.5 1573.1,1005 1573.5,1005 1573.9,1004.8 1574.3,1004.7 1574.7,1004.6 1575.1,1005.1 1575.5,1005.1 1575.9,1005.3 1576.3,1005.4 1576.7,1005 1577.1,1005.6 1577.5,1005.3 1577.9,1005.7 1578.3,1005.1 1578.7,1005.5 1579.1,1005.4 1579.5,1005.6 1579.9,1005.9 1580.3,1006.6 1580.7,1006.6 1581.1,1006.3 1581.5,1005.9 1581.9,1005.9 1582.3,1006.2 1582.7,1005.9 1583.1,1006.1 1583.5,1006.2 1583.9,1006.2 1584.3,1006.1 1584.7,1005.7 1585.1,1005.9 1585.5,1005.9 1585.9,1006.5 1586.3,1006.6 1586.7,1006.7 1587.1,1006.1 1587.5,1006.1 1587.9,1005.9 1588.3,1006.3 1588.7,1006.4 1589.1,1006.7 1589.5,1006.5 1589.9,1006.5 1590.3,1006.4 1590.7,1006.3 1591.1,1006.2 1591.5,1006 1591.9,1006.3 1592.3,1006.7 1592.7,1007 1593.1,1007.1 1593.5,1006.8 1593.9,1006.9 1594.3,1006.9 1594.7,1007.3 1595.1,1007.3 1595.5,1007.5 1595.9,1007.4 1596.3,1007.5 1596.7,1006.7 1597.1,1006.8 1597.5,1006.8 1597.9,1007.1 1598.3,1006.6 1598.7,1006.6 1599.1,1006.8 1599.5,1007.6 1599.9,1007.5 1600.3,1007.3 1600.7,1007.2 1601.1,1007.7 1601.5,1007.9 1601.9,1007.8 1602.3,1007.6 1602.7,1007.6 1603.1,1007.3 1603.5,1007 1603.9,1007 1604.3,1007.2 1604.7,1007.8 1605.1,1007.8 1605.5,1007.3 1605.9,1007.4 1606.3,1007.5 1606.7,1007.7 1607.1,1007.2 1607.5,1007.3 1607.9,1007.3 1608.3,1007.2 1608.7,1006.8 1609.1,1006.8" fill="none" stroke="#ec0a82" stroke-width="4.3" stroke-linejoin="round" stroke-linecap="butt" clip-path="url(#c_sio2)"/>
<path d="M1094.8,1012.1v-16.5M1266.4,1012.1v-16.5M1438.1,1012.1v-16.5" stroke="#000" stroke-width="3.3" fill="none"/>
<rect x="923.1" y="576.3" width="686.6" height="435.8" fill="none" stroke="#000" stroke-width="3.55"/>
<polygon points="1396.9,830.2 1402.7,830.2 1402.7,901.5 1408.4,901.5 1399.8,939.6 1391.2,901.5 1396.9,901.5" fill="#000"/>
</g>
<g font-family='"DejaVu Sans", "Liberation Sans", sans-serif' font-size="37.4" fill="#000" stroke="#000" stroke-width="0.4"><text x="43.2" y="78.8" text-anchor="middle">0.0</text><text x="272.3" y="78.8" text-anchor="middle">2.5</text><text x="501.4" y="78.8" text-anchor="middle">5.0</text><text x="730.5" y="78.8" text-anchor="middle">7.5</text><text x="923.1" y="78.8" text-anchor="middle">0</text><text x="1152" y="78.8" text-anchor="middle">50</text><text x="1380.8" y="78.8" text-anchor="middle">100</text><text x="1609.7" y="78.8" text-anchor="middle">150</text><text x="43.2" y="1055.1" text-anchor="middle">0</text><text x="215" y="1055.1" text-anchor="middle">5</text><text x="386.8" y="1055.1" text-anchor="middle">10</text><text x="558.7" y="1055.1" text-anchor="middle">15</text><text x="730.5" y="1055.1" text-anchor="middle">20</text><text x="923.1" y="1055.1" text-anchor="middle">0</text><text x="1094.8" y="1055.1" text-anchor="middle">10</text><text x="1266.4" y="1055.1" text-anchor="middle">20</text><text x="1438.1" y="1055.1" text-anchor="middle">30</text><text x="1609.7" y="1055.1" text-anchor="middle">40</text><text x="66" y="837.3" text-anchor="middle">0</text><text x="201.7" y="837.3" text-anchor="middle">1</text><text x="337.3" y="837.3" text-anchor="middle">2</text><text x="322" y="29.2"><tspan font-style="italic">f</tspan><tspan x="335"> [THz]</tspan></text><text x="322" y="1097.7"><tspan font-style="italic">f</tspan><tspan x="335"> [THz]</tspan></text><text x="1201.5" y="29.2"><tspan font-style="italic">f</tspan><tspan x="1214.5"> [THz]</tspan></text><text x="1201.5" y="1097.7"><tspan font-style="italic">f</tspan><tspan x="1214.5"> [THz]</tspan></text><text transform="translate(27.6,320.5) rotate(-90)" text-anchor="middle" font-style="italic">S</text><text transform="translate(27.6,795) rotate(-90)" text-anchor="middle" font-style="italic">S</text><text transform="translate(1649.4,320.5) rotate(-90)" text-anchor="middle" font-style="italic">S</text><text transform="translate(1649.4,795) rotate(-90)" text-anchor="middle" font-style="italic">S</text></g><g font-family='"DejaVu Sans", "Liberation Sans", sans-serif' font-size="50.3" fill="#000" stroke="#000" stroke-width="0.5"><text x="558.7" y="192.5">Ar</text><text x="558.7" y="667.9">MgO</text><text x="1472.0" y="192.2">H<tspan font-size="35.2" dy="8.5" dx="0.9">2</tspan><tspan dy="-8.5" dx="2.0">O</tspan></text><text x="1424.0" y="663.3">a-SiO<tspan font-size="35.2" dy="8.7" dx="0.9">2</tspan></text></g>
</svg>
</body>
</html>
